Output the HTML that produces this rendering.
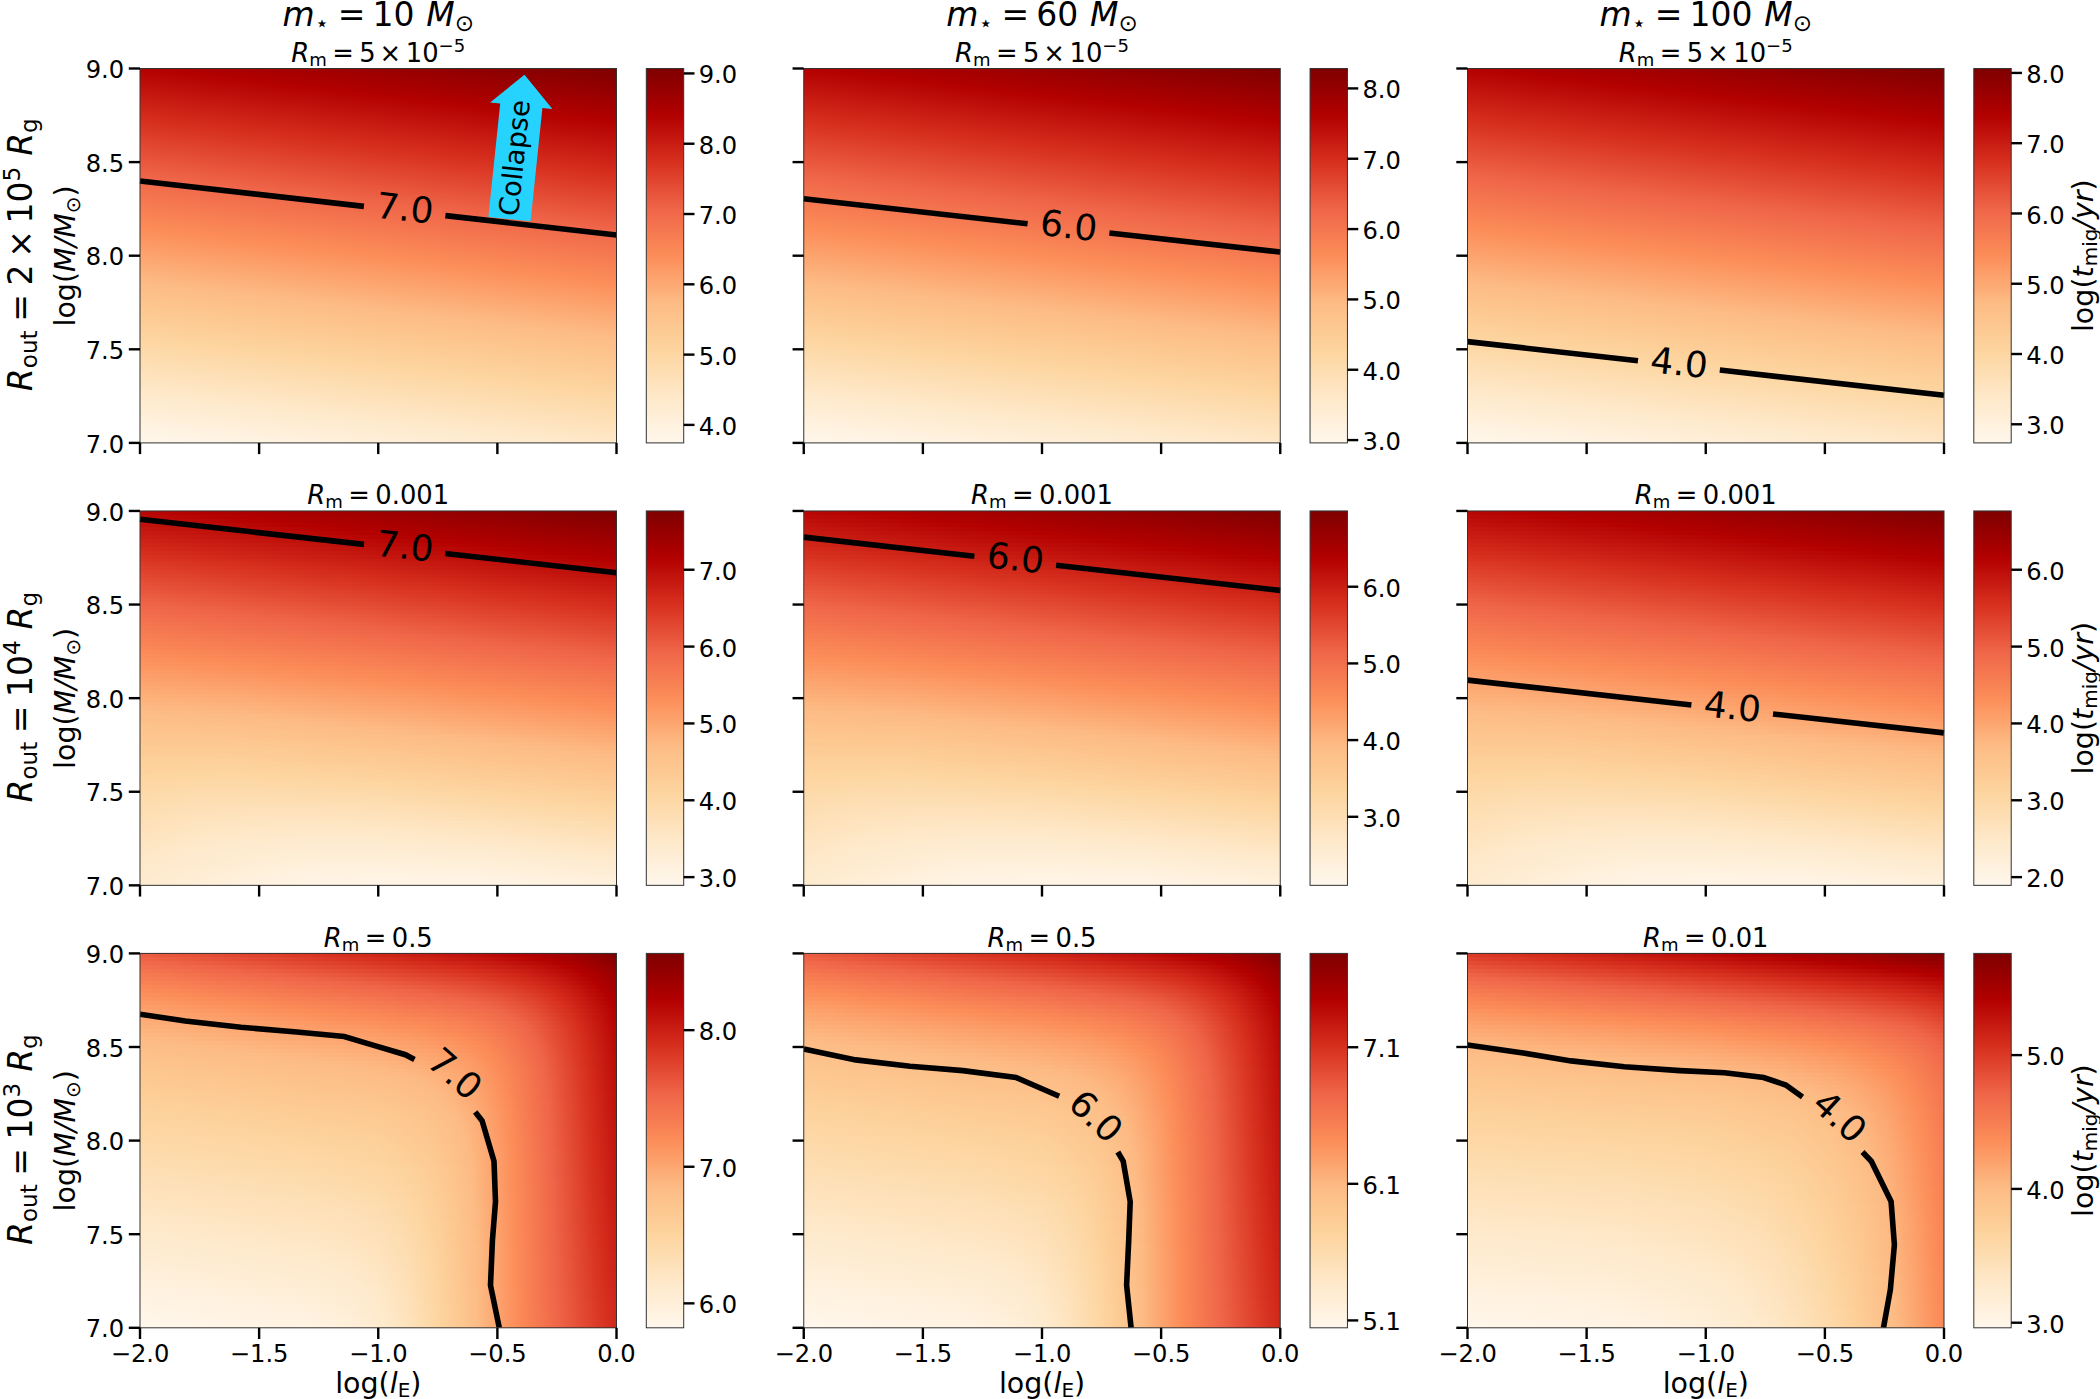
<!DOCTYPE html>
<html><head><meta charset="utf-8"><title>Migration timescale maps</title>
<style>html,body{margin:0;padding:0;background:#fff}svg{display:block}text{font-family:'DejaVu Sans','Liberation Sans',sans-serif;fill:#000}</style>
</head><body>
<svg width="2100" height="1399" viewBox="0 0 2100 1399">
<defs>
<linearGradient id="g00" gradientUnits="userSpaceOnUse" x1="140.00" y1="442.90" x2="187.99" y2="19.88"><stop offset="0" stop-color="#fff7ec"/><stop offset=".125" stop-color="#fee8c8"/><stop offset=".25" stop-color="#fdd49e"/><stop offset=".375" stop-color="#fdbb84"/><stop offset=".5" stop-color="#fc8d59"/><stop offset=".625" stop-color="#ef6548"/><stop offset=".75" stop-color="#d7301f"/><stop offset=".875" stop-color="#b30000"/><stop offset="1" stop-color="#7f0000"/></linearGradient>
<linearGradient id="g01" gradientUnits="userSpaceOnUse" x1="803.75" y1="442.90" x2="851.74" y2="19.88"><stop offset="0" stop-color="#fff7ec"/><stop offset=".125" stop-color="#fee8c8"/><stop offset=".25" stop-color="#fdd49e"/><stop offset=".375" stop-color="#fdbb84"/><stop offset=".5" stop-color="#fc8d59"/><stop offset=".625" stop-color="#ef6548"/><stop offset=".75" stop-color="#d7301f"/><stop offset=".875" stop-color="#b30000"/><stop offset="1" stop-color="#7f0000"/></linearGradient>
<linearGradient id="g02" gradientUnits="userSpaceOnUse" x1="1467.50" y1="442.90" x2="1515.49" y2="19.88"><stop offset="0" stop-color="#fff7ec"/><stop offset=".125" stop-color="#fee8c8"/><stop offset=".25" stop-color="#fdd49e"/><stop offset=".375" stop-color="#fdbb84"/><stop offset=".5" stop-color="#fc8d59"/><stop offset=".625" stop-color="#ef6548"/><stop offset=".75" stop-color="#d7301f"/><stop offset=".875" stop-color="#b30000"/><stop offset="1" stop-color="#7f0000"/></linearGradient>
<linearGradient id="g10_0"><stop offset="0" stop-color="#b80705"/><stop offset=".1375" stop-color="#b30000"/><stop offset=".5" stop-color="#9e0000"/><stop offset="1" stop-color="#810000"/></linearGradient>
<linearGradient id="g10_1"><stop offset="0" stop-color="#bb0b07"/><stop offset=".2083" stop-color="#b30000"/><stop offset=".5" stop-color="#a20000"/><stop offset="1" stop-color="#850000"/></linearGradient>
<linearGradient id="g10_2"><stop offset="0" stop-color="#be0f0a"/><stop offset=".2792" stop-color="#b30000"/><stop offset=".5" stop-color="#a60000"/><stop offset="1" stop-color="#890000"/></linearGradient>
<linearGradient id="g10_3"><stop offset="0" stop-color="#c1130c"/><stop offset=".3542" stop-color="#b30000"/><stop offset=".5" stop-color="#ab0000"/><stop offset="1" stop-color="#8d0000"/></linearGradient>
<linearGradient id="g10_4"><stop offset="0" stop-color="#c4170f"/><stop offset=".425" stop-color="#b30000"/><stop offset=".5" stop-color="#af0000"/><stop offset="1" stop-color="#920000"/></linearGradient>
<linearGradient id="g10_5"><stop offset="0" stop-color="#c71b11"/><stop offset=".5" stop-color="#b30000"/><stop offset="1" stop-color="#960000"/></linearGradient>
<linearGradient id="g10_6"><stop offset="0" stop-color="#ca1e14"/><stop offset=".5" stop-color="#b60403"/><stop offset=".575" stop-color="#b30000"/><stop offset="1" stop-color="#9a0000"/></linearGradient>
<linearGradient id="g10_7"><stop offset="0" stop-color="#cd2216"/><stop offset=".5" stop-color="#b90805"/><stop offset=".6458" stop-color="#b30000"/><stop offset="1" stop-color="#9e0000"/></linearGradient>
<linearGradient id="g10_8"><stop offset="0" stop-color="#d02619"/><stop offset=".5" stop-color="#bc0c08"/><stop offset=".7167" stop-color="#b30000"/><stop offset="1" stop-color="#a30000"/></linearGradient>
<linearGradient id="g10_9"><stop offset="0" stop-color="#d32a1b"/><stop offset=".5" stop-color="#bf100a"/><stop offset=".7917" stop-color="#b30000"/><stop offset="1" stop-color="#a70000"/></linearGradient>
<linearGradient id="g10_10"><stop offset="0" stop-color="#d52e1e"/><stop offset=".5" stop-color="#c2140d"/><stop offset=".8625" stop-color="#b30000"/><stop offset="1" stop-color="#ab0000"/></linearGradient>
<linearGradient id="g10_11"><stop offset="0" stop-color="#d83221"/><stop offset=".5" stop-color="#c5170f"/><stop offset=".9333" stop-color="#b30000"/><stop offset="1" stop-color="#af0000"/></linearGradient>
<linearGradient id="g10_12"><stop offset="0" stop-color="#da3624"/><stop offset=".1125" stop-color="#d7301f"/><stop offset=".5" stop-color="#c81b12"/><stop offset="1" stop-color="#b30000"/></linearGradient>
<linearGradient id="g10_13"><stop offset="0" stop-color="#dc3b27"/><stop offset=".1875" stop-color="#d7301f"/><stop offset=".5" stop-color="#ca1f14"/><stop offset="1" stop-color="#b60403"/></linearGradient>
<linearGradient id="g10_14"><stop offset="0" stop-color="#de3f2a"/><stop offset=".2583" stop-color="#d7301f"/><stop offset=".5" stop-color="#cd2317"/><stop offset="1" stop-color="#b90805"/></linearGradient>
<linearGradient id="g10_15"><stop offset="0" stop-color="#e0432e"/><stop offset=".3333" stop-color="#d7301f"/><stop offset=".5" stop-color="#d02719"/><stop offset="1" stop-color="#bc0c08"/></linearGradient>
<linearGradient id="g10_16"><stop offset="0" stop-color="#e24731"/><stop offset=".5" stop-color="#d32b1c"/><stop offset="1" stop-color="#bf100a"/></linearGradient>
<linearGradient id="g10_17"><stop offset="0" stop-color="#e44c34"/><stop offset=".5" stop-color="#d62f1e"/><stop offset="1" stop-color="#c2140d"/></linearGradient>
<linearGradient id="g10_18"><stop offset="0" stop-color="#e55038"/><stop offset=".5" stop-color="#d83321"/><stop offset="1" stop-color="#c5180f"/></linearGradient>
<linearGradient id="g10_19"><stop offset="0" stop-color="#e7543b"/><stop offset=".5" stop-color="#da3725"/><stop offset=".625" stop-color="#d7301f"/><stop offset="1" stop-color="#c81c12"/></linearGradient>
<linearGradient id="g10_20"><stop offset="0" stop-color="#e9583e"/><stop offset=".5" stop-color="#dc3c28"/><stop offset=".7" stop-color="#d7301f"/><stop offset="1" stop-color="#cb2015"/></linearGradient>
<linearGradient id="g10_21"><stop offset="0" stop-color="#eb5d41"/><stop offset=".5" stop-color="#de402b"/><stop offset=".7708" stop-color="#d7301f"/><stop offset="1" stop-color="#ce2417"/></linearGradient>
<linearGradient id="g10_22"><stop offset="0" stop-color="#ed6145"/><stop offset=".5" stop-color="#e0442f"/><stop offset=".8417" stop-color="#d7301f"/><stop offset="1" stop-color="#d1281a"/></linearGradient>
<linearGradient id="g10_23"><stop offset="0" stop-color="#ef6548"/><stop offset=".5" stop-color="#e24932"/><stop offset="1" stop-color="#d42b1c"/></linearGradient>
<linearGradient id="g10_24"><stop offset="0" stop-color="#f06849"/><stop offset=".0833" stop-color="#ef6548"/><stop offset=".5" stop-color="#e44d35"/><stop offset="1" stop-color="#d72f1f"/></linearGradient>
<linearGradient id="g10_25"><stop offset="0" stop-color="#f16b4b"/><stop offset=".1583" stop-color="#ef6548"/><stop offset=".5" stop-color="#e65139"/><stop offset="1" stop-color="#d93422"/></linearGradient>
<linearGradient id="g10_26"><stop offset="0" stop-color="#f26e4c"/><stop offset=".2333" stop-color="#ef6548"/><stop offset=".5" stop-color="#e8563c"/><stop offset="1" stop-color="#db3825"/></linearGradient>
<linearGradient id="g10_27"><stop offset="0" stop-color="#f3724d"/><stop offset=".3083" stop-color="#ef6548"/><stop offset=".5" stop-color="#ea5a3f"/><stop offset="1" stop-color="#dd3c29"/></linearGradient>
<linearGradient id="g10_28"><stop offset="0" stop-color="#f4754f"/><stop offset=".3833" stop-color="#ef6548"/><stop offset=".5" stop-color="#ec5e43"/><stop offset="1" stop-color="#df412c"/></linearGradient>
<linearGradient id="g10_29"><stop offset="0" stop-color="#f57850"/><stop offset=".5" stop-color="#ee6346"/><stop offset="1" stop-color="#e0452f"/></linearGradient>
<linearGradient id="g10_30"><stop offset="0" stop-color="#f67b51"/><stop offset=".5" stop-color="#ef6649"/><stop offset="1" stop-color="#e24933"/></linearGradient>
<linearGradient id="g10_31"><stop offset="0" stop-color="#f77e53"/><stop offset=".5" stop-color="#f16a4a"/><stop offset=".6083" stop-color="#ef6548"/><stop offset="1" stop-color="#e44e36"/></linearGradient>
<linearGradient id="g10_32"><stop offset="0" stop-color="#f88154"/><stop offset=".5" stop-color="#f26d4b"/><stop offset=".6792" stop-color="#ef6548"/><stop offset="1" stop-color="#e65239"/></linearGradient>
<linearGradient id="g10_33"><stop offset="0" stop-color="#f98455"/><stop offset=".5" stop-color="#f3704d"/><stop offset=".75" stop-color="#ef6548"/><stop offset="1" stop-color="#e8563d"/></linearGradient>
<linearGradient id="g10_34"><stop offset="0" stop-color="#fa8757"/><stop offset=".5" stop-color="#f4734e"/><stop offset=".825" stop-color="#ef6548"/><stop offset="1" stop-color="#ea5b40"/></linearGradient>
<linearGradient id="g10_35"><stop offset="0" stop-color="#fb8b58"/><stop offset=".5" stop-color="#f5774f"/><stop offset=".8958" stop-color="#ef6548"/><stop offset="1" stop-color="#ec5f43"/></linearGradient>
<linearGradient id="g10_36"><stop offset="0" stop-color="#fc8e5a"/><stop offset=".5" stop-color="#f67a51"/><stop offset="1" stop-color="#ee6347"/></linearGradient>
<linearGradient id="g10_37"><stop offset="0" stop-color="#fc915d"/><stop offset=".1125" stop-color="#fc8d59"/><stop offset=".5" stop-color="#f77d52"/><stop offset="1" stop-color="#f06749"/></linearGradient>
<linearGradient id="g10_38"><stop offset="0" stop-color="#fc9560"/><stop offset=".1958" stop-color="#fc8d59"/><stop offset=".5" stop-color="#f88054"/><stop offset="1" stop-color="#f16a4a"/></linearGradient>
<linearGradient id="g10_39"><stop offset="0" stop-color="#fc9863"/><stop offset=".2792" stop-color="#fc8d59"/><stop offset=".5" stop-color="#f98455"/><stop offset="1" stop-color="#f26d4c"/></linearGradient>
<linearGradient id="g10_40"><stop offset="0" stop-color="#fc9c67"/><stop offset=".3542" stop-color="#fc8d59"/><stop offset=".5" stop-color="#fa8756"/><stop offset="1" stop-color="#f3714d"/></linearGradient>
<linearGradient id="g10_41"><stop offset="0" stop-color="#fc9f6a"/><stop offset=".5" stop-color="#fb8a58"/><stop offset="1" stop-color="#f4744e"/></linearGradient>
<linearGradient id="g10_42"><stop offset="0" stop-color="#fca26d"/><stop offset=".2042" stop-color="#fc9b66"/><stop offset=".5" stop-color="#fc8d59"/><stop offset="1" stop-color="#f57750"/></linearGradient>
<linearGradient id="g10_43"><stop offset="0" stop-color="#fda670"/><stop offset=".2042" stop-color="#fc9f6a"/><stop offset=".5" stop-color="#fc915d"/><stop offset=".5833" stop-color="#fc8d59"/><stop offset="1" stop-color="#f67a51"/></linearGradient>
<linearGradient id="g10_44"><stop offset="0" stop-color="#fda973"/><stop offset=".2042" stop-color="#fca26d"/><stop offset=".5" stop-color="#fc9560"/><stop offset=".6583" stop-color="#fc8d59"/><stop offset="1" stop-color="#f77e53"/></linearGradient>
<linearGradient id="g10_45"><stop offset="0" stop-color="#fdac76"/><stop offset=".2042" stop-color="#fda670"/><stop offset=".5" stop-color="#fc9964"/><stop offset=".7292" stop-color="#fc8d59"/><stop offset="1" stop-color="#f88154"/></linearGradient>
<linearGradient id="g10_46"><stop offset="0" stop-color="#fdb079"/><stop offset=".2042" stop-color="#fdaa74"/><stop offset=".5" stop-color="#fc9c67"/><stop offset=".8042" stop-color="#fc8d59"/><stop offset="1" stop-color="#f98455"/></linearGradient>
<linearGradient id="g10_47"><stop offset="0" stop-color="#fdb37d"/><stop offset=".2042" stop-color="#fdad77"/><stop offset=".5" stop-color="#fca06b"/><stop offset=".875" stop-color="#fc8d59"/><stop offset="1" stop-color="#fa8757"/></linearGradient>
<linearGradient id="g10_48"><stop offset="0" stop-color="#fdb680"/><stop offset=".2083" stop-color="#fdb17a"/><stop offset=".5" stop-color="#fca46e"/><stop offset=".95" stop-color="#fc8d59"/><stop offset="1" stop-color="#fb8b58"/></linearGradient>
<linearGradient id="g10_49"><stop offset="0" stop-color="#fdb983"/><stop offset=".2083" stop-color="#fdb47e"/><stop offset=".5" stop-color="#fda772"/><stop offset="1" stop-color="#fc8e5a"/></linearGradient>
<linearGradient id="g10_50"><stop offset="0" stop-color="#fdbc85"/><stop offset=".1875" stop-color="#fdb881"/><stop offset=".5" stop-color="#fdab75"/><stop offset="1" stop-color="#fc925e"/></linearGradient>
<linearGradient id="g10_51"><stop offset="0" stop-color="#fdbe87"/><stop offset=".2125" stop-color="#fdbb84"/><stop offset=".5" stop-color="#fdaf79"/><stop offset="1" stop-color="#fc9661"/></linearGradient>
<linearGradient id="g10_52"><stop offset="0" stop-color="#fdbf88"/><stop offset=".3042" stop-color="#fdbb84"/><stop offset=".5" stop-color="#fdb27c"/><stop offset="1" stop-color="#fc9965"/></linearGradient>
<linearGradient id="g10_53"><stop offset="0" stop-color="#fdc18a"/><stop offset=".3208" stop-color="#fdbd86"/><stop offset=".5" stop-color="#fdb67f"/><stop offset="1" stop-color="#fc9d68"/></linearGradient>
<linearGradient id="g10_54"><stop offset="0" stop-color="#fdc38c"/><stop offset=".2292" stop-color="#fdc08a"/><stop offset=".5" stop-color="#fdba83"/><stop offset="1" stop-color="#fca16c"/></linearGradient>
<linearGradient id="g10_55"><stop offset="0" stop-color="#fdc48e"/><stop offset=".2125" stop-color="#fdc38c"/><stop offset=".5" stop-color="#fdbc85"/><stop offset="1" stop-color="#fda56f"/></linearGradient>
<linearGradient id="g10_56"><stop offset="0" stop-color="#fdc68f"/><stop offset=".2125" stop-color="#fdc48e"/><stop offset=".5" stop-color="#fdbe87"/><stop offset=".6333" stop-color="#fdbb84"/><stop offset="1" stop-color="#fda873"/></linearGradient>
<linearGradient id="g10_57"><stop offset="0" stop-color="#fdc791"/><stop offset=".2125" stop-color="#fdc690"/><stop offset=".5" stop-color="#fdc08a"/><stop offset=".7042" stop-color="#fdbb84"/><stop offset="1" stop-color="#fdac76"/></linearGradient>
<linearGradient id="g10_58"><stop offset="0" stop-color="#fdc993"/><stop offset=".2125" stop-color="#fdc892"/><stop offset=".5" stop-color="#fdc28c"/><stop offset=".7792" stop-color="#fdbb84"/><stop offset="1" stop-color="#fdb07a"/></linearGradient>
<linearGradient id="g10_59"><stop offset="0" stop-color="#fdcb94"/><stop offset=".2167" stop-color="#fdca93"/><stop offset=".5" stop-color="#fdc48e"/><stop offset=".8542" stop-color="#fdbb84"/><stop offset="1" stop-color="#fdb47d"/></linearGradient>
<linearGradient id="g10_60"><stop offset="0" stop-color="#fdcc96"/><stop offset=".2167" stop-color="#fdcc95"/><stop offset=".5" stop-color="#fdc690"/><stop offset=".925" stop-color="#fdbb84"/><stop offset="1" stop-color="#fdb781"/></linearGradient>
<linearGradient id="g10_61"><stop offset="0" stop-color="#fdce97"/><stop offset=".2167" stop-color="#fdcd97"/><stop offset=".5" stop-color="#fdc892"/><stop offset="1" stop-color="#fdbb84"/></linearGradient>
<linearGradient id="g10_62"><stop offset="0" stop-color="#fdcf99"/><stop offset=".2167" stop-color="#fdcf99"/><stop offset=".5" stop-color="#fdca94"/><stop offset="1" stop-color="#fdbd86"/></linearGradient>
<linearGradient id="g10_63"><stop offset="0" stop-color="#fdd19a"/><stop offset=".2208" stop-color="#fdd19b"/><stop offset=".5" stop-color="#fdcc96"/><stop offset="1" stop-color="#fdbf88"/></linearGradient>
<linearGradient id="g10_64"><stop offset="0" stop-color="#fdd29c"/><stop offset=".2208" stop-color="#fdd39d"/><stop offset=".5" stop-color="#fdce98"/><stop offset="1" stop-color="#fdc18a"/></linearGradient>
<linearGradient id="g10_65"><stop offset="0" stop-color="#fdd39d"/><stop offset=".1917" stop-color="#fdd59f"/><stop offset=".5" stop-color="#fdd09a"/><stop offset="1" stop-color="#fdc38d"/></linearGradient>
<linearGradient id="g10_66"><stop offset="0" stop-color="#fdd59f"/><stop offset=".2083" stop-color="#fdd6a2"/><stop offset=".5" stop-color="#fdd29c"/><stop offset="1" stop-color="#fdc58f"/></linearGradient>
<linearGradient id="g10_67"><stop offset="0" stop-color="#fdd6a2"/><stop offset=".1083" stop-color="#fdd7a4"/><stop offset=".225" stop-color="#fdd7a5"/><stop offset=".5" stop-color="#fdd49e"/><stop offset="1" stop-color="#fdc791"/></linearGradient>
<linearGradient id="g10_68"><stop offset="0" stop-color="#fdd7a4"/><stop offset=".1083" stop-color="#fdd8a7"/><stop offset=".225" stop-color="#fdd8a7"/><stop offset=".5" stop-color="#fdd6a1"/><stop offset="1" stop-color="#fdc993"/></linearGradient>
<linearGradient id="g10_69"><stop offset="0" stop-color="#fdd8a6"/><stop offset=".1125" stop-color="#fdd9a9"/><stop offset=".225" stop-color="#fddaaa"/><stop offset=".5" stop-color="#fdd7a5"/><stop offset="1" stop-color="#fdcb95"/></linearGradient>
<linearGradient id="g10_70"><stop offset="0" stop-color="#fdd9a8"/><stop offset=".1125" stop-color="#fddbac"/><stop offset=".2292" stop-color="#fddbad"/><stop offset=".5" stop-color="#fdd9a8"/><stop offset=".75" stop-color="#fdd49e"/><stop offset="1" stop-color="#fdcd97"/></linearGradient>
<linearGradient id="g10_71"><stop offset="0" stop-color="#fddaaa"/><stop offset=".1125" stop-color="#fddcae"/><stop offset=".2292" stop-color="#fddcb0"/><stop offset=".5" stop-color="#fddaab"/><stop offset=".8292" stop-color="#fdd49e"/><stop offset="1" stop-color="#fdcf99"/></linearGradient>
<linearGradient id="g10_72"><stop offset="0" stop-color="#fddbac"/><stop offset=".1167" stop-color="#fdddb1"/><stop offset=".2333" stop-color="#fddeb2"/><stop offset=".5" stop-color="#fddcae"/><stop offset="1" stop-color="#fdd19b"/></linearGradient>
<linearGradient id="g10_73"><stop offset="0" stop-color="#fddcae"/><stop offset=".1167" stop-color="#fedeb3"/><stop offset=".2333" stop-color="#fedfb5"/><stop offset=".5" stop-color="#fdddb1"/><stop offset="1" stop-color="#fdd39d"/></linearGradient>
<linearGradient id="g10_74"><stop offset="0" stop-color="#fdddb0"/><stop offset=".1167" stop-color="#fedfb6"/><stop offset=".2333" stop-color="#fee0b8"/><stop offset=".3583" stop-color="#fee0b8"/><stop offset=".5" stop-color="#fedfb5"/><stop offset="1" stop-color="#fdd5a0"/></linearGradient>
<linearGradient id="g10_75"><stop offset="0" stop-color="#fddeb2"/><stop offset=".1208" stop-color="#fee0b8"/><stop offset=".2375" stop-color="#fee2ba"/><stop offset=".3625" stop-color="#fee2ba"/><stop offset=".5" stop-color="#fee0b8"/><stop offset="1" stop-color="#fdd7a4"/></linearGradient>
<linearGradient id="g10_76"><stop offset="0" stop-color="#fedfb4"/><stop offset=".1208" stop-color="#fee1ba"/><stop offset=".2375" stop-color="#fee3bd"/><stop offset=".3625" stop-color="#fee3bd"/><stop offset=".5" stop-color="#fee2bb"/><stop offset="1" stop-color="#fdd8a7"/></linearGradient>
<linearGradient id="g10_77"><stop offset="0" stop-color="#fee0b6"/><stop offset=".1208" stop-color="#fee3bc"/><stop offset=".2375" stop-color="#fee4c0"/><stop offset=".3625" stop-color="#fee4c0"/><stop offset=".5" stop-color="#fee3be"/><stop offset=".7042" stop-color="#fee0b7"/><stop offset="1" stop-color="#fddaab"/></linearGradient>
<linearGradient id="g10_78"><stop offset="0" stop-color="#fee0b8"/><stop offset=".1208" stop-color="#fee4bf"/><stop offset=".2417" stop-color="#fee5c2"/><stop offset=".3625" stop-color="#fee6c3"/><stop offset=".5" stop-color="#fee5c1"/><stop offset=".7042" stop-color="#fee2bb"/><stop offset="1" stop-color="#fddcae"/></linearGradient>
<linearGradient id="g10_79"><stop offset="0" stop-color="#fee1ba"/><stop offset=".125" stop-color="#fee5c1"/><stop offset=".2417" stop-color="#fee6c5"/><stop offset=".3667" stop-color="#fee7c6"/><stop offset=".5" stop-color="#fee6c4"/><stop offset=".7042" stop-color="#fee3be"/><stop offset="1" stop-color="#fdddb1"/></linearGradient>
<linearGradient id="g10_80"><stop offset="0" stop-color="#fee2bc"/><stop offset=".125" stop-color="#fee6c3"/><stop offset=".2458" stop-color="#fee8c7"/><stop offset=".3667" stop-color="#fee8c8"/><stop offset=".5" stop-color="#fee8c7"/><stop offset=".7042" stop-color="#fee5c1"/><stop offset="1" stop-color="#fedfb5"/></linearGradient>
<linearGradient id="g10_81"><stop offset="0" stop-color="#fee3be"/><stop offset=".1208" stop-color="#fee7c5"/><stop offset=".2292" stop-color="#fee8c9"/><stop offset=".3583" stop-color="#fee9cb"/><stop offset=".5" stop-color="#fee9ca"/><stop offset=".6958" stop-color="#fee6c5"/><stop offset="1" stop-color="#fee0b8"/></linearGradient>
<linearGradient id="g10_82"><stop offset="0" stop-color="#fee4bf"/><stop offset=".1333" stop-color="#fee8c8"/><stop offset=".2333" stop-color="#fee9cb"/><stop offset=".3625" stop-color="#feeacd"/><stop offset=".5" stop-color="#feeacc"/><stop offset=".6958" stop-color="#fee8c8"/><stop offset="1" stop-color="#fee2bc"/></linearGradient>
<linearGradient id="g10_83"><stop offset="0" stop-color="#fee5c1"/><stop offset=".1042" stop-color="#fee8c8"/><stop offset=".2375" stop-color="#feeacd"/><stop offset=".3625" stop-color="#feebcf"/><stop offset=".5" stop-color="#feebcf"/><stop offset=".7625" stop-color="#fee8c9"/><stop offset="1" stop-color="#fee4bf"/></linearGradient>
<linearGradient id="g10_84"><stop offset="0" stop-color="#fee5c3"/><stop offset=".1042" stop-color="#fee9ca"/><stop offset=".2417" stop-color="#feebcf"/><stop offset=".3667" stop-color="#feecd2"/><stop offset=".5" stop-color="#feecd2"/><stop offset=".7375" stop-color="#feeacc"/><stop offset="1" stop-color="#fee5c2"/></linearGradient>
<linearGradient id="g10_85"><stop offset="0" stop-color="#fee6c4"/><stop offset=".1125" stop-color="#feeacc"/><stop offset=".2458" stop-color="#feecd1"/><stop offset=".3708" stop-color="#feedd4"/><stop offset=".5" stop-color="#feedd4"/><stop offset=".7167" stop-color="#feebd0"/><stop offset="1" stop-color="#fee7c6"/></linearGradient>
<linearGradient id="g10_86"><stop offset="0" stop-color="#fee7c6"/><stop offset=".1208" stop-color="#feeace"/><stop offset=".25" stop-color="#feedd3"/><stop offset=".3708" stop-color="#feeed6"/><stop offset=".5" stop-color="#feeed6"/><stop offset=".7083" stop-color="#feecd3"/><stop offset="1" stop-color="#fee8c9"/></linearGradient>
<linearGradient id="g10_87"><stop offset="0" stop-color="#fee8c7"/><stop offset=".2542" stop-color="#feeed5"/><stop offset=".375" stop-color="#feefd8"/><stop offset=".5" stop-color="#feefd9"/><stop offset=".7083" stop-color="#feeed5"/><stop offset="1" stop-color="#feeacc"/></linearGradient>
<linearGradient id="g10_88"><stop offset="0" stop-color="#fee8c9"/><stop offset=".2583" stop-color="#feeed7"/><stop offset=".3792" stop-color="#fff0db"/><stop offset=".5" stop-color="#fff0db"/><stop offset=".7083" stop-color="#feefd8"/><stop offset="1" stop-color="#feebcf"/></linearGradient>
<linearGradient id="g10_89"><stop offset="0" stop-color="#fee9ca"/><stop offset=".2583" stop-color="#feefd9"/><stop offset=".3792" stop-color="#fff1dd"/><stop offset=".5" stop-color="#fff1de"/><stop offset=".7083" stop-color="#fff0db"/><stop offset="1" stop-color="#feecd2"/></linearGradient>
<linearGradient id="g10_90"><stop offset="0" stop-color="#fee9cc"/><stop offset=".2625" stop-color="#fff0db"/><stop offset=".3792" stop-color="#fff2df"/><stop offset=".5" stop-color="#fff2e0"/><stop offset=".7125" stop-color="#fff1dd"/><stop offset="1" stop-color="#feedd4"/></linearGradient>
<linearGradient id="g10_91"><stop offset="0" stop-color="#feeacd"/><stop offset=".2625" stop-color="#fff1dd"/><stop offset=".3792" stop-color="#fff2e1"/><stop offset=".5" stop-color="#fff3e2"/><stop offset=".7125" stop-color="#fff2e0"/><stop offset="1" stop-color="#feeed7"/></linearGradient>
<linearGradient id="g10_92"><stop offset="0" stop-color="#feebce"/><stop offset=".2625" stop-color="#fff1df"/><stop offset=".3792" stop-color="#fff3e3"/><stop offset=".5" stop-color="#fff4e5"/><stop offset=".7125" stop-color="#fff3e3"/><stop offset="1" stop-color="#fff0da"/></linearGradient>
<linearGradient id="g10_93"><stop offset="0" stop-color="#feebcf"/><stop offset=".2667" stop-color="#fff2e1"/><stop offset=".5" stop-color="#fff5e7"/><stop offset=".7125" stop-color="#fff4e5"/><stop offset="1" stop-color="#fff1dd"/></linearGradient>
<linearGradient id="g11_0"><stop offset="0" stop-color="#b90805"/><stop offset=".15" stop-color="#b30000"/><stop offset=".5" stop-color="#9f0000"/><stop offset="1" stop-color="#810000"/></linearGradient>
<linearGradient id="g11_1"><stop offset="0" stop-color="#bc0c08"/><stop offset=".2208" stop-color="#b30000"/><stop offset=".5" stop-color="#a30000"/><stop offset="1" stop-color="#860000"/></linearGradient>
<linearGradient id="g11_2"><stop offset="0" stop-color="#bf100a"/><stop offset=".2917" stop-color="#b30000"/><stop offset=".5" stop-color="#a70000"/><stop offset="1" stop-color="#8a0000"/></linearGradient>
<linearGradient id="g11_3"><stop offset="0" stop-color="#c2130d"/><stop offset=".3667" stop-color="#b30000"/><stop offset=".5" stop-color="#ab0000"/><stop offset="1" stop-color="#8e0000"/></linearGradient>
<linearGradient id="g11_4"><stop offset="0" stop-color="#c5170f"/><stop offset=".4375" stop-color="#b30000"/><stop offset=".5" stop-color="#af0000"/><stop offset="1" stop-color="#920000"/></linearGradient>
<linearGradient id="g11_5"><stop offset="0" stop-color="#c71b12"/><stop offset=".5" stop-color="#b40100"/><stop offset="1" stop-color="#970000"/></linearGradient>
<linearGradient id="g11_6"><stop offset="0" stop-color="#ca1f14"/><stop offset=".5" stop-color="#b60503"/><stop offset=".5875" stop-color="#b30000"/><stop offset="1" stop-color="#9b0000"/></linearGradient>
<linearGradient id="g11_7"><stop offset="0" stop-color="#cd2317"/><stop offset=".5" stop-color="#b90805"/><stop offset=".6583" stop-color="#b30000"/><stop offset="1" stop-color="#9f0000"/></linearGradient>
<linearGradient id="g11_8"><stop offset="0" stop-color="#d02719"/><stop offset=".5" stop-color="#bc0c08"/><stop offset=".7292" stop-color="#b30000"/><stop offset="1" stop-color="#a30000"/></linearGradient>
<linearGradient id="g11_9"><stop offset="0" stop-color="#d32b1c"/><stop offset=".5" stop-color="#bf100b"/><stop offset=".8042" stop-color="#b30000"/><stop offset="1" stop-color="#a80000"/></linearGradient>
<linearGradient id="g11_10"><stop offset="0" stop-color="#d62f1e"/><stop offset=".5" stop-color="#c2140d"/><stop offset=".875" stop-color="#b30000"/><stop offset="1" stop-color="#ac0000"/></linearGradient>
<linearGradient id="g11_11"><stop offset="0" stop-color="#d83321"/><stop offset=".5" stop-color="#c51810"/><stop offset=".9458" stop-color="#b30000"/><stop offset="1" stop-color="#b00000"/></linearGradient>
<linearGradient id="g11_12"><stop offset="0" stop-color="#da3724"/><stop offset=".125" stop-color="#d7301f"/><stop offset=".5" stop-color="#c81c12"/><stop offset="1" stop-color="#b40101"/></linearGradient>
<linearGradient id="g11_13"><stop offset="0" stop-color="#dc3b28"/><stop offset=".1958" stop-color="#d7301f"/><stop offset=".5" stop-color="#cb2015"/><stop offset="1" stop-color="#b70503"/></linearGradient>
<linearGradient id="g11_14"><stop offset="0" stop-color="#de3f2b"/><stop offset=".2708" stop-color="#d7301f"/><stop offset=".5" stop-color="#ce2417"/><stop offset="1" stop-color="#ba0906"/></linearGradient>
<linearGradient id="g11_15"><stop offset="0" stop-color="#e0442e"/><stop offset=".3417" stop-color="#d7301f"/><stop offset=".5" stop-color="#d1281a"/><stop offset="1" stop-color="#bd0d08"/></linearGradient>
<linearGradient id="g11_16"><stop offset="0" stop-color="#e24832"/><stop offset=".5" stop-color="#d42c1c"/><stop offset="1" stop-color="#c0110b"/></linearGradient>
<linearGradient id="g11_17"><stop offset="0" stop-color="#e44c35"/><stop offset=".5" stop-color="#d7301f"/><stop offset="1" stop-color="#c2150d"/></linearGradient>
<linearGradient id="g11_18"><stop offset="0" stop-color="#e65038"/><stop offset=".5" stop-color="#d93422"/><stop offset="1" stop-color="#c51910"/></linearGradient>
<linearGradient id="g11_19"><stop offset="0" stop-color="#e8553b"/><stop offset=".5" stop-color="#db3825"/><stop offset=".6375" stop-color="#d7301f"/><stop offset="1" stop-color="#c81c12"/></linearGradient>
<linearGradient id="g11_20"><stop offset="0" stop-color="#ea593f"/><stop offset=".5" stop-color="#dd3c29"/><stop offset=".7083" stop-color="#d7301f"/><stop offset="1" stop-color="#cb2015"/></linearGradient>
<linearGradient id="g11_21"><stop offset="0" stop-color="#eb5d42"/><stop offset=".5" stop-color="#df412c"/><stop offset=".7833" stop-color="#d7301f"/><stop offset="1" stop-color="#ce2417"/></linearGradient>
<linearGradient id="g11_22"><stop offset="0" stop-color="#ed6145"/><stop offset=".5" stop-color="#e1452f"/><stop offset=".8542" stop-color="#d7301f"/><stop offset="1" stop-color="#d1281a"/></linearGradient>
<linearGradient id="g11_23"><stop offset="0" stop-color="#ef6548"/><stop offset=".5" stop-color="#e24933"/><stop offset="1" stop-color="#d42c1c"/></linearGradient>
<linearGradient id="g11_24"><stop offset="0" stop-color="#f0694a"/><stop offset=".0917" stop-color="#ef6548"/><stop offset=".5" stop-color="#e44e36"/><stop offset="1" stop-color="#d7301f"/></linearGradient>
<linearGradient id="g11_25"><stop offset="0" stop-color="#f16c4b"/><stop offset=".1667" stop-color="#ef6548"/><stop offset=".5" stop-color="#e65239"/><stop offset="1" stop-color="#d93422"/></linearGradient>
<linearGradient id="g11_26"><stop offset="0" stop-color="#f26f4c"/><stop offset=".2458" stop-color="#ef6548"/><stop offset=".5" stop-color="#e8563d"/><stop offset="1" stop-color="#db3926"/></linearGradient>
<linearGradient id="g11_27"><stop offset="0" stop-color="#f3724e"/><stop offset=".3167" stop-color="#ef6548"/><stop offset=".5" stop-color="#ea5a40"/><stop offset="1" stop-color="#dd3d29"/></linearGradient>
<linearGradient id="g11_28"><stop offset="0" stop-color="#f4754f"/><stop offset=".3917" stop-color="#ef6548"/><stop offset=".5" stop-color="#ec5f43"/><stop offset="1" stop-color="#df412c"/></linearGradient>
<linearGradient id="g11_29"><stop offset="0" stop-color="#f57850"/><stop offset=".5" stop-color="#ee6347"/><stop offset="1" stop-color="#e14630"/></linearGradient>
<linearGradient id="g11_30"><stop offset="0" stop-color="#f67b52"/><stop offset=".5" stop-color="#f06749"/><stop offset="1" stop-color="#e34a33"/></linearGradient>
<linearGradient id="g11_31"><stop offset="0" stop-color="#f77f53"/><stop offset=".5" stop-color="#f16a4a"/><stop offset=".6167" stop-color="#ef6548"/><stop offset="1" stop-color="#e54e36"/></linearGradient>
<linearGradient id="g11_32"><stop offset="0" stop-color="#f88254"/><stop offset=".5" stop-color="#f26d4c"/><stop offset=".6875" stop-color="#ef6548"/><stop offset="1" stop-color="#e7533a"/></linearGradient>
<linearGradient id="g11_33"><stop offset="0" stop-color="#f98555"/><stop offset=".5" stop-color="#f3714d"/><stop offset=".7583" stop-color="#ef6548"/><stop offset="1" stop-color="#e9573d"/></linearGradient>
<linearGradient id="g11_34"><stop offset="0" stop-color="#fa8857"/><stop offset=".5" stop-color="#f4744e"/><stop offset=".8333" stop-color="#ef6548"/><stop offset="1" stop-color="#eb5b40"/></linearGradient>
<linearGradient id="g11_35"><stop offset="0" stop-color="#fb8b58"/><stop offset=".5" stop-color="#f57750"/><stop offset=".9042" stop-color="#ef6548"/><stop offset="1" stop-color="#ec5f44"/></linearGradient>
<linearGradient id="g11_36"><stop offset="0" stop-color="#fc8e5a"/><stop offset=".5" stop-color="#f67a51"/><stop offset="1" stop-color="#ee6447"/></linearGradient>
<linearGradient id="g11_37"><stop offset="0" stop-color="#fc925d"/><stop offset=".1208" stop-color="#fc8d59"/><stop offset=".5" stop-color="#f77d52"/><stop offset="1" stop-color="#f06749"/></linearGradient>
<linearGradient id="g11_38"><stop offset="0" stop-color="#fc9560"/><stop offset=".2042" stop-color="#fc8d59"/><stop offset=".5" stop-color="#f88154"/><stop offset="1" stop-color="#f16b4a"/></linearGradient>
<linearGradient id="g11_39"><stop offset="0" stop-color="#fc9864"/><stop offset=".2875" stop-color="#fc8d59"/><stop offset=".5" stop-color="#f98455"/><stop offset="1" stop-color="#f26e4c"/></linearGradient>
<linearGradient id="g11_40"><stop offset="0" stop-color="#fc9c67"/><stop offset=".3625" stop-color="#fc8d59"/><stop offset=".5" stop-color="#fa8757"/><stop offset="1" stop-color="#f3714d"/></linearGradient>
<linearGradient id="g11_41"><stop offset="0" stop-color="#fc9f6a"/><stop offset=".5" stop-color="#fb8a58"/><stop offset="1" stop-color="#f4744f"/></linearGradient>
<linearGradient id="g11_42"><stop offset="0" stop-color="#fca36d"/><stop offset=".2042" stop-color="#fc9c67"/><stop offset=".5" stop-color="#fc8e5a"/><stop offset="1" stop-color="#f57850"/></linearGradient>
<linearGradient id="g11_43"><stop offset="0" stop-color="#fda670"/><stop offset=".2042" stop-color="#fc9f6a"/><stop offset=".5" stop-color="#fc915d"/><stop offset=".5917" stop-color="#fc8d59"/><stop offset="1" stop-color="#f67b51"/></linearGradient>
<linearGradient id="g11_44"><stop offset="0" stop-color="#fda974"/><stop offset=".2042" stop-color="#fca36d"/><stop offset=".5" stop-color="#fc9561"/><stop offset=".6667" stop-color="#fc8d59"/><stop offset="1" stop-color="#f77e53"/></linearGradient>
<linearGradient id="g11_45"><stop offset="0" stop-color="#fdad77"/><stop offset=".2042" stop-color="#fda671"/><stop offset=".5" stop-color="#fc9964"/><stop offset=".7375" stop-color="#fc8d59"/><stop offset="1" stop-color="#f88154"/></linearGradient>
<linearGradient id="g11_46"><stop offset="0" stop-color="#fdb07a"/><stop offset=".2042" stop-color="#fdaa74"/><stop offset=".5" stop-color="#fc9d68"/><stop offset=".8125" stop-color="#fc8d59"/><stop offset="1" stop-color="#f98555"/></linearGradient>
<linearGradient id="g11_47"><stop offset="0" stop-color="#fdb37d"/><stop offset=".2042" stop-color="#fdad77"/><stop offset=".5" stop-color="#fca06b"/><stop offset=".8833" stop-color="#fc8d59"/><stop offset="1" stop-color="#fa8857"/></linearGradient>
<linearGradient id="g11_48"><stop offset="0" stop-color="#fdb780"/><stop offset=".2083" stop-color="#fdb17a"/><stop offset=".5" stop-color="#fca46e"/><stop offset="1" stop-color="#fb8b58"/></linearGradient>
<linearGradient id="g11_49"><stop offset="0" stop-color="#fdba83"/><stop offset=".2083" stop-color="#fdb47e"/><stop offset=".5" stop-color="#fda872"/><stop offset="1" stop-color="#fc8f5a"/></linearGradient>
<linearGradient id="g11_50"><stop offset="0" stop-color="#fdbc85"/><stop offset=".1875" stop-color="#fdb982"/><stop offset=".5" stop-color="#fdab75"/><stop offset="1" stop-color="#fc925e"/></linearGradient>
<linearGradient id="g11_51"><stop offset="0" stop-color="#fdbe87"/><stop offset=".2208" stop-color="#fdbb84"/><stop offset=".5" stop-color="#fdaf79"/><stop offset="1" stop-color="#fc9661"/></linearGradient>
<linearGradient id="g11_52"><stop offset="0" stop-color="#fdbf89"/><stop offset=".3125" stop-color="#fdbb84"/><stop offset=".5" stop-color="#fdb37c"/><stop offset="1" stop-color="#fc9a65"/></linearGradient>
<linearGradient id="g11_53"><stop offset="0" stop-color="#fdc18a"/><stop offset=".3125" stop-color="#fdbd86"/><stop offset=".5" stop-color="#fdb680"/><stop offset="1" stop-color="#fc9d68"/></linearGradient>
<linearGradient id="g11_54"><stop offset="0" stop-color="#fdc38c"/><stop offset=".225" stop-color="#fdc18a"/><stop offset=".5" stop-color="#fdba83"/><stop offset="1" stop-color="#fca16c"/></linearGradient>
<linearGradient id="g11_55"><stop offset="0" stop-color="#fdc48e"/><stop offset=".2125" stop-color="#fdc38c"/><stop offset=".5" stop-color="#fdbd86"/><stop offset=".5625" stop-color="#fdbb84"/><stop offset="1" stop-color="#fda56f"/></linearGradient>
<linearGradient id="g11_56"><stop offset="0" stop-color="#fdc68f"/><stop offset=".2125" stop-color="#fdc58e"/><stop offset=".5" stop-color="#fdbe88"/><stop offset=".6375" stop-color="#fdbb84"/><stop offset="1" stop-color="#fda973"/></linearGradient>
<linearGradient id="g11_57"><stop offset="0" stop-color="#fdc891"/><stop offset=".2125" stop-color="#fdc690"/><stop offset=".5" stop-color="#fdc08a"/><stop offset=".7125" stop-color="#fdbb84"/><stop offset="1" stop-color="#fdac76"/></linearGradient>
<linearGradient id="g11_58"><stop offset="0" stop-color="#fdc993"/><stop offset=".2125" stop-color="#fdc892"/><stop offset=".5" stop-color="#fdc28c"/><stop offset=".7875" stop-color="#fdbb84"/><stop offset="1" stop-color="#fdb07a"/></linearGradient>
<linearGradient id="g11_59"><stop offset="0" stop-color="#fdcb94"/><stop offset=".2167" stop-color="#fdca94"/><stop offset=".5" stop-color="#fdc48e"/><stop offset=".8583" stop-color="#fdbb84"/><stop offset="1" stop-color="#fdb47d"/></linearGradient>
<linearGradient id="g11_60"><stop offset="0" stop-color="#fdcc96"/><stop offset=".2167" stop-color="#fdcc95"/><stop offset=".5" stop-color="#fdc690"/><stop offset=".9333" stop-color="#fdbb84"/><stop offset="1" stop-color="#fdb881"/></linearGradient>
<linearGradient id="g11_61"><stop offset="0" stop-color="#fdce98"/><stop offset=".2167" stop-color="#fdce97"/><stop offset=".5" stop-color="#fdc892"/><stop offset="1" stop-color="#fdbb84"/></linearGradient>
<linearGradient id="g11_62"><stop offset="0" stop-color="#fdcf99"/><stop offset=".2167" stop-color="#fdcf99"/><stop offset=".5" stop-color="#fdca94"/><stop offset="1" stop-color="#fdbd86"/></linearGradient>
<linearGradient id="g11_63"><stop offset="0" stop-color="#fdd19b"/><stop offset=".2208" stop-color="#fdd19b"/><stop offset=".5" stop-color="#fdcc96"/><stop offset="1" stop-color="#fdbf88"/></linearGradient>
<linearGradient id="g11_64"><stop offset="0" stop-color="#fdd29c"/><stop offset=".2208" stop-color="#fdd39d"/><stop offset=".5" stop-color="#fdce98"/><stop offset="1" stop-color="#fdc18b"/></linearGradient>
<linearGradient id="g11_65"><stop offset="0" stop-color="#fdd49e"/><stop offset=".1917" stop-color="#fdd59f"/><stop offset=".5" stop-color="#fdd09a"/><stop offset="1" stop-color="#fdc38d"/></linearGradient>
<linearGradient id="g11_66"><stop offset="0" stop-color="#fdd5a0"/><stop offset=".2083" stop-color="#fdd6a2"/><stop offset=".5" stop-color="#fdd29c"/><stop offset="1" stop-color="#fdc58f"/></linearGradient>
<linearGradient id="g11_67"><stop offset="0" stop-color="#fdd6a2"/><stop offset=".1083" stop-color="#fdd7a4"/><stop offset=".225" stop-color="#fdd7a5"/><stop offset=".5" stop-color="#fdd49e"/><stop offset="1" stop-color="#fdc791"/></linearGradient>
<linearGradient id="g11_68"><stop offset="0" stop-color="#fdd7a4"/><stop offset=".1083" stop-color="#fdd8a7"/><stop offset=".225" stop-color="#fdd9a8"/><stop offset=".5" stop-color="#fdd6a1"/><stop offset="1" stop-color="#fdc993"/></linearGradient>
<linearGradient id="g11_69"><stop offset="0" stop-color="#fdd8a6"/><stop offset=".1125" stop-color="#fdd9aa"/><stop offset=".225" stop-color="#fddaaa"/><stop offset=".5" stop-color="#fdd7a5"/><stop offset=".675" stop-color="#fdd49e"/><stop offset="1" stop-color="#fdcb95"/></linearGradient>
<linearGradient id="g11_70"><stop offset="0" stop-color="#fdd9a8"/><stop offset=".1125" stop-color="#fddbac"/><stop offset=".2292" stop-color="#fddbad"/><stop offset=".5" stop-color="#fdd9a8"/><stop offset=".7542" stop-color="#fdd49e"/><stop offset="1" stop-color="#fdcd97"/></linearGradient>
<linearGradient id="g11_71"><stop offset="0" stop-color="#fddaaa"/><stop offset=".1125" stop-color="#fddcae"/><stop offset=".2292" stop-color="#fdddb0"/><stop offset=".5" stop-color="#fddaab"/><stop offset=".8333" stop-color="#fdd49e"/><stop offset="1" stop-color="#fdcf99"/></linearGradient>
<linearGradient id="g11_72"><stop offset="0" stop-color="#fddbad"/><stop offset=".1167" stop-color="#fdddb1"/><stop offset=".2333" stop-color="#fddeb3"/><stop offset=".5" stop-color="#fddcae"/><stop offset="1" stop-color="#fdd29b"/></linearGradient>
<linearGradient id="g11_73"><stop offset="0" stop-color="#fddcaf"/><stop offset=".1167" stop-color="#fedeb3"/><stop offset=".2333" stop-color="#fedfb5"/><stop offset=".5" stop-color="#fdddb1"/><stop offset="1" stop-color="#fdd49e"/></linearGradient>
<linearGradient id="g11_74"><stop offset="0" stop-color="#fdddb1"/><stop offset=".1167" stop-color="#fedfb6"/><stop offset=".2333" stop-color="#fee0b8"/><stop offset=".3583" stop-color="#fee0b8"/><stop offset=".5" stop-color="#fedfb5"/><stop offset="1" stop-color="#fdd5a1"/></linearGradient>
<linearGradient id="g11_75"><stop offset="0" stop-color="#fddeb3"/><stop offset=".1208" stop-color="#fee0b8"/><stop offset=".2375" stop-color="#fee2bb"/><stop offset=".3625" stop-color="#fee2ba"/><stop offset=".5" stop-color="#fee0b8"/><stop offset="1" stop-color="#fdd7a4"/></linearGradient>
<linearGradient id="g11_76"><stop offset="0" stop-color="#fedfb5"/><stop offset=".1208" stop-color="#fee1ba"/><stop offset=".2375" stop-color="#fee3bd"/><stop offset=".3625" stop-color="#fee3bd"/><stop offset=".5" stop-color="#fee2bb"/><stop offset="1" stop-color="#fdd8a7"/></linearGradient>
<linearGradient id="g11_77"><stop offset="0" stop-color="#fee0b6"/><stop offset=".1208" stop-color="#fee3bd"/><stop offset=".2375" stop-color="#fee4c0"/><stop offset=".3625" stop-color="#fee4c0"/><stop offset=".5" stop-color="#fee3be"/><stop offset=".7042" stop-color="#fee0b7"/><stop offset="1" stop-color="#fddaab"/></linearGradient>
<linearGradient id="g11_78"><stop offset="0" stop-color="#fee0b8"/><stop offset=".1208" stop-color="#fee4bf"/><stop offset=".2417" stop-color="#fee5c2"/><stop offset=".3625" stop-color="#fee6c3"/><stop offset=".5" stop-color="#fee5c1"/><stop offset=".7042" stop-color="#fee2bb"/><stop offset="1" stop-color="#fddcae"/></linearGradient>
<linearGradient id="g11_79"><stop offset="0" stop-color="#fee1ba"/><stop offset=".125" stop-color="#fee5c1"/><stop offset=".2417" stop-color="#fee6c5"/><stop offset=".3667" stop-color="#fee7c6"/><stop offset=".5" stop-color="#fee6c4"/><stop offset=".7042" stop-color="#fee3be"/><stop offset="1" stop-color="#fdddb2"/></linearGradient>
<linearGradient id="g11_80"><stop offset="0" stop-color="#fee2bc"/><stop offset=".125" stop-color="#fee6c3"/><stop offset=".2458" stop-color="#fee8c7"/><stop offset=".3667" stop-color="#fee8c9"/><stop offset=".5" stop-color="#fee8c7"/><stop offset=".7042" stop-color="#fee5c1"/><stop offset="1" stop-color="#fedfb5"/></linearGradient>
<linearGradient id="g11_81"><stop offset="0" stop-color="#fee3be"/><stop offset=".1208" stop-color="#fee7c5"/><stop offset=".2292" stop-color="#fee8c9"/><stop offset=".3583" stop-color="#fee9cb"/><stop offset=".5" stop-color="#fee9ca"/><stop offset=".6958" stop-color="#fee6c5"/><stop offset="1" stop-color="#fee1b8"/></linearGradient>
<linearGradient id="g11_82"><stop offset="0" stop-color="#fee4bf"/><stop offset=".1333" stop-color="#fee8c8"/><stop offset=".2333" stop-color="#fee9cb"/><stop offset=".3625" stop-color="#feeacd"/><stop offset=".5" stop-color="#feeacc"/><stop offset=".7" stop-color="#fee8c8"/><stop offset="1" stop-color="#fee2bc"/></linearGradient>
<linearGradient id="g11_83"><stop offset="0" stop-color="#fee5c1"/><stop offset=".1042" stop-color="#fee8c8"/><stop offset=".2375" stop-color="#feeacd"/><stop offset=".3625" stop-color="#feebcf"/><stop offset=".5" stop-color="#feebcf"/><stop offset=".7625" stop-color="#fee8c9"/><stop offset="1" stop-color="#fee4bf"/></linearGradient>
<linearGradient id="g11_84"><stop offset="0" stop-color="#fee5c3"/><stop offset=".1042" stop-color="#fee9ca"/><stop offset=".2417" stop-color="#feebcf"/><stop offset=".3667" stop-color="#feecd2"/><stop offset=".5" stop-color="#feecd2"/><stop offset=".7375" stop-color="#feeacc"/><stop offset="1" stop-color="#fee5c2"/></linearGradient>
<linearGradient id="g11_85"><stop offset="0" stop-color="#fee6c4"/><stop offset=".1125" stop-color="#feeacc"/><stop offset=".2458" stop-color="#feecd1"/><stop offset=".3708" stop-color="#feedd4"/><stop offset=".5" stop-color="#feedd4"/><stop offset=".7167" stop-color="#feebd0"/><stop offset="1" stop-color="#fee7c6"/></linearGradient>
<linearGradient id="g11_86"><stop offset="0" stop-color="#fee7c6"/><stop offset=".1208" stop-color="#feeace"/><stop offset=".25" stop-color="#feedd3"/><stop offset=".3708" stop-color="#feeed6"/><stop offset=".5" stop-color="#feeed7"/><stop offset=".7083" stop-color="#feecd3"/><stop offset="1" stop-color="#fee8c9"/></linearGradient>
<linearGradient id="g11_87"><stop offset="0" stop-color="#fee8c8"/><stop offset=".2542" stop-color="#feeed6"/><stop offset=".375" stop-color="#feefd8"/><stop offset=".5" stop-color="#feefd9"/><stop offset=".7083" stop-color="#feeed5"/><stop offset="1" stop-color="#feeacc"/></linearGradient>
<linearGradient id="g11_88"><stop offset="0" stop-color="#fee8c9"/><stop offset=".2583" stop-color="#feeed8"/><stop offset=".3792" stop-color="#fff0db"/><stop offset=".5" stop-color="#fff0db"/><stop offset=".7083" stop-color="#feefd8"/><stop offset="1" stop-color="#feebcf"/></linearGradient>
<linearGradient id="g11_89"><stop offset="0" stop-color="#fee9ca"/><stop offset=".2583" stop-color="#feefd9"/><stop offset=".3792" stop-color="#fff1dd"/><stop offset=".5" stop-color="#fff1de"/><stop offset=".7083" stop-color="#fff0db"/><stop offset="1" stop-color="#feecd2"/></linearGradient>
<linearGradient id="g11_90"><stop offset="0" stop-color="#feeacc"/><stop offset=".2625" stop-color="#fff0db"/><stop offset=".3792" stop-color="#fff2df"/><stop offset=".5" stop-color="#fff2e0"/><stop offset=".7125" stop-color="#fff1dd"/><stop offset="1" stop-color="#feedd5"/></linearGradient>
<linearGradient id="g11_91"><stop offset="0" stop-color="#feeacd"/><stop offset=".2625" stop-color="#fff1dd"/><stop offset=".3792" stop-color="#fff2e1"/><stop offset=".5" stop-color="#fff3e2"/><stop offset=".7125" stop-color="#fff2e0"/><stop offset="1" stop-color="#feeed7"/></linearGradient>
<linearGradient id="g11_92"><stop offset="0" stop-color="#feebce"/><stop offset=".2625" stop-color="#fff2df"/><stop offset=".3792" stop-color="#fff3e3"/><stop offset=".5" stop-color="#fff4e5"/><stop offset=".7125" stop-color="#fff3e3"/><stop offset="1" stop-color="#fff0da"/></linearGradient>
<linearGradient id="g11_93"><stop offset="0" stop-color="#feebcf"/><stop offset=".2667" stop-color="#fff2e1"/><stop offset=".5" stop-color="#fff5e7"/><stop offset=".7125" stop-color="#fff4e5"/><stop offset="1" stop-color="#fff1dd"/></linearGradient>
<linearGradient id="g12_0"><stop offset="0" stop-color="#b80705"/><stop offset=".1375" stop-color="#b30000"/><stop offset=".5" stop-color="#9e0000"/><stop offset="1" stop-color="#810000"/></linearGradient>
<linearGradient id="g12_1"><stop offset="0" stop-color="#bb0b07"/><stop offset=".2083" stop-color="#b30000"/><stop offset=".5" stop-color="#a20000"/><stop offset="1" stop-color="#850000"/></linearGradient>
<linearGradient id="g12_2"><stop offset="0" stop-color="#be0f0a"/><stop offset=".2792" stop-color="#b30000"/><stop offset=".5" stop-color="#a60000"/><stop offset="1" stop-color="#890000"/></linearGradient>
<linearGradient id="g12_3"><stop offset="0" stop-color="#c1130c"/><stop offset=".3542" stop-color="#b30000"/><stop offset=".5" stop-color="#ab0000"/><stop offset="1" stop-color="#8d0000"/></linearGradient>
<linearGradient id="g12_4"><stop offset="0" stop-color="#c4170f"/><stop offset=".425" stop-color="#b30000"/><stop offset=".5" stop-color="#af0000"/><stop offset="1" stop-color="#920000"/></linearGradient>
<linearGradient id="g12_5"><stop offset="0" stop-color="#c71b11"/><stop offset=".5" stop-color="#b30000"/><stop offset="1" stop-color="#960000"/></linearGradient>
<linearGradient id="g12_6"><stop offset="0" stop-color="#ca1e14"/><stop offset=".5" stop-color="#b60403"/><stop offset=".575" stop-color="#b30000"/><stop offset="1" stop-color="#9a0000"/></linearGradient>
<linearGradient id="g12_7"><stop offset="0" stop-color="#cd2216"/><stop offset=".5" stop-color="#b90805"/><stop offset=".6458" stop-color="#b30000"/><stop offset="1" stop-color="#9e0000"/></linearGradient>
<linearGradient id="g12_8"><stop offset="0" stop-color="#d02619"/><stop offset=".5" stop-color="#bc0c08"/><stop offset=".7167" stop-color="#b30000"/><stop offset="1" stop-color="#a30000"/></linearGradient>
<linearGradient id="g12_9"><stop offset="0" stop-color="#d32a1b"/><stop offset=".5" stop-color="#bf100a"/><stop offset=".7917" stop-color="#b30000"/><stop offset="1" stop-color="#a70000"/></linearGradient>
<linearGradient id="g12_10"><stop offset="0" stop-color="#d52e1e"/><stop offset=".5" stop-color="#c2140d"/><stop offset=".8625" stop-color="#b30000"/><stop offset="1" stop-color="#ab0000"/></linearGradient>
<linearGradient id="g12_11"><stop offset="0" stop-color="#d83221"/><stop offset=".5" stop-color="#c5170f"/><stop offset=".9333" stop-color="#b30000"/><stop offset="1" stop-color="#af0000"/></linearGradient>
<linearGradient id="g12_12"><stop offset="0" stop-color="#da3624"/><stop offset=".1125" stop-color="#d7301f"/><stop offset=".5" stop-color="#c81b12"/><stop offset="1" stop-color="#b30000"/></linearGradient>
<linearGradient id="g12_13"><stop offset="0" stop-color="#dc3b27"/><stop offset=".1875" stop-color="#d7301f"/><stop offset=".5" stop-color="#ca1f14"/><stop offset="1" stop-color="#b60403"/></linearGradient>
<linearGradient id="g12_14"><stop offset="0" stop-color="#de3f2a"/><stop offset=".2583" stop-color="#d7301f"/><stop offset=".5" stop-color="#cd2317"/><stop offset="1" stop-color="#b90805"/></linearGradient>
<linearGradient id="g12_15"><stop offset="0" stop-color="#e0432e"/><stop offset=".3333" stop-color="#d7301f"/><stop offset=".5" stop-color="#d02719"/><stop offset="1" stop-color="#bc0c08"/></linearGradient>
<linearGradient id="g12_16"><stop offset="0" stop-color="#e24731"/><stop offset=".5" stop-color="#d32b1c"/><stop offset="1" stop-color="#bf100a"/></linearGradient>
<linearGradient id="g12_17"><stop offset="0" stop-color="#e44c34"/><stop offset=".5" stop-color="#d62f1e"/><stop offset="1" stop-color="#c2140d"/></linearGradient>
<linearGradient id="g12_18"><stop offset="0" stop-color="#e55038"/><stop offset=".5" stop-color="#d83321"/><stop offset="1" stop-color="#c5180f"/></linearGradient>
<linearGradient id="g12_19"><stop offset="0" stop-color="#e7543b"/><stop offset=".5" stop-color="#da3725"/><stop offset=".625" stop-color="#d7301f"/><stop offset="1" stop-color="#c81c12"/></linearGradient>
<linearGradient id="g12_20"><stop offset="0" stop-color="#e9583e"/><stop offset=".5" stop-color="#dc3c28"/><stop offset=".7" stop-color="#d7301f"/><stop offset="1" stop-color="#cb2015"/></linearGradient>
<linearGradient id="g12_21"><stop offset="0" stop-color="#eb5d41"/><stop offset=".5" stop-color="#de402b"/><stop offset=".7708" stop-color="#d7301f"/><stop offset="1" stop-color="#ce2417"/></linearGradient>
<linearGradient id="g12_22"><stop offset="0" stop-color="#ed6145"/><stop offset=".5" stop-color="#e0442f"/><stop offset=".8417" stop-color="#d7301f"/><stop offset="1" stop-color="#d1281a"/></linearGradient>
<linearGradient id="g12_23"><stop offset="0" stop-color="#ef6548"/><stop offset=".5" stop-color="#e24932"/><stop offset="1" stop-color="#d42b1c"/></linearGradient>
<linearGradient id="g12_24"><stop offset="0" stop-color="#f06849"/><stop offset=".0833" stop-color="#ef6548"/><stop offset=".5" stop-color="#e44d35"/><stop offset="1" stop-color="#d72f1f"/></linearGradient>
<linearGradient id="g12_25"><stop offset="0" stop-color="#f16b4b"/><stop offset=".1583" stop-color="#ef6548"/><stop offset=".5" stop-color="#e65139"/><stop offset="1" stop-color="#d93422"/></linearGradient>
<linearGradient id="g12_26"><stop offset="0" stop-color="#f26e4c"/><stop offset=".2333" stop-color="#ef6548"/><stop offset=".5" stop-color="#e8563c"/><stop offset="1" stop-color="#db3825"/></linearGradient>
<linearGradient id="g12_27"><stop offset="0" stop-color="#f3724d"/><stop offset=".3083" stop-color="#ef6548"/><stop offset=".5" stop-color="#ea5a3f"/><stop offset="1" stop-color="#dd3c29"/></linearGradient>
<linearGradient id="g12_28"><stop offset="0" stop-color="#f4754f"/><stop offset=".3833" stop-color="#ef6548"/><stop offset=".5" stop-color="#ec5e43"/><stop offset="1" stop-color="#df412c"/></linearGradient>
<linearGradient id="g12_29"><stop offset="0" stop-color="#f57850"/><stop offset=".5" stop-color="#ee6346"/><stop offset="1" stop-color="#e0452f"/></linearGradient>
<linearGradient id="g12_30"><stop offset="0" stop-color="#f67b51"/><stop offset=".5" stop-color="#ef6649"/><stop offset="1" stop-color="#e24933"/></linearGradient>
<linearGradient id="g12_31"><stop offset="0" stop-color="#f77e53"/><stop offset=".5" stop-color="#f16a4a"/><stop offset=".6083" stop-color="#ef6548"/><stop offset="1" stop-color="#e44e36"/></linearGradient>
<linearGradient id="g12_32"><stop offset="0" stop-color="#f88154"/><stop offset=".5" stop-color="#f26d4b"/><stop offset=".6792" stop-color="#ef6548"/><stop offset="1" stop-color="#e65239"/></linearGradient>
<linearGradient id="g12_33"><stop offset="0" stop-color="#f98455"/><stop offset=".5" stop-color="#f3704d"/><stop offset=".75" stop-color="#ef6548"/><stop offset="1" stop-color="#e8563d"/></linearGradient>
<linearGradient id="g12_34"><stop offset="0" stop-color="#fa8757"/><stop offset=".5" stop-color="#f4734e"/><stop offset=".825" stop-color="#ef6548"/><stop offset="1" stop-color="#ea5b40"/></linearGradient>
<linearGradient id="g12_35"><stop offset="0" stop-color="#fb8b58"/><stop offset=".5" stop-color="#f5774f"/><stop offset=".8958" stop-color="#ef6548"/><stop offset="1" stop-color="#ec5f43"/></linearGradient>
<linearGradient id="g12_36"><stop offset="0" stop-color="#fc8e5a"/><stop offset=".5" stop-color="#f67a51"/><stop offset="1" stop-color="#ee6347"/></linearGradient>
<linearGradient id="g12_37"><stop offset="0" stop-color="#fc915d"/><stop offset=".1125" stop-color="#fc8d59"/><stop offset=".5" stop-color="#f77d52"/><stop offset="1" stop-color="#f06749"/></linearGradient>
<linearGradient id="g12_38"><stop offset="0" stop-color="#fc9560"/><stop offset=".1958" stop-color="#fc8d59"/><stop offset=".5" stop-color="#f88054"/><stop offset="1" stop-color="#f16a4a"/></linearGradient>
<linearGradient id="g12_39"><stop offset="0" stop-color="#fc9863"/><stop offset=".2792" stop-color="#fc8d59"/><stop offset=".5" stop-color="#f98455"/><stop offset="1" stop-color="#f26d4c"/></linearGradient>
<linearGradient id="g12_40"><stop offset="0" stop-color="#fc9c67"/><stop offset=".3542" stop-color="#fc8d59"/><stop offset=".5" stop-color="#fa8756"/><stop offset="1" stop-color="#f3714d"/></linearGradient>
<linearGradient id="g12_41"><stop offset="0" stop-color="#fc9f6a"/><stop offset=".5" stop-color="#fb8a58"/><stop offset="1" stop-color="#f4744e"/></linearGradient>
<linearGradient id="g12_42"><stop offset="0" stop-color="#fca26d"/><stop offset=".2042" stop-color="#fc9b66"/><stop offset=".5" stop-color="#fc8d59"/><stop offset="1" stop-color="#f57750"/></linearGradient>
<linearGradient id="g12_43"><stop offset="0" stop-color="#fda670"/><stop offset=".2042" stop-color="#fc9f6a"/><stop offset=".5" stop-color="#fc915d"/><stop offset=".5833" stop-color="#fc8d59"/><stop offset="1" stop-color="#f67a51"/></linearGradient>
<linearGradient id="g12_44"><stop offset="0" stop-color="#fda973"/><stop offset=".2042" stop-color="#fca26d"/><stop offset=".5" stop-color="#fc9560"/><stop offset=".6583" stop-color="#fc8d59"/><stop offset="1" stop-color="#f77e53"/></linearGradient>
<linearGradient id="g12_45"><stop offset="0" stop-color="#fdac76"/><stop offset=".2042" stop-color="#fda670"/><stop offset=".5" stop-color="#fc9964"/><stop offset=".7292" stop-color="#fc8d59"/><stop offset="1" stop-color="#f88154"/></linearGradient>
<linearGradient id="g12_46"><stop offset="0" stop-color="#fdb079"/><stop offset=".2042" stop-color="#fdaa74"/><stop offset=".5" stop-color="#fc9c67"/><stop offset=".8042" stop-color="#fc8d59"/><stop offset="1" stop-color="#f98455"/></linearGradient>
<linearGradient id="g12_47"><stop offset="0" stop-color="#fdb37d"/><stop offset=".2042" stop-color="#fdad77"/><stop offset=".5" stop-color="#fca06b"/><stop offset=".875" stop-color="#fc8d59"/><stop offset="1" stop-color="#fa8757"/></linearGradient>
<linearGradient id="g12_48"><stop offset="0" stop-color="#fdb680"/><stop offset=".2083" stop-color="#fdb17a"/><stop offset=".5" stop-color="#fca46e"/><stop offset=".95" stop-color="#fc8d59"/><stop offset="1" stop-color="#fb8b58"/></linearGradient>
<linearGradient id="g12_49"><stop offset="0" stop-color="#fdb983"/><stop offset=".2083" stop-color="#fdb47e"/><stop offset=".5" stop-color="#fda772"/><stop offset="1" stop-color="#fc8e5a"/></linearGradient>
<linearGradient id="g12_50"><stop offset="0" stop-color="#fdbc85"/><stop offset=".1875" stop-color="#fdb881"/><stop offset=".5" stop-color="#fdab75"/><stop offset="1" stop-color="#fc925e"/></linearGradient>
<linearGradient id="g12_51"><stop offset="0" stop-color="#fdbe87"/><stop offset=".2125" stop-color="#fdbb84"/><stop offset=".5" stop-color="#fdaf79"/><stop offset="1" stop-color="#fc9661"/></linearGradient>
<linearGradient id="g12_52"><stop offset="0" stop-color="#fdbf88"/><stop offset=".3042" stop-color="#fdbb84"/><stop offset=".5" stop-color="#fdb27c"/><stop offset="1" stop-color="#fc9965"/></linearGradient>
<linearGradient id="g12_53"><stop offset="0" stop-color="#fdc18a"/><stop offset=".3208" stop-color="#fdbd86"/><stop offset=".5" stop-color="#fdb67f"/><stop offset="1" stop-color="#fc9d68"/></linearGradient>
<linearGradient id="g12_54"><stop offset="0" stop-color="#fdc38c"/><stop offset=".2292" stop-color="#fdc08a"/><stop offset=".5" stop-color="#fdba83"/><stop offset="1" stop-color="#fca16c"/></linearGradient>
<linearGradient id="g12_55"><stop offset="0" stop-color="#fdc48e"/><stop offset=".2125" stop-color="#fdc38c"/><stop offset=".5" stop-color="#fdbc85"/><stop offset="1" stop-color="#fda56f"/></linearGradient>
<linearGradient id="g12_56"><stop offset="0" stop-color="#fdc68f"/><stop offset=".2125" stop-color="#fdc48e"/><stop offset=".5" stop-color="#fdbe87"/><stop offset=".6333" stop-color="#fdbb84"/><stop offset="1" stop-color="#fda873"/></linearGradient>
<linearGradient id="g12_57"><stop offset="0" stop-color="#fdc791"/><stop offset=".2125" stop-color="#fdc690"/><stop offset=".5" stop-color="#fdc08a"/><stop offset=".7042" stop-color="#fdbb84"/><stop offset="1" stop-color="#fdac76"/></linearGradient>
<linearGradient id="g12_58"><stop offset="0" stop-color="#fdc993"/><stop offset=".2125" stop-color="#fdc892"/><stop offset=".5" stop-color="#fdc28c"/><stop offset=".7792" stop-color="#fdbb84"/><stop offset="1" stop-color="#fdb07a"/></linearGradient>
<linearGradient id="g12_59"><stop offset="0" stop-color="#fdcb94"/><stop offset=".2167" stop-color="#fdca93"/><stop offset=".5" stop-color="#fdc48e"/><stop offset=".8542" stop-color="#fdbb84"/><stop offset="1" stop-color="#fdb47d"/></linearGradient>
<linearGradient id="g12_60"><stop offset="0" stop-color="#fdcc96"/><stop offset=".2167" stop-color="#fdcc95"/><stop offset=".5" stop-color="#fdc690"/><stop offset=".925" stop-color="#fdbb84"/><stop offset="1" stop-color="#fdb781"/></linearGradient>
<linearGradient id="g12_61"><stop offset="0" stop-color="#fdce97"/><stop offset=".2167" stop-color="#fdcd97"/><stop offset=".5" stop-color="#fdc892"/><stop offset="1" stop-color="#fdbb84"/></linearGradient>
<linearGradient id="g12_62"><stop offset="0" stop-color="#fdcf99"/><stop offset=".2167" stop-color="#fdcf99"/><stop offset=".5" stop-color="#fdca94"/><stop offset="1" stop-color="#fdbd86"/></linearGradient>
<linearGradient id="g12_63"><stop offset="0" stop-color="#fdd19a"/><stop offset=".2208" stop-color="#fdd19b"/><stop offset=".5" stop-color="#fdcc96"/><stop offset="1" stop-color="#fdbf88"/></linearGradient>
<linearGradient id="g12_64"><stop offset="0" stop-color="#fdd29c"/><stop offset=".2208" stop-color="#fdd39d"/><stop offset=".5" stop-color="#fdce98"/><stop offset="1" stop-color="#fdc18a"/></linearGradient>
<linearGradient id="g12_65"><stop offset="0" stop-color="#fdd39d"/><stop offset=".1917" stop-color="#fdd59f"/><stop offset=".5" stop-color="#fdd09a"/><stop offset="1" stop-color="#fdc38d"/></linearGradient>
<linearGradient id="g12_66"><stop offset="0" stop-color="#fdd59f"/><stop offset=".2083" stop-color="#fdd6a2"/><stop offset=".5" stop-color="#fdd29c"/><stop offset="1" stop-color="#fdc58f"/></linearGradient>
<linearGradient id="g12_67"><stop offset="0" stop-color="#fdd6a2"/><stop offset=".1083" stop-color="#fdd7a4"/><stop offset=".225" stop-color="#fdd7a5"/><stop offset=".5" stop-color="#fdd49e"/><stop offset="1" stop-color="#fdc791"/></linearGradient>
<linearGradient id="g12_68"><stop offset="0" stop-color="#fdd7a4"/><stop offset=".1083" stop-color="#fdd8a7"/><stop offset=".225" stop-color="#fdd8a7"/><stop offset=".5" stop-color="#fdd6a1"/><stop offset="1" stop-color="#fdc993"/></linearGradient>
<linearGradient id="g12_69"><stop offset="0" stop-color="#fdd8a6"/><stop offset=".1125" stop-color="#fdd9a9"/><stop offset=".225" stop-color="#fddaaa"/><stop offset=".5" stop-color="#fdd7a5"/><stop offset="1" stop-color="#fdcb95"/></linearGradient>
<linearGradient id="g12_70"><stop offset="0" stop-color="#fdd9a8"/><stop offset=".1125" stop-color="#fddbac"/><stop offset=".2292" stop-color="#fddbad"/><stop offset=".5" stop-color="#fdd9a8"/><stop offset=".75" stop-color="#fdd49e"/><stop offset="1" stop-color="#fdcd97"/></linearGradient>
<linearGradient id="g12_71"><stop offset="0" stop-color="#fddaaa"/><stop offset=".1125" stop-color="#fddcae"/><stop offset=".2292" stop-color="#fddcb0"/><stop offset=".5" stop-color="#fddaab"/><stop offset=".8292" stop-color="#fdd49e"/><stop offset="1" stop-color="#fdcf99"/></linearGradient>
<linearGradient id="g12_72"><stop offset="0" stop-color="#fddbac"/><stop offset=".1167" stop-color="#fdddb1"/><stop offset=".2333" stop-color="#fddeb2"/><stop offset=".5" stop-color="#fddcae"/><stop offset="1" stop-color="#fdd19b"/></linearGradient>
<linearGradient id="g12_73"><stop offset="0" stop-color="#fddcae"/><stop offset=".1167" stop-color="#fedeb3"/><stop offset=".2333" stop-color="#fedfb5"/><stop offset=".5" stop-color="#fdddb1"/><stop offset="1" stop-color="#fdd39d"/></linearGradient>
<linearGradient id="g12_74"><stop offset="0" stop-color="#fdddb0"/><stop offset=".1167" stop-color="#fedfb6"/><stop offset=".2333" stop-color="#fee0b8"/><stop offset=".3583" stop-color="#fee0b8"/><stop offset=".5" stop-color="#fedfb5"/><stop offset="1" stop-color="#fdd5a0"/></linearGradient>
<linearGradient id="g12_75"><stop offset="0" stop-color="#fddeb2"/><stop offset=".1208" stop-color="#fee0b8"/><stop offset=".2375" stop-color="#fee2ba"/><stop offset=".3625" stop-color="#fee2ba"/><stop offset=".5" stop-color="#fee0b8"/><stop offset="1" stop-color="#fdd7a4"/></linearGradient>
<linearGradient id="g12_76"><stop offset="0" stop-color="#fedfb4"/><stop offset=".1208" stop-color="#fee1ba"/><stop offset=".2375" stop-color="#fee3bd"/><stop offset=".3625" stop-color="#fee3bd"/><stop offset=".5" stop-color="#fee2bb"/><stop offset="1" stop-color="#fdd8a7"/></linearGradient>
<linearGradient id="g12_77"><stop offset="0" stop-color="#fee0b6"/><stop offset=".1208" stop-color="#fee3bc"/><stop offset=".2375" stop-color="#fee4c0"/><stop offset=".3625" stop-color="#fee4c0"/><stop offset=".5" stop-color="#fee3be"/><stop offset=".7042" stop-color="#fee0b7"/><stop offset="1" stop-color="#fddaab"/></linearGradient>
<linearGradient id="g12_78"><stop offset="0" stop-color="#fee0b8"/><stop offset=".1208" stop-color="#fee4bf"/><stop offset=".2417" stop-color="#fee5c2"/><stop offset=".3625" stop-color="#fee6c3"/><stop offset=".5" stop-color="#fee5c1"/><stop offset=".7042" stop-color="#fee2bb"/><stop offset="1" stop-color="#fddcae"/></linearGradient>
<linearGradient id="g12_79"><stop offset="0" stop-color="#fee1ba"/><stop offset=".125" stop-color="#fee5c1"/><stop offset=".2417" stop-color="#fee6c5"/><stop offset=".3667" stop-color="#fee7c6"/><stop offset=".5" stop-color="#fee6c4"/><stop offset=".7042" stop-color="#fee3be"/><stop offset="1" stop-color="#fdddb1"/></linearGradient>
<linearGradient id="g12_80"><stop offset="0" stop-color="#fee2bc"/><stop offset=".125" stop-color="#fee6c3"/><stop offset=".2458" stop-color="#fee8c7"/><stop offset=".3667" stop-color="#fee8c8"/><stop offset=".5" stop-color="#fee8c7"/><stop offset=".7042" stop-color="#fee5c1"/><stop offset="1" stop-color="#fedfb5"/></linearGradient>
<linearGradient id="g12_81"><stop offset="0" stop-color="#fee3be"/><stop offset=".1208" stop-color="#fee7c5"/><stop offset=".2292" stop-color="#fee8c9"/><stop offset=".3583" stop-color="#fee9cb"/><stop offset=".5" stop-color="#fee9ca"/><stop offset=".6958" stop-color="#fee6c5"/><stop offset="1" stop-color="#fee0b8"/></linearGradient>
<linearGradient id="g12_82"><stop offset="0" stop-color="#fee4bf"/><stop offset=".1333" stop-color="#fee8c8"/><stop offset=".2333" stop-color="#fee9cb"/><stop offset=".3625" stop-color="#feeacd"/><stop offset=".5" stop-color="#feeacc"/><stop offset=".6958" stop-color="#fee8c8"/><stop offset="1" stop-color="#fee2bc"/></linearGradient>
<linearGradient id="g12_83"><stop offset="0" stop-color="#fee5c1"/><stop offset=".1042" stop-color="#fee8c8"/><stop offset=".2375" stop-color="#feeacd"/><stop offset=".3625" stop-color="#feebcf"/><stop offset=".5" stop-color="#feebcf"/><stop offset=".7625" stop-color="#fee8c9"/><stop offset="1" stop-color="#fee4bf"/></linearGradient>
<linearGradient id="g12_84"><stop offset="0" stop-color="#fee5c3"/><stop offset=".1042" stop-color="#fee9ca"/><stop offset=".2417" stop-color="#feebcf"/><stop offset=".3667" stop-color="#feecd2"/><stop offset=".5" stop-color="#feecd2"/><stop offset=".7375" stop-color="#feeacc"/><stop offset="1" stop-color="#fee5c2"/></linearGradient>
<linearGradient id="g12_85"><stop offset="0" stop-color="#fee6c4"/><stop offset=".1125" stop-color="#feeacc"/><stop offset=".2458" stop-color="#feecd1"/><stop offset=".3708" stop-color="#feedd4"/><stop offset=".5" stop-color="#feedd4"/><stop offset=".7167" stop-color="#feebd0"/><stop offset="1" stop-color="#fee7c6"/></linearGradient>
<linearGradient id="g12_86"><stop offset="0" stop-color="#fee7c6"/><stop offset=".1208" stop-color="#feeace"/><stop offset=".25" stop-color="#feedd3"/><stop offset=".3708" stop-color="#feeed6"/><stop offset=".5" stop-color="#feeed6"/><stop offset=".7083" stop-color="#feecd3"/><stop offset="1" stop-color="#fee8c9"/></linearGradient>
<linearGradient id="g12_87"><stop offset="0" stop-color="#fee8c7"/><stop offset=".2542" stop-color="#feeed5"/><stop offset=".375" stop-color="#feefd8"/><stop offset=".5" stop-color="#feefd9"/><stop offset=".7083" stop-color="#feeed5"/><stop offset="1" stop-color="#feeacc"/></linearGradient>
<linearGradient id="g12_88"><stop offset="0" stop-color="#fee8c9"/><stop offset=".2583" stop-color="#feeed7"/><stop offset=".3792" stop-color="#fff0db"/><stop offset=".5" stop-color="#fff0db"/><stop offset=".7083" stop-color="#feefd8"/><stop offset="1" stop-color="#feebcf"/></linearGradient>
<linearGradient id="g12_89"><stop offset="0" stop-color="#fee9ca"/><stop offset=".2583" stop-color="#feefd9"/><stop offset=".3792" stop-color="#fff1dd"/><stop offset=".5" stop-color="#fff1de"/><stop offset=".7083" stop-color="#fff0db"/><stop offset="1" stop-color="#feecd2"/></linearGradient>
<linearGradient id="g12_90"><stop offset="0" stop-color="#fee9cc"/><stop offset=".2625" stop-color="#fff0db"/><stop offset=".3792" stop-color="#fff2df"/><stop offset=".5" stop-color="#fff2e0"/><stop offset=".7125" stop-color="#fff1dd"/><stop offset="1" stop-color="#feedd4"/></linearGradient>
<linearGradient id="g12_91"><stop offset="0" stop-color="#feeacd"/><stop offset=".2625" stop-color="#fff1dd"/><stop offset=".3792" stop-color="#fff2e1"/><stop offset=".5" stop-color="#fff3e2"/><stop offset=".7125" stop-color="#fff2e0"/><stop offset="1" stop-color="#feeed7"/></linearGradient>
<linearGradient id="g12_92"><stop offset="0" stop-color="#feebce"/><stop offset=".2625" stop-color="#fff1df"/><stop offset=".3792" stop-color="#fff3e3"/><stop offset=".5" stop-color="#fff4e5"/><stop offset=".7125" stop-color="#fff3e3"/><stop offset="1" stop-color="#fff0da"/></linearGradient>
<linearGradient id="g12_93"><stop offset="0" stop-color="#feebcf"/><stop offset=".2667" stop-color="#fff2e1"/><stop offset=".5" stop-color="#fff5e7"/><stop offset=".7125" stop-color="#fff4e5"/><stop offset="1" stop-color="#fff1dd"/></linearGradient>
<linearGradient id="g20_0"><stop offset="0" stop-color="#eb5d42"/><stop offset=".4083" stop-color="#d7301f"/><stop offset=".5" stop-color="#d02619"/><stop offset=".6917" stop-color="#c0110b"/><stop offset=".8125" stop-color="#b30000"/><stop offset=".9083" stop-color="#9e0000"/><stop offset="1" stop-color="#820000"/></linearGradient>
<linearGradient id="g20_1"><stop offset="0" stop-color="#ef6447"/><stop offset=".5" stop-color="#d62e1e"/><stop offset=".7167" stop-color="#c3150e"/><stop offset=".85" stop-color="#b30000"/><stop offset=".925" stop-color="#a00000"/><stop offset="1" stop-color="#870000"/></linearGradient>
<linearGradient id="g20_2"><stop offset="0" stop-color="#f16a4a"/><stop offset=".0667" stop-color="#ef6548"/><stop offset=".5" stop-color="#da3624"/><stop offset=".5542" stop-color="#d7301f"/><stop offset=".7167" stop-color="#c91d13"/><stop offset=".8417" stop-color="#b90805"/><stop offset=".8792" stop-color="#b30000"/><stop offset=".9375" stop-color="#a20000"/><stop offset="1" stop-color="#8c0000"/></linearGradient>
<linearGradient id="g20_3"><stop offset="0" stop-color="#f26f4c"/><stop offset=".1375" stop-color="#ef6548"/><stop offset=".5" stop-color="#dd3e2a"/><stop offset=".65" stop-color="#d52d1d"/><stop offset=".7458" stop-color="#cb2015"/><stop offset=".825" stop-color="#c1130c"/><stop offset=".9042" stop-color="#b30000"/><stop offset="1" stop-color="#910000"/></linearGradient>
<linearGradient id="g20_4"><stop offset="0" stop-color="#f4754f"/><stop offset=".2083" stop-color="#ef6548"/><stop offset=".5" stop-color="#e14630"/><stop offset=".6833" stop-color="#d7301f"/><stop offset=".7542" stop-color="#d02619"/><stop offset=".8125" stop-color="#c81c12"/><stop offset=".8667" stop-color="#bf0f0a"/><stop offset=".9208" stop-color="#b30000"/><stop offset="1" stop-color="#960000"/></linearGradient>
<linearGradient id="g20_5"><stop offset="0" stop-color="#f67a51"/><stop offset=".2792" stop-color="#ef6548"/><stop offset=".5" stop-color="#e54e36"/><stop offset=".6333" stop-color="#de3f2a"/><stop offset=".725" stop-color="#d83220"/><stop offset=".8" stop-color="#cf2518"/><stop offset=".8667" stop-color="#c3150e"/><stop offset=".9375" stop-color="#b30000"/><stop offset="1" stop-color="#9a0000"/></linearGradient>
<linearGradient id="g20_6"><stop offset="0" stop-color="#f77e53"/><stop offset=".3542" stop-color="#ef6548"/><stop offset=".5" stop-color="#e8563c"/><stop offset=".675" stop-color="#df412c"/><stop offset=".7875" stop-color="#d52e1d"/><stop offset=".8667" stop-color="#c71b11"/><stop offset=".95" stop-color="#b20000"/><stop offset="1" stop-color="#9d0000"/></linearGradient>
<linearGradient id="g20_7"><stop offset="0" stop-color="#f98355"/><stop offset=".425" stop-color="#ef6548"/><stop offset=".5" stop-color="#ec5d42"/><stop offset=".6875" stop-color="#e14731"/><stop offset=".75" stop-color="#dd3c28"/><stop offset=".8042" stop-color="#d7301f"/><stop offset=".8792" stop-color="#c81c12"/><stop offset=".9583" stop-color="#b30000"/><stop offset="1" stop-color="#a10000"/></linearGradient>
<linearGradient id="g20_8"><stop offset="0" stop-color="#fa8857"/><stop offset=".5" stop-color="#ef6548"/><stop offset=".6167" stop-color="#e9583e"/><stop offset=".7" stop-color="#e44c35"/><stop offset=".7667" stop-color="#de402b"/><stop offset=".8292" stop-color="#d7301f"/><stop offset=".8958" stop-color="#c81b12"/><stop offset=".9667" stop-color="#b30000"/><stop offset="1" stop-color="#a40000"/></linearGradient>
<linearGradient id="g20_9"><stop offset="0" stop-color="#fc8c59"/><stop offset=".5" stop-color="#f16a4a"/><stop offset=".5667" stop-color="#ef6548"/><stop offset=".7" stop-color="#e7533a"/><stop offset=".775" stop-color="#e0442f"/><stop offset=".8417" stop-color="#d83220"/><stop offset=".9042" stop-color="#c91d13"/><stop offset=".975" stop-color="#b30000"/><stop offset="1" stop-color="#a70000"/></linearGradient>
<linearGradient id="g20_10"><stop offset="0" stop-color="#fc915d"/><stop offset=".0583" stop-color="#fc8d59"/><stop offset=".5" stop-color="#f26f4c"/><stop offset=".625" stop-color="#ef6548"/><stop offset=".6833" stop-color="#eb5d42"/><stop offset=".7583" stop-color="#e54f37"/><stop offset=".825" stop-color="#dd3d29"/><stop offset=".875" stop-color="#d42b1c"/><stop offset=".925" stop-color="#c51810"/><stop offset=".9792" stop-color="#b40101"/><stop offset="1" stop-color="#aa0000"/></linearGradient>
<linearGradient id="g20_11"><stop offset="0" stop-color="#fc9661"/><stop offset=".1292" stop-color="#fc8d59"/><stop offset=".5" stop-color="#f4744f"/><stop offset=".675" stop-color="#ef6548"/><stop offset=".7542" stop-color="#e8563c"/><stop offset=".8167" stop-color="#e0452f"/><stop offset=".875" stop-color="#d72f1f"/><stop offset=".925" stop-color="#c81b12"/><stop offset=".9833" stop-color="#b40101"/><stop offset="1" stop-color="#ac0000"/></linearGradient>
<linearGradient id="g20_12"><stop offset="0" stop-color="#fc9a65"/><stop offset=".1958" stop-color="#fc8d59"/><stop offset=".5" stop-color="#f67951"/><stop offset=".6708" stop-color="#f16a4a"/><stop offset=".7125" stop-color="#ef6548"/><stop offset=".7542" stop-color="#eb5c41"/><stop offset=".8167" stop-color="#e34a33"/><stop offset=".8833" stop-color="#d7301f"/><stop offset=".9875" stop-color="#b40201"/><stop offset="1" stop-color="#ae0000"/></linearGradient>
<linearGradient id="g20_13"><stop offset="0" stop-color="#fc9f69"/><stop offset=".2667" stop-color="#fc8d59"/><stop offset=".5" stop-color="#f77e53"/><stop offset=".6583" stop-color="#f3704d"/><stop offset=".7375" stop-color="#ef6548"/><stop offset=".7542" stop-color="#ed6145"/><stop offset=".8208" stop-color="#e44d35"/><stop offset=".8917" stop-color="#d7301f"/><stop offset=".9917" stop-color="#b40201"/><stop offset="1" stop-color="#b00000"/></linearGradient>
<linearGradient id="g20_14"><stop offset="0" stop-color="#fca36d"/><stop offset=".3375" stop-color="#fc8d59"/><stop offset=".5" stop-color="#f98355"/><stop offset=".6583" stop-color="#f4754f"/><stop offset=".7125" stop-color="#f26e4c"/><stop offset=".7625" stop-color="#ef6548"/><stop offset=".8292" stop-color="#e54e36"/><stop offset=".8958" stop-color="#d73120"/><stop offset="1" stop-color="#b20000"/></linearGradient>
<linearGradient id="g20_15"><stop offset="0" stop-color="#fda771"/><stop offset=".4042" stop-color="#fc8d59"/><stop offset=".5" stop-color="#fa8756"/><stop offset=".6625" stop-color="#f57950"/><stop offset=".7208" stop-color="#f3714d"/><stop offset=".775" stop-color="#ef6648"/><stop offset=".8375" stop-color="#e54f37"/><stop offset=".9042" stop-color="#d7301f"/><stop offset="1" stop-color="#b40101"/></linearGradient>
<linearGradient id="g20_16"><stop offset="0" stop-color="#fdaa75"/><stop offset=".5" stop-color="#fb8b58"/><stop offset=".6" stop-color="#f98455"/><stop offset=".6708" stop-color="#f77c52"/><stop offset=".7333" stop-color="#f3724e"/><stop offset=".7875" stop-color="#ef6648"/><stop offset=".8417" stop-color="#e65038"/><stop offset=".9083" stop-color="#d7301f"/><stop offset="1" stop-color="#b50201"/></linearGradient>
<linearGradient id="g20_17"><stop offset="0" stop-color="#fdae78"/><stop offset=".5" stop-color="#fc905c"/><stop offset=".6042" stop-color="#fa8757"/><stop offset=".675" stop-color="#f88053"/><stop offset=".7375" stop-color="#f4754f"/><stop offset=".7917" stop-color="#f06849"/><stop offset=".8042" stop-color="#ee6447"/><stop offset=".8417" stop-color="#e7543b"/><stop offset=".9125" stop-color="#d7301f"/><stop offset="1" stop-color="#b60402"/></linearGradient>
<linearGradient id="g20_18"><stop offset="0" stop-color="#fdb27b"/><stop offset=".5" stop-color="#fc9460"/><stop offset=".5875" stop-color="#fc8d59"/><stop offset=".675" stop-color="#f98355"/><stop offset=".7333" stop-color="#f67951"/><stop offset=".7875" stop-color="#f16c4b"/><stop offset=".8083" stop-color="#ef6548"/><stop offset=".8208" stop-color="#ed6044"/><stop offset=".8625" stop-color="#e44c35"/><stop offset=".9125" stop-color="#d83220"/><stop offset="1" stop-color="#b70503"/></linearGradient>
<linearGradient id="g20_19"><stop offset="0" stop-color="#fdb57e"/><stop offset=".5" stop-color="#fc9964"/><stop offset=".5875" stop-color="#fc915d"/><stop offset=".6708" stop-color="#fa8757"/><stop offset=".7292" stop-color="#f77d52"/><stop offset=".7833" stop-color="#f2704c"/><stop offset=".8167" stop-color="#ef6548"/><stop offset=".8625" stop-color="#e54f37"/><stop offset=".9167" stop-color="#d83120"/><stop offset="1" stop-color="#b70604"/></linearGradient>
<linearGradient id="g20_20"><stop offset="0" stop-color="#fdb881"/><stop offset=".5" stop-color="#fc9d68"/><stop offset=".5958" stop-color="#fc9560"/><stop offset=".6708" stop-color="#fb8b58"/><stop offset=".725" stop-color="#f88154"/><stop offset=".7792" stop-color="#f4734e"/><stop offset=".825" stop-color="#ee6447"/><stop offset=".9208" stop-color="#d7301f"/><stop offset="1" stop-color="#b80704"/></linearGradient>
<linearGradient id="g20_21"><stop offset="0" stop-color="#fdbb84"/><stop offset=".5" stop-color="#fca16b"/><stop offset=".5833" stop-color="#fc9a65"/><stop offset=".65" stop-color="#fc925d"/><stop offset=".6792" stop-color="#fc8d59"/><stop offset=".7208" stop-color="#f98556"/><stop offset=".7792" stop-color="#f4764f"/><stop offset=".8292" stop-color="#ef6447"/><stop offset=".9208" stop-color="#d83220"/><stop offset="1" stop-color="#b90805"/></linearGradient>
<linearGradient id="g20_22"><stop offset="0" stop-color="#fdbd86"/><stop offset=".1792" stop-color="#fdb67f"/><stop offset=".5" stop-color="#fda46f"/><stop offset=".5833" stop-color="#fc9e69"/><stop offset=".65" stop-color="#fc9561"/><stop offset=".6958" stop-color="#fc8d59"/><stop offset=".7208" stop-color="#fa8857"/><stop offset=".775" stop-color="#f67951"/><stop offset=".8333" stop-color="#ef6447"/><stop offset=".925" stop-color="#d7311f"/><stop offset="1" stop-color="#b90906"/></linearGradient>
<linearGradient id="g20_23"><stop offset="0" stop-color="#fdbe87"/><stop offset=".1375" stop-color="#fdbb84"/><stop offset=".5" stop-color="#fda872"/><stop offset=".5833" stop-color="#fca16c"/><stop offset=".65" stop-color="#fc9964"/><stop offset=".7083" stop-color="#fc8d59"/><stop offset=".7708" stop-color="#f77c52"/><stop offset=".8375" stop-color="#ef6447"/><stop offset=".9292" stop-color="#d72f1f"/><stop offset="1" stop-color="#ba0906"/></linearGradient>
<linearGradient id="g20_24"><stop offset="0" stop-color="#fdc089"/><stop offset=".2" stop-color="#fdbb84"/><stop offset=".5" stop-color="#fdac76"/><stop offset=".5833" stop-color="#fda56f"/><stop offset=".65" stop-color="#fc9c67"/><stop offset=".7208" stop-color="#fc8d59"/><stop offset=".7708" stop-color="#f77e53"/><stop offset=".8375" stop-color="#ef6648"/><stop offset=".9292" stop-color="#d7301f"/><stop offset="1" stop-color="#bb0a07"/></linearGradient>
<linearGradient id="g20_25"><stop offset="0" stop-color="#fdc18b"/><stop offset=".2667" stop-color="#fdbb84"/><stop offset=".5" stop-color="#fdaf79"/><stop offset=".5833" stop-color="#fda872"/><stop offset=".65" stop-color="#fc9f6a"/><stop offset=".6917" stop-color="#fc9762"/><stop offset=".7292" stop-color="#fc8d59"/><stop offset=".7667" stop-color="#f88154"/><stop offset=".8417" stop-color="#ef6548"/><stop offset=".9292" stop-color="#d83120"/><stop offset="1" stop-color="#bb0b07"/></linearGradient>
<linearGradient id="g20_26"><stop offset="0" stop-color="#fdc38c"/><stop offset=".3292" stop-color="#fdbb84"/><stop offset=".5" stop-color="#fdb27c"/><stop offset=".5833" stop-color="#fdab75"/><stop offset=".6458" stop-color="#fca36d"/><stop offset=".7" stop-color="#fc9763"/><stop offset=".7333" stop-color="#fc8d59"/><stop offset=".7625" stop-color="#f98455"/><stop offset=".8042" stop-color="#f4754f"/><stop offset=".8458" stop-color="#ef6447"/><stop offset=".9333" stop-color="#d7301f"/><stop offset="1" stop-color="#bc0b07"/></linearGradient>
<linearGradient id="g20_27"><stop offset="0" stop-color="#fdc48d"/><stop offset=".3875" stop-color="#fdbb84"/><stop offset=".5" stop-color="#fdb57e"/><stop offset=".5833" stop-color="#fdae78"/><stop offset=".6458" stop-color="#fda670"/><stop offset=".7" stop-color="#fc9a65"/><stop offset=".7417" stop-color="#fc8d59"/><stop offset=".7625" stop-color="#fa8656"/><stop offset=".8458" stop-color="#ef6548"/><stop offset=".9333" stop-color="#d7301f"/><stop offset="1" stop-color="#bc0c08"/></linearGradient>
<linearGradient id="g20_28"><stop offset="0" stop-color="#fdc58f"/><stop offset=".4208" stop-color="#fdbc85"/><stop offset=".5" stop-color="#fdb881"/><stop offset=".575" stop-color="#fdb27c"/><stop offset=".6333" stop-color="#fdaa74"/><stop offset=".6833" stop-color="#fca06b"/><stop offset=".7333" stop-color="#fc915d"/><stop offset=".7458" stop-color="#fc8d59"/><stop offset=".7917" stop-color="#f77d52"/><stop offset=".8458" stop-color="#ef6648"/><stop offset=".9333" stop-color="#d73120"/><stop offset="1" stop-color="#bc0d08"/></linearGradient>
<linearGradient id="g20_29"><stop offset="0" stop-color="#fdc790"/><stop offset=".5" stop-color="#fdbb84"/><stop offset=".5708" stop-color="#fdb57f"/><stop offset=".6292" stop-color="#fdae77"/><stop offset=".6792" stop-color="#fca36e"/><stop offset=".7292" stop-color="#fc9560"/><stop offset=".75" stop-color="#fc8d59"/><stop offset=".7958" stop-color="#f77c52"/><stop offset=".85" stop-color="#ef6548"/><stop offset=".9333" stop-color="#d83220"/><stop offset="1" stop-color="#bd0d08"/></linearGradient>
<linearGradient id="g20_30"><stop offset="0" stop-color="#fdc891"/><stop offset=".5" stop-color="#fdbc85"/><stop offset=".5583" stop-color="#fdb982"/><stop offset=".625" stop-color="#fdb17a"/><stop offset=".6792" stop-color="#fda670"/><stop offset=".7292" stop-color="#fc9662"/><stop offset=".7542" stop-color="#fc8d59"/><stop offset=".8" stop-color="#f67b52"/><stop offset=".85" stop-color="#ef6548"/><stop offset=".9375" stop-color="#d7301f"/><stop offset="1" stop-color="#bd0e09"/></linearGradient>
<linearGradient id="g20_31"><stop offset="0" stop-color="#fdc993"/><stop offset=".5" stop-color="#fdbe87"/><stop offset=".5667" stop-color="#fdbb84"/><stop offset=".6208" stop-color="#fdb47d"/><stop offset=".675" stop-color="#fda973"/><stop offset=".725" stop-color="#fc9965"/><stop offset=".7583" stop-color="#fc8d59"/><stop offset=".8042" stop-color="#f67a51"/><stop offset=".8542" stop-color="#ee6447"/><stop offset=".9375" stop-color="#d7301f"/><stop offset="1" stop-color="#be0e09"/></linearGradient>
<linearGradient id="g20_32"><stop offset="0" stop-color="#fdca94"/><stop offset=".5" stop-color="#fdbf88"/><stop offset=".5833" stop-color="#fdbb84"/><stop offset=".6125" stop-color="#fdb781"/><stop offset=".6667" stop-color="#fdad77"/><stop offset=".7208" stop-color="#fc9c67"/><stop offset=".7625" stop-color="#fc8c59"/><stop offset=".8542" stop-color="#ef6548"/><stop offset=".9375" stop-color="#d7311f"/><stop offset="1" stop-color="#be0f09"/></linearGradient>
<linearGradient id="g20_33"><stop offset="0" stop-color="#fdcb95"/><stop offset=".5" stop-color="#fdc08a"/><stop offset=".6083" stop-color="#fdba83"/><stop offset=".6625" stop-color="#fdb079"/><stop offset=".7167" stop-color="#fc9f6a"/><stop offset=".7625" stop-color="#fc8d59"/><stop offset=".8542" stop-color="#ef6548"/><stop offset=".9375" stop-color="#d73120"/><stop offset="1" stop-color="#be0f0a"/></linearGradient>
<linearGradient id="g20_34"><stop offset="0" stop-color="#fdcd96"/><stop offset=".5" stop-color="#fdc28b"/><stop offset=".6167" stop-color="#fdbb84"/><stop offset=".6667" stop-color="#fdb07a"/><stop offset=".7125" stop-color="#fca26d"/><stop offset=".7667" stop-color="#fc8c59"/><stop offset=".8542" stop-color="#ef6648"/><stop offset=".9417" stop-color="#d62f1e"/><stop offset="1" stop-color="#bf0f0a"/></linearGradient>
<linearGradient id="g20_35"><stop offset="0" stop-color="#fdce97"/><stop offset=".5" stop-color="#fdc38c"/><stop offset=".575" stop-color="#fdbf89"/><stop offset=".6292" stop-color="#fdbb84"/><stop offset=".6708" stop-color="#fdb17b"/><stop offset=".7125" stop-color="#fca46e"/><stop offset=".7667" stop-color="#fc8d59"/><stop offset=".8542" stop-color="#ef6648"/><stop offset=".9417" stop-color="#d72f1f"/><stop offset="1" stop-color="#bf100a"/></linearGradient>
<linearGradient id="g20_36"><stop offset="0" stop-color="#fdcf99"/><stop offset=".5" stop-color="#fdc48e"/><stop offset=".575" stop-color="#fdc08a"/><stop offset=".6333" stop-color="#fdbb84"/><stop offset=".6708" stop-color="#fdb27c"/><stop offset=".7083" stop-color="#fda671"/><stop offset=".7708" stop-color="#fc8c59"/><stop offset=".8583" stop-color="#ef6447"/><stop offset=".9417" stop-color="#d7301f"/><stop offset="1" stop-color="#bf100a"/></linearGradient>
<linearGradient id="g20_37"><stop offset="0" stop-color="#fdd09a"/><stop offset=".5" stop-color="#fdc58f"/><stop offset=".5792" stop-color="#fdc18b"/><stop offset=".6417" stop-color="#fdbb84"/><stop offset=".7042" stop-color="#fda973"/><stop offset=".7708" stop-color="#fc8d59"/><stop offset=".8583" stop-color="#ef6548"/><stop offset=".9417" stop-color="#d7301f"/><stop offset="1" stop-color="#bf110b"/></linearGradient>
<linearGradient id="g20_38"><stop offset="0" stop-color="#fdd19b"/><stop offset=".5" stop-color="#fdc790"/><stop offset=".5792" stop-color="#fdc28c"/><stop offset=".6458" stop-color="#fdbc85"/><stop offset=".7" stop-color="#fdac76"/><stop offset=".7708" stop-color="#fc8d59"/><stop offset=".8583" stop-color="#ef6548"/><stop offset=".9417" stop-color="#d7311f"/><stop offset="1" stop-color="#c0110b"/></linearGradient>
<linearGradient id="g20_39"><stop offset="0" stop-color="#fdd29c"/><stop offset=".5" stop-color="#fdc891"/><stop offset=".5792" stop-color="#fdc38d"/><stop offset=".6417" stop-color="#fdbd86"/><stop offset=".6583" stop-color="#fdba83"/><stop offset=".7" stop-color="#fdad77"/><stop offset=".775" stop-color="#fc8c59"/><stop offset=".8583" stop-color="#ef6548"/><stop offset=".9417" stop-color="#d73120"/><stop offset="1" stop-color="#c0110b"/></linearGradient>
<linearGradient id="g20_40"><stop offset="0" stop-color="#fdd39d"/><stop offset=".5" stop-color="#fdc992"/><stop offset=".575" stop-color="#fdc58e"/><stop offset=".6333" stop-color="#fdbf88"/><stop offset=".6625" stop-color="#fdba84"/><stop offset=".6958" stop-color="#fdb079"/><stop offset=".7333" stop-color="#fca06b"/><stop offset=".775" stop-color="#fc8d59"/><stop offset=".8583" stop-color="#ef6648"/><stop offset=".9417" stop-color="#d83120"/><stop offset="1" stop-color="#c0120c"/></linearGradient>
<linearGradient id="g20_41"><stop offset="0" stop-color="#fdd49e"/><stop offset=".5" stop-color="#fdca93"/><stop offset=".5708" stop-color="#fdc68f"/><stop offset=".6292" stop-color="#fdc089"/><stop offset=".6667" stop-color="#fdbb84"/><stop offset=".6917" stop-color="#fdb27c"/><stop offset=".7333" stop-color="#fca16c"/><stop offset=".775" stop-color="#fc8d59"/><stop offset=".8583" stop-color="#ef6648"/><stop offset=".9458" stop-color="#d62f1e"/><stop offset="1" stop-color="#c1120c"/></linearGradient>
<linearGradient id="g20_42"><stop offset="0" stop-color="#fdd5a0"/><stop offset=".5" stop-color="#fdcb94"/><stop offset=".5667" stop-color="#fdc791"/><stop offset=".625" stop-color="#fdc28b"/><stop offset=".6667" stop-color="#fdbb84"/><stop offset=".6917" stop-color="#fdb37d"/><stop offset=".7292" stop-color="#fca46e"/><stop offset=".775" stop-color="#fc8e5a"/><stop offset=".8583" stop-color="#ef6649"/><stop offset=".9458" stop-color="#d72f1f"/><stop offset="1" stop-color="#c1130c"/></linearGradient>
<linearGradient id="g20_43"><stop offset="0" stop-color="#fdd6a2"/><stop offset=".5" stop-color="#fdcc96"/><stop offset=".6167" stop-color="#fdc38d"/><stop offset=".6708" stop-color="#fdbb84"/><stop offset=".6875" stop-color="#fdb67f"/><stop offset=".7292" stop-color="#fda46f"/><stop offset=".7792" stop-color="#fc8c59"/><stop offset=".8583" stop-color="#ef6649"/><stop offset=".9458" stop-color="#d7301f"/><stop offset="1" stop-color="#c1130c"/></linearGradient>
<linearGradient id="g20_44"><stop offset="0" stop-color="#fdd7a3"/><stop offset=".5" stop-color="#fdcd97"/><stop offset=".6042" stop-color="#fdc68f"/><stop offset=".6583" stop-color="#fdbe87"/><stop offset=".6833" stop-color="#fdb881"/><stop offset=".7292" stop-color="#fda570"/><stop offset=".7792" stop-color="#fc8c59"/><stop offset=".8625" stop-color="#ef6448"/><stop offset=".9458" stop-color="#d7301f"/><stop offset="1" stop-color="#c2130c"/></linearGradient>
<linearGradient id="g20_45"><stop offset="0" stop-color="#fdd7a5"/><stop offset=".325" stop-color="#fdd29c"/><stop offset=".5" stop-color="#fdce98"/><stop offset=".6042" stop-color="#fdc690"/><stop offset=".6542" stop-color="#fdbf89"/><stop offset=".6833" stop-color="#fdb982"/><stop offset=".7292" stop-color="#fda670"/><stop offset=".7792" stop-color="#fc8d59"/><stop offset=".8625" stop-color="#ef6548"/><stop offset=".9458" stop-color="#d7301f"/><stop offset="1" stop-color="#c2140d"/></linearGradient>
<linearGradient id="g20_46"><stop offset="0" stop-color="#fdd8a7"/><stop offset=".3125" stop-color="#fdd49e"/><stop offset=".5" stop-color="#fdcf99"/><stop offset=".6" stop-color="#fdc891"/><stop offset=".6458" stop-color="#fdc18b"/><stop offset=".6833" stop-color="#fdba83"/><stop offset=".7292" stop-color="#fda671"/><stop offset=".7792" stop-color="#fc8d59"/><stop offset=".8625" stop-color="#ef6548"/><stop offset=".9458" stop-color="#d73120"/><stop offset="1" stop-color="#c2140d"/></linearGradient>
<linearGradient id="g20_47"><stop offset="0" stop-color="#fdd9a8"/><stop offset=".35" stop-color="#fdd49e"/><stop offset=".5" stop-color="#fdd09a"/><stop offset=".6" stop-color="#fdc892"/><stop offset=".6833" stop-color="#fdbb84"/><stop offset=".7292" stop-color="#fda771"/><stop offset=".7792" stop-color="#fc8e59"/><stop offset=".8625" stop-color="#ef6548"/><stop offset=".9458" stop-color="#d73120"/><stop offset="1" stop-color="#c2140d"/></linearGradient>
<linearGradient id="g20_48"><stop offset="0" stop-color="#fddaaa"/><stop offset=".3917" stop-color="#fdd49e"/><stop offset=".5" stop-color="#fdd19b"/><stop offset=".6042" stop-color="#fdc992"/><stop offset=".65" stop-color="#fdc28b"/><stop offset=".6875" stop-color="#fdba83"/><stop offset=".7292" stop-color="#fda872"/><stop offset=".7792" stop-color="#fc8e5a"/><stop offset=".8625" stop-color="#ef6548"/><stop offset=".9458" stop-color="#d83120"/><stop offset="1" stop-color="#c3150d"/></linearGradient>
<linearGradient id="g20_49"><stop offset="0" stop-color="#fddaac"/><stop offset=".3875" stop-color="#fdd5a0"/><stop offset=".5" stop-color="#fdd29c"/><stop offset=".6" stop-color="#fdca93"/><stop offset=".6458" stop-color="#fdc38c"/><stop offset=".6875" stop-color="#fdbb84"/><stop offset=".7292" stop-color="#fda872"/><stop offset=".7833" stop-color="#fc8c59"/><stop offset=".8625" stop-color="#ef6648"/><stop offset=".9458" stop-color="#d83220"/><stop offset="1" stop-color="#c3150e"/></linearGradient>
<linearGradient id="g20_50"><stop offset="0" stop-color="#fddbad"/><stop offset=".35" stop-color="#fdd6a3"/><stop offset=".5" stop-color="#fdd39d"/><stop offset=".6042" stop-color="#fdca94"/><stop offset=".6542" stop-color="#fdc28b"/><stop offset=".6917" stop-color="#fdba83"/><stop offset=".7333" stop-color="#fda671"/><stop offset=".7833" stop-color="#fc8c59"/><stop offset=".8625" stop-color="#ef6648"/><stop offset=".95" stop-color="#d72f1f"/><stop offset="1" stop-color="#c3160e"/></linearGradient>
<linearGradient id="g20_51"><stop offset="0" stop-color="#fddcaf"/><stop offset=".3625" stop-color="#fdd7a4"/><stop offset=".5" stop-color="#fdd39d"/><stop offset=".6042" stop-color="#fdcb94"/><stop offset=".65" stop-color="#fdc38d"/><stop offset=".6917" stop-color="#fdba83"/><stop offset=".7333" stop-color="#fda771"/><stop offset=".7833" stop-color="#fc8d59"/><stop offset=".8625" stop-color="#ef6648"/><stop offset=".95" stop-color="#d7301f"/><stop offset="1" stop-color="#c3160e"/></linearGradient>
<linearGradient id="g20_52"><stop offset="0" stop-color="#fdddb1"/><stop offset=".3708" stop-color="#fdd8a6"/><stop offset=".5" stop-color="#fdd49f"/><stop offset=".6042" stop-color="#fdcb95"/><stop offset=".6917" stop-color="#fdbb84"/><stop offset=".7333" stop-color="#fda772"/><stop offset=".7833" stop-color="#fc8d59"/><stop offset=".8625" stop-color="#ef6648"/><stop offset=".95" stop-color="#d7301f"/><stop offset="1" stop-color="#c4160e"/></linearGradient>
<linearGradient id="g20_53"><stop offset="0" stop-color="#fddeb2"/><stop offset=".3708" stop-color="#fdd8a7"/><stop offset=".5" stop-color="#fdd5a0"/><stop offset=".5542" stop-color="#fdd29b"/><stop offset=".6042" stop-color="#fdcc96"/><stop offset=".6542" stop-color="#fdc48d"/><stop offset=".6958" stop-color="#fdba83"/><stop offset=".7833" stop-color="#fc8d59"/><stop offset=".8625" stop-color="#ef6649"/><stop offset=".95" stop-color="#d7301f"/><stop offset="1" stop-color="#c4170f"/></linearGradient>
<linearGradient id="g20_54"><stop offset="0" stop-color="#fedeb4"/><stop offset=".3708" stop-color="#fdd9a9"/><stop offset=".5" stop-color="#fdd6a2"/><stop offset=".55" stop-color="#fdd39d"/><stop offset=".6042" stop-color="#fdcd96"/><stop offset=".65" stop-color="#fdc58e"/><stop offset=".6958" stop-color="#fdba83"/><stop offset=".7833" stop-color="#fc8d59"/><stop offset=".8625" stop-color="#ef6649"/><stop offset=".95" stop-color="#d73120"/><stop offset="1" stop-color="#c4170f"/></linearGradient>
<linearGradient id="g20_55"><stop offset="0" stop-color="#fedfb5"/><stop offset=".3708" stop-color="#fddaaa"/><stop offset=".5" stop-color="#fdd6a3"/><stop offset=".5458" stop-color="#fdd49e"/><stop offset=".6" stop-color="#fdce98"/><stop offset=".6458" stop-color="#fdc690"/><stop offset=".6958" stop-color="#fdbb84"/><stop offset=".7833" stop-color="#fc8d59"/><stop offset=".8625" stop-color="#ef6649"/><stop offset=".95" stop-color="#d73120"/><stop offset="1" stop-color="#c5170f"/></linearGradient>
<linearGradient id="g20_56"><stop offset="0" stop-color="#fee0b7"/><stop offset=".3708" stop-color="#fddbac"/><stop offset=".5" stop-color="#fdd7a5"/><stop offset=".5542" stop-color="#fdd49e"/><stop offset=".6" stop-color="#fdce98"/><stop offset=".6458" stop-color="#fdc790"/><stop offset=".6958" stop-color="#fdbb84"/><stop offset=".7833" stop-color="#fc8e5a"/><stop offset=".8667" stop-color="#ef6448"/><stop offset=".95" stop-color="#d83120"/><stop offset="1" stop-color="#c5180f"/></linearGradient>
<linearGradient id="g20_57"><stop offset="0" stop-color="#fee1b9"/><stop offset=".3708" stop-color="#fddbae"/><stop offset=".5" stop-color="#fdd8a6"/><stop offset=".5583" stop-color="#fdd49e"/><stop offset=".6" stop-color="#fdcf99"/><stop offset=".65" stop-color="#fdc690"/><stop offset=".7" stop-color="#fdba83"/><stop offset=".7833" stop-color="#fc8e5a"/><stop offset=".8667" stop-color="#ef6548"/><stop offset=".95" stop-color="#d83220"/><stop offset="1" stop-color="#c51810"/></linearGradient>
<linearGradient id="g20_58"><stop offset="0" stop-color="#fee1ba"/><stop offset=".3667" stop-color="#fddcaf"/><stop offset=".5" stop-color="#fdd8a7"/><stop offset=".5625" stop-color="#fdd49f"/><stop offset=".6" stop-color="#fdd099"/><stop offset=".65" stop-color="#fdc790"/><stop offset=".7" stop-color="#fdba83"/><stop offset=".7833" stop-color="#fc8e5a"/><stop offset=".8667" stop-color="#ef6548"/><stop offset=".9542" stop-color="#d7301f"/><stop offset="1" stop-color="#c51910"/></linearGradient>
<linearGradient id="g20_59"><stop offset="0" stop-color="#fee2bc"/><stop offset=".3667" stop-color="#fdddb1"/><stop offset=".5" stop-color="#fdd9a9"/><stop offset=".5625" stop-color="#fdd5a0"/><stop offset=".6" stop-color="#fdd09a"/><stop offset=".65" stop-color="#fdc790"/><stop offset=".7" stop-color="#fdbb84"/><stop offset=".7833" stop-color="#fc8e5a"/><stop offset=".8667" stop-color="#ef6548"/><stop offset=".9542" stop-color="#d7301f"/><stop offset="1" stop-color="#c61910"/></linearGradient>
<linearGradient id="g20_60"><stop offset="0" stop-color="#fee3bd"/><stop offset=".3667" stop-color="#fddeb3"/><stop offset=".5" stop-color="#fddaaa"/><stop offset=".5958" stop-color="#fdd19b"/><stop offset=".6458" stop-color="#fdc892"/><stop offset=".7" stop-color="#fdbb84"/><stop offset=".7875" stop-color="#fc8c59"/><stop offset=".8667" stop-color="#ef6548"/><stop offset=".9542" stop-color="#d7301f"/><stop offset="1" stop-color="#c61910"/></linearGradient>
<linearGradient id="g20_61"><stop offset="0" stop-color="#fee4bf"/><stop offset=".3667" stop-color="#fedfb4"/><stop offset=".5" stop-color="#fddbac"/><stop offset=".5417" stop-color="#fdd8a6"/><stop offset=".5958" stop-color="#fdd29c"/><stop offset=".6458" stop-color="#fdc992"/><stop offset=".7" stop-color="#fdbb84"/><stop offset=".7875" stop-color="#fc8c59"/><stop offset=".8667" stop-color="#ef6548"/><stop offset=".9542" stop-color="#d7311f"/><stop offset="1" stop-color="#c61a11"/></linearGradient>
<linearGradient id="g20_62"><stop offset="0" stop-color="#fee5c1"/><stop offset=".3667" stop-color="#fedfb6"/><stop offset=".5" stop-color="#fddbad"/><stop offset=".5458" stop-color="#fdd8a7"/><stop offset=".5958" stop-color="#fdd39d"/><stop offset=".6458" stop-color="#fdc993"/><stop offset=".7" stop-color="#fdbc85"/><stop offset=".7875" stop-color="#fc8c59"/><stop offset=".8667" stop-color="#ef6548"/><stop offset=".9542" stop-color="#d73120"/><stop offset="1" stop-color="#c71a11"/></linearGradient>
<linearGradient id="g20_63"><stop offset="0" stop-color="#fee5c2"/><stop offset=".3667" stop-color="#fee0b7"/><stop offset=".4417" stop-color="#fedeb4"/><stop offset=".5" stop-color="#fddcae"/><stop offset=".5458" stop-color="#fdd9a8"/><stop offset=".5958" stop-color="#fdd39d"/><stop offset=".65" stop-color="#fdc892"/><stop offset=".7042" stop-color="#fdba83"/><stop offset=".7875" stop-color="#fc8c59"/><stop offset=".8667" stop-color="#ef6648"/><stop offset=".9542" stop-color="#d83120"/><stop offset="1" stop-color="#c71b11"/></linearGradient>
<linearGradient id="g20_64"><stop offset="0" stop-color="#fee6c4"/><stop offset=".3667" stop-color="#fee1b9"/><stop offset=".4417" stop-color="#fedfb5"/><stop offset=".5" stop-color="#fddcb0"/><stop offset=".55" stop-color="#fdd9a8"/><stop offset=".5958" stop-color="#fdd49e"/><stop offset=".65" stop-color="#fdc992"/><stop offset=".7042" stop-color="#fdbb84"/><stop offset=".7875" stop-color="#fc8d59"/><stop offset=".8667" stop-color="#ef6648"/><stop offset=".9542" stop-color="#d83220"/><stop offset="1" stop-color="#c71b11"/></linearGradient>
<linearGradient id="g20_65"><stop offset="0" stop-color="#fee7c5"/><stop offset=".3667" stop-color="#fee2ba"/><stop offset=".4417" stop-color="#fee0b7"/><stop offset=".5" stop-color="#fdddb1"/><stop offset=".55" stop-color="#fdd9a9"/><stop offset=".6" stop-color="#fdd39d"/><stop offset=".65" stop-color="#fdc993"/><stop offset=".7042" stop-color="#fdbb84"/><stop offset=".7875" stop-color="#fc8d59"/><stop offset=".8667" stop-color="#ef6648"/><stop offset=".9583" stop-color="#d7301f"/><stop offset="1" stop-color="#c81b12"/></linearGradient>
<linearGradient id="g20_66"><stop offset="0" stop-color="#fee8c7"/><stop offset=".3667" stop-color="#fee2bc"/><stop offset=".4417" stop-color="#fee0b8"/><stop offset=".5" stop-color="#fddeb2"/><stop offset=".55" stop-color="#fddaaa"/><stop offset=".6" stop-color="#fdd49e"/><stop offset=".65" stop-color="#fdc993"/><stop offset=".7042" stop-color="#fdbb84"/><stop offset=".7875" stop-color="#fc8d59"/><stop offset=".8667" stop-color="#ef6648"/><stop offset=".9583" stop-color="#d7301f"/><stop offset="1" stop-color="#c81c12"/></linearGradient>
<linearGradient id="g20_67"><stop offset="0" stop-color="#fee8c9"/><stop offset=".3667" stop-color="#fee3be"/><stop offset=".4417" stop-color="#fee1b9"/><stop offset=".5" stop-color="#fedeb4"/><stop offset=".5542" stop-color="#fddaab"/><stop offset=".6042" stop-color="#fdd49e"/><stop offset=".65" stop-color="#fdca93"/><stop offset=".7042" stop-color="#fdbb84"/><stop offset=".7875" stop-color="#fc8d59"/><stop offset=".8667" stop-color="#ef6648"/><stop offset=".9583" stop-color="#d7301f"/><stop offset="1" stop-color="#c81c12"/></linearGradient>
<linearGradient id="g20_68"><stop offset="0" stop-color="#fee9ca"/><stop offset=".3625" stop-color="#fee4bf"/><stop offset=".4417" stop-color="#fee2bb"/><stop offset=".5" stop-color="#fedfb5"/><stop offset=".5542" stop-color="#fddbac"/><stop offset=".6042" stop-color="#fdd49e"/><stop offset=".65" stop-color="#fdca94"/><stop offset=".7042" stop-color="#fdbb84"/><stop offset=".7875" stop-color="#fc8d59"/><stop offset=".8667" stop-color="#ef6649"/><stop offset=".9583" stop-color="#d73120"/><stop offset="1" stop-color="#c91d13"/></linearGradient>
<linearGradient id="g20_69"><stop offset="0" stop-color="#fee9cb"/><stop offset=".3625" stop-color="#fee5c1"/><stop offset=".4417" stop-color="#fee2bc"/><stop offset=".5" stop-color="#fee0b6"/><stop offset=".5542" stop-color="#fddbad"/><stop offset=".6083" stop-color="#fdd49e"/><stop offset=".7042" stop-color="#fdbc85"/><stop offset=".7875" stop-color="#fc8d59"/><stop offset=".8667" stop-color="#ef6649"/><stop offset=".9583" stop-color="#d73120"/><stop offset="1" stop-color="#c91d13"/></linearGradient>
<linearGradient id="g20_70"><stop offset="0" stop-color="#feeacd"/><stop offset=".3583" stop-color="#fee5c3"/><stop offset=".4375" stop-color="#fee3be"/><stop offset=".5" stop-color="#fee0b8"/><stop offset=".5542" stop-color="#fddbae"/><stop offset=".6083" stop-color="#fdd49e"/><stop offset=".7042" stop-color="#fdbc85"/><stop offset=".7875" stop-color="#fc8d59"/><stop offset=".8667" stop-color="#f06749"/><stop offset=".9583" stop-color="#d83120"/><stop offset="1" stop-color="#c91e13"/></linearGradient>
<linearGradient id="g20_71"><stop offset="0" stop-color="#feebce"/><stop offset=".3583" stop-color="#fee6c4"/><stop offset=".4375" stop-color="#fee4c0"/><stop offset=".5" stop-color="#fee1b9"/><stop offset=".5542" stop-color="#fddcaf"/><stop offset=".6083" stop-color="#fdd49f"/><stop offset=".6583" stop-color="#fdc992"/><stop offset=".7083" stop-color="#fdba83"/><stop offset=".7875" stop-color="#fc8d59"/><stop offset=".8708" stop-color="#ef6548"/><stop offset=".9583" stop-color="#d83220"/><stop offset="1" stop-color="#c91e13"/></linearGradient>
<linearGradient id="g20_72"><stop offset="0" stop-color="#feebcf"/><stop offset=".3542" stop-color="#fee7c6"/><stop offset=".4375" stop-color="#fee5c1"/><stop offset=".5" stop-color="#fee1ba"/><stop offset=".5583" stop-color="#fddcaf"/><stop offset=".6125" stop-color="#fdd49e"/><stop offset=".7083" stop-color="#fdba83"/><stop offset=".7875" stop-color="#fc8d59"/><stop offset=".8708" stop-color="#ef6548"/><stop offset=".9625" stop-color="#d7301f"/><stop offset="1" stop-color="#ca1e14"/></linearGradient>
<linearGradient id="g20_73"><stop offset="0" stop-color="#feecd1"/><stop offset=".3542" stop-color="#fee8c7"/><stop offset=".4375" stop-color="#fee5c3"/><stop offset=".5" stop-color="#fee2bb"/><stop offset=".5583" stop-color="#fddcb0"/><stop offset=".6125" stop-color="#fdd49f"/><stop offset=".7083" stop-color="#fdbb84"/><stop offset=".7875" stop-color="#fc8d59"/><stop offset=".8708" stop-color="#ef6548"/><stop offset=".9625" stop-color="#d7301f"/><stop offset="1" stop-color="#ca1f14"/></linearGradient>
<linearGradient id="g20_74"><stop offset="0" stop-color="#feecd2"/><stop offset=".375" stop-color="#fee8c8"/><stop offset=".4458" stop-color="#fee6c3"/><stop offset=".5" stop-color="#fee3bd"/><stop offset=".5583" stop-color="#fdddb1"/><stop offset=".6125" stop-color="#fdd59f"/><stop offset=".7083" stop-color="#fdbb84"/><stop offset=".7875" stop-color="#fc8e59"/><stop offset=".8708" stop-color="#ef6548"/><stop offset=".9625" stop-color="#d7311f"/><stop offset="1" stop-color="#ca1f14"/></linearGradient>
<linearGradient id="g20_75"><stop offset="0" stop-color="#feedd3"/><stop offset=".375" stop-color="#fee9c9"/><stop offset=".4417" stop-color="#fee7c5"/><stop offset=".5" stop-color="#fee3be"/><stop offset=".5583" stop-color="#fdddb1"/><stop offset=".6167" stop-color="#fdd49e"/><stop offset=".7083" stop-color="#fdbb84"/><stop offset=".7875" stop-color="#fc8e5a"/><stop offset=".8708" stop-color="#ef6548"/><stop offset=".9625" stop-color="#d73120"/><stop offset="1" stop-color="#cb2014"/></linearGradient>
<linearGradient id="g20_76"><stop offset="0" stop-color="#feedd5"/><stop offset=".3708" stop-color="#fee9cb"/><stop offset=".4375" stop-color="#fee7c7"/><stop offset=".5" stop-color="#fee4bf"/><stop offset=".5583" stop-color="#fddeb2"/><stop offset=".6167" stop-color="#fdd49f"/><stop offset=".7083" stop-color="#fdbb84"/><stop offset=".7875" stop-color="#fc8e5a"/><stop offset=".8708" stop-color="#ef6548"/><stop offset=".9625" stop-color="#d83120"/><stop offset="1" stop-color="#cb2015"/></linearGradient>
<linearGradient id="g20_77"><stop offset="0" stop-color="#feeed6"/><stop offset=".3708" stop-color="#feeacc"/><stop offset=".4417" stop-color="#fee8c8"/><stop offset=".5" stop-color="#fee4c0"/><stop offset=".5583" stop-color="#fedeb3"/><stop offset=".6167" stop-color="#fdd59f"/><stop offset=".7083" stop-color="#fdbb84"/><stop offset=".7875" stop-color="#fc8e5a"/><stop offset=".8708" stop-color="#ef6648"/><stop offset=".9625" stop-color="#d83220"/><stop offset="1" stop-color="#cb2115"/></linearGradient>
<linearGradient id="g20_78"><stop offset="0" stop-color="#feeed8"/><stop offset=".3667" stop-color="#feeace"/><stop offset=".45" stop-color="#fee8c8"/><stop offset=".5" stop-color="#fee5c1"/><stop offset=".5625" stop-color="#fddeb3"/><stop offset=".6208" stop-color="#fdd49e"/><stop offset=".7083" stop-color="#fdbb84"/><stop offset=".7875" stop-color="#fc8e5a"/><stop offset=".8708" stop-color="#ef6648"/><stop offset=".9667" stop-color="#d7301f"/><stop offset="1" stop-color="#cc2115"/></linearGradient>
<linearGradient id="g20_79"><stop offset="0" stop-color="#feefd9"/><stop offset=".3667" stop-color="#feebcf"/><stop offset=".4458" stop-color="#fee9ca"/><stop offset=".5" stop-color="#fee5c3"/><stop offset=".5625" stop-color="#fedeb4"/><stop offset=".6208" stop-color="#fdd49e"/><stop offset=".7083" stop-color="#fdbb84"/><stop offset=".7875" stop-color="#fc8e5a"/><stop offset=".8708" stop-color="#ef6648"/><stop offset=".9667" stop-color="#d7301f"/><stop offset="1" stop-color="#cc2116"/></linearGradient>
<linearGradient id="g20_80"><stop offset="0" stop-color="#fff0da"/><stop offset=".3667" stop-color="#feebd0"/><stop offset=".4458" stop-color="#fee9cb"/><stop offset=".5" stop-color="#fee6c4"/><stop offset=".5625" stop-color="#fedfb4"/><stop offset=".6208" stop-color="#fdd49f"/><stop offset=".7083" stop-color="#fdbb84"/><stop offset=".7875" stop-color="#fc8e5a"/><stop offset=".8708" stop-color="#ef6648"/><stop offset=".9667" stop-color="#d73120"/><stop offset="1" stop-color="#cc2216"/></linearGradient>
<linearGradient id="g20_81"><stop offset="0" stop-color="#fff0dc"/><stop offset=".3625" stop-color="#feecd2"/><stop offset=".4417" stop-color="#feeacd"/><stop offset=".5" stop-color="#fee6c5"/><stop offset=".5583" stop-color="#fee0b6"/><stop offset=".6208" stop-color="#fdd59f"/><stop offset=".7083" stop-color="#fdbb84"/><stop offset=".7875" stop-color="#fc8e5a"/><stop offset=".8708" stop-color="#ef6648"/><stop offset=".9667" stop-color="#d83120"/><stop offset="1" stop-color="#cd2216"/></linearGradient>
<linearGradient id="g20_82"><stop offset="0" stop-color="#fff1dd"/><stop offset=".3625" stop-color="#feedd3"/><stop offset=".4417" stop-color="#feeace"/><stop offset=".5" stop-color="#fee7c6"/><stop offset=".5583" stop-color="#fee0b7"/><stop offset=".6208" stop-color="#fdd5a0"/><stop offset=".7083" stop-color="#fdbb84"/><stop offset=".7875" stop-color="#fc8e5a"/><stop offset=".8708" stop-color="#ef6649"/><stop offset=".9667" stop-color="#d83220"/><stop offset="1" stop-color="#cd2316"/></linearGradient>
<linearGradient id="g20_83"><stop offset="0" stop-color="#fff1de"/><stop offset=".3625" stop-color="#feedd4"/><stop offset=".4417" stop-color="#feebcf"/><stop offset=".5" stop-color="#fee8c7"/><stop offset=".5583" stop-color="#fee0b8"/><stop offset=".6208" stop-color="#fdd5a0"/><stop offset=".7083" stop-color="#fdbb84"/><stop offset=".7917" stop-color="#fc8c59"/><stop offset=".8708" stop-color="#ef6649"/><stop offset=".9708" stop-color="#d7301f"/><stop offset="1" stop-color="#cd2317"/></linearGradient>
<linearGradient id="g20_84"><stop offset="0" stop-color="#fff2e0"/><stop offset=".3583" stop-color="#feeed6"/><stop offset=".4375" stop-color="#feecd0"/><stop offset=".5" stop-color="#fee8c8"/><stop offset=".5583" stop-color="#fee1b9"/><stop offset=".6208" stop-color="#fdd5a0"/><stop offset=".7083" stop-color="#fdbc85"/><stop offset=".7917" stop-color="#fc8c59"/><stop offset=".875" stop-color="#ef6548"/><stop offset=".9625" stop-color="#d93523"/><stop offset="1" stop-color="#ce2417"/></linearGradient>
<linearGradient id="g20_85"><stop offset="0" stop-color="#fff2e1"/><stop offset=".3583" stop-color="#feeed7"/><stop offset=".4375" stop-color="#feecd2"/><stop offset=".5" stop-color="#fee8c9"/><stop offset=".5583" stop-color="#fee1b9"/><stop offset=".6208" stop-color="#fdd5a1"/><stop offset=".7083" stop-color="#fdbc85"/><stop offset=".7917" stop-color="#fc8c59"/><stop offset=".875" stop-color="#ef6548"/><stop offset=".9625" stop-color="#d93523"/><stop offset="1" stop-color="#ce2417"/></linearGradient>
<linearGradient id="g20_86"><stop offset="0" stop-color="#fff3e2"/><stop offset=".3583" stop-color="#feefd8"/><stop offset=".4375" stop-color="#feecd3"/><stop offset=".5" stop-color="#fee9ca"/><stop offset=".5583" stop-color="#fee1ba"/><stop offset=".6208" stop-color="#fdd5a1"/><stop offset=".7083" stop-color="#fdbc85"/><stop offset=".7917" stop-color="#fc8c59"/><stop offset=".875" stop-color="#ef6548"/><stop offset=".9625" stop-color="#d93523"/><stop offset="1" stop-color="#cf2518"/></linearGradient>
<linearGradient id="g20_87"><stop offset="0" stop-color="#fff4e4"/><stop offset=".3583" stop-color="#feefda"/><stop offset=".4375" stop-color="#feedd4"/><stop offset=".5" stop-color="#fee9cb"/><stop offset=".5583" stop-color="#fee2bb"/><stop offset=".6208" stop-color="#fdd6a1"/><stop offset=".7083" stop-color="#fdbc85"/><stop offset=".7917" stop-color="#fc8c59"/><stop offset=".875" stop-color="#ef6548"/><stop offset=".9625" stop-color="#da3624"/><stop offset="1" stop-color="#cf2518"/></linearGradient>
<linearGradient id="g20_88"><stop offset="0" stop-color="#fff4e5"/><stop offset=".3583" stop-color="#fff0db"/><stop offset=".4375" stop-color="#feedd5"/><stop offset=".5" stop-color="#feeacc"/><stop offset=".5542" stop-color="#fee3bd"/><stop offset=".6167" stop-color="#fdd7a3"/><stop offset=".6292" stop-color="#fdd49e"/><stop offset=".7083" stop-color="#fdbc85"/><stop offset=".7917" stop-color="#fc8c59"/><stop offset=".875" stop-color="#ef6548"/><stop offset=".9625" stop-color="#da3624"/><stop offset="1" stop-color="#cf2618"/></linearGradient>
<linearGradient id="g20_89"><stop offset="0" stop-color="#fff5e7"/><stop offset=".3583" stop-color="#fff0dc"/><stop offset=".4375" stop-color="#feeed6"/><stop offset=".5" stop-color="#feeacc"/><stop offset=".5542" stop-color="#fee3bd"/><stop offset=".6167" stop-color="#fdd7a4"/><stop offset=".6292" stop-color="#fdd49e"/><stop offset=".7083" stop-color="#fdbc85"/><stop offset=".7917" stop-color="#fc8c59"/><stop offset=".875" stop-color="#ef6648"/><stop offset=".9625" stop-color="#da3724"/><stop offset="1" stop-color="#d02619"/></linearGradient>
<linearGradient id="g20_90"><stop offset="0" stop-color="#fff5e8"/><stop offset=".3583" stop-color="#fff1de"/><stop offset=".4375" stop-color="#feeed7"/><stop offset=".5" stop-color="#feeacd"/><stop offset=".525" stop-color="#fee8c7"/><stop offset=".5542" stop-color="#fee3be"/><stop offset=".6167" stop-color="#fdd7a4"/><stop offset=".6292" stop-color="#fdd49e"/><stop offset=".7083" stop-color="#fdbc85"/><stop offset=".7917" stop-color="#fc8c59"/><stop offset=".875" stop-color="#ef6648"/><stop offset=".9625" stop-color="#da3725"/><stop offset="1" stop-color="#d02719"/></linearGradient>
<linearGradient id="g20_91"><stop offset="0" stop-color="#fff6e9"/><stop offset=".3583" stop-color="#fff1df"/><stop offset=".4375" stop-color="#feefd8"/><stop offset=".5" stop-color="#feebce"/><stop offset=".525" stop-color="#fee8c8"/><stop offset=".5542" stop-color="#fee4bf"/><stop offset=".6167" stop-color="#fdd7a4"/><stop offset=".6292" stop-color="#fdd49e"/><stop offset=".7083" stop-color="#fdbc85"/><stop offset=".7917" stop-color="#fc8c59"/><stop offset=".875" stop-color="#ef6648"/><stop offset=".9625" stop-color="#da3825"/><stop offset="1" stop-color="#d02719"/></linearGradient>
<linearGradient id="g20_92"><stop offset="0" stop-color="#fff6eb"/><stop offset=".3542" stop-color="#fff2e0"/><stop offset=".4333" stop-color="#feefda"/><stop offset=".5" stop-color="#feebcf"/><stop offset=".55" stop-color="#fee5c1"/><stop offset=".6167" stop-color="#fdd7a4"/><stop offset=".6292" stop-color="#fdd49e"/><stop offset=".7083" stop-color="#fdbc85"/><stop offset=".7917" stop-color="#fc8c59"/><stop offset=".8792" stop-color="#ef6447"/><stop offset=".9583" stop-color="#dc3a27"/><stop offset="1" stop-color="#d1281a"/></linearGradient>
<linearGradient id="g20_93"><stop offset="0" stop-color="#fff7ec"/><stop offset=".3542" stop-color="#fff3e2"/><stop offset=".4333" stop-color="#fff0db"/><stop offset=".5" stop-color="#feebd0"/><stop offset=".55" stop-color="#fee5c1"/><stop offset=".6125" stop-color="#fdd8a7"/><stop offset=".6333" stop-color="#fdd39d"/><stop offset=".7083" stop-color="#fdbc85"/><stop offset=".7917" stop-color="#fc8d59"/><stop offset=".8792" stop-color="#ef6447"/><stop offset=".9583" stop-color="#dc3b27"/><stop offset="1" stop-color="#d1281a"/></linearGradient>
<linearGradient id="g21_0"><stop offset="0" stop-color="#eb5d42"/><stop offset=".4083" stop-color="#d7301f"/><stop offset=".5" stop-color="#d02619"/><stop offset=".6917" stop-color="#c0110b"/><stop offset=".8125" stop-color="#b30000"/><stop offset=".9083" stop-color="#9e0000"/><stop offset="1" stop-color="#820000"/></linearGradient>
<linearGradient id="g21_1"><stop offset="0" stop-color="#ef6447"/><stop offset=".5" stop-color="#d62e1e"/><stop offset=".7167" stop-color="#c3150e"/><stop offset=".85" stop-color="#b30000"/><stop offset=".925" stop-color="#a00000"/><stop offset="1" stop-color="#870000"/></linearGradient>
<linearGradient id="g21_2"><stop offset="0" stop-color="#f16a4a"/><stop offset=".0667" stop-color="#ef6548"/><stop offset=".5" stop-color="#da3624"/><stop offset=".5542" stop-color="#d7301f"/><stop offset=".7167" stop-color="#c91d13"/><stop offset=".8417" stop-color="#b90805"/><stop offset=".8792" stop-color="#b30000"/><stop offset=".9375" stop-color="#a20000"/><stop offset="1" stop-color="#8c0000"/></linearGradient>
<linearGradient id="g21_3"><stop offset="0" stop-color="#f26f4c"/><stop offset=".1375" stop-color="#ef6548"/><stop offset=".5" stop-color="#dd3e2a"/><stop offset=".65" stop-color="#d52d1d"/><stop offset=".7458" stop-color="#cb2015"/><stop offset=".825" stop-color="#c1130c"/><stop offset=".9042" stop-color="#b30000"/><stop offset="1" stop-color="#910000"/></linearGradient>
<linearGradient id="g21_4"><stop offset="0" stop-color="#f4754f"/><stop offset=".2083" stop-color="#ef6548"/><stop offset=".5" stop-color="#e14630"/><stop offset=".6833" stop-color="#d7301f"/><stop offset=".7542" stop-color="#d02619"/><stop offset=".8125" stop-color="#c81c12"/><stop offset=".8667" stop-color="#bf0f0a"/><stop offset=".9208" stop-color="#b30000"/><stop offset="1" stop-color="#960000"/></linearGradient>
<linearGradient id="g21_5"><stop offset="0" stop-color="#f67a51"/><stop offset=".2792" stop-color="#ef6548"/><stop offset=".5" stop-color="#e54e36"/><stop offset=".6333" stop-color="#de3f2a"/><stop offset=".725" stop-color="#d83220"/><stop offset=".8" stop-color="#cf2518"/><stop offset=".8667" stop-color="#c3150e"/><stop offset=".9375" stop-color="#b30000"/><stop offset="1" stop-color="#9a0000"/></linearGradient>
<linearGradient id="g21_6"><stop offset="0" stop-color="#f77e53"/><stop offset=".3542" stop-color="#ef6548"/><stop offset=".5" stop-color="#e8563c"/><stop offset=".675" stop-color="#df412c"/><stop offset=".7875" stop-color="#d52e1d"/><stop offset=".8667" stop-color="#c71b11"/><stop offset=".95" stop-color="#b20000"/><stop offset="1" stop-color="#9d0000"/></linearGradient>
<linearGradient id="g21_7"><stop offset="0" stop-color="#f98355"/><stop offset=".425" stop-color="#ef6548"/><stop offset=".5" stop-color="#ec5d42"/><stop offset=".6875" stop-color="#e14731"/><stop offset=".75" stop-color="#dd3c28"/><stop offset=".8042" stop-color="#d7301f"/><stop offset=".8792" stop-color="#c81c12"/><stop offset=".9583" stop-color="#b30000"/><stop offset="1" stop-color="#a10000"/></linearGradient>
<linearGradient id="g21_8"><stop offset="0" stop-color="#fa8857"/><stop offset=".5" stop-color="#ef6548"/><stop offset=".6167" stop-color="#e9583e"/><stop offset=".7" stop-color="#e44c35"/><stop offset=".7667" stop-color="#de402b"/><stop offset=".8292" stop-color="#d7301f"/><stop offset=".8958" stop-color="#c81b12"/><stop offset=".9667" stop-color="#b30000"/><stop offset="1" stop-color="#a40000"/></linearGradient>
<linearGradient id="g21_9"><stop offset="0" stop-color="#fc8c59"/><stop offset=".5" stop-color="#f16a4a"/><stop offset=".5667" stop-color="#ef6548"/><stop offset=".7" stop-color="#e7533a"/><stop offset=".775" stop-color="#e0442f"/><stop offset=".8417" stop-color="#d83220"/><stop offset=".9042" stop-color="#c91d13"/><stop offset=".975" stop-color="#b30000"/><stop offset="1" stop-color="#a70000"/></linearGradient>
<linearGradient id="g21_10"><stop offset="0" stop-color="#fc915d"/><stop offset=".0583" stop-color="#fc8d59"/><stop offset=".5" stop-color="#f26f4c"/><stop offset=".625" stop-color="#ef6548"/><stop offset=".6833" stop-color="#eb5d42"/><stop offset=".7583" stop-color="#e54f37"/><stop offset=".825" stop-color="#dd3d29"/><stop offset=".875" stop-color="#d42b1c"/><stop offset=".925" stop-color="#c51810"/><stop offset=".9792" stop-color="#b40101"/><stop offset="1" stop-color="#aa0000"/></linearGradient>
<linearGradient id="g21_11"><stop offset="0" stop-color="#fc9661"/><stop offset=".1292" stop-color="#fc8d59"/><stop offset=".5" stop-color="#f4744f"/><stop offset=".675" stop-color="#ef6548"/><stop offset=".7542" stop-color="#e8563c"/><stop offset=".8167" stop-color="#e0452f"/><stop offset=".875" stop-color="#d72f1f"/><stop offset=".925" stop-color="#c81b12"/><stop offset=".9833" stop-color="#b40101"/><stop offset="1" stop-color="#ac0000"/></linearGradient>
<linearGradient id="g21_12"><stop offset="0" stop-color="#fc9a65"/><stop offset=".1958" stop-color="#fc8d59"/><stop offset=".5" stop-color="#f67951"/><stop offset=".6708" stop-color="#f16a4a"/><stop offset=".7125" stop-color="#ef6548"/><stop offset=".7542" stop-color="#eb5c41"/><stop offset=".8167" stop-color="#e34a33"/><stop offset=".8833" stop-color="#d7301f"/><stop offset=".9875" stop-color="#b40201"/><stop offset="1" stop-color="#ae0000"/></linearGradient>
<linearGradient id="g21_13"><stop offset="0" stop-color="#fc9f69"/><stop offset=".2667" stop-color="#fc8d59"/><stop offset=".5" stop-color="#f77e53"/><stop offset=".6583" stop-color="#f3704d"/><stop offset=".7375" stop-color="#ef6548"/><stop offset=".7542" stop-color="#ed6145"/><stop offset=".8208" stop-color="#e44d35"/><stop offset=".8917" stop-color="#d7301f"/><stop offset=".9917" stop-color="#b40201"/><stop offset="1" stop-color="#b00000"/></linearGradient>
<linearGradient id="g21_14"><stop offset="0" stop-color="#fca36d"/><stop offset=".3375" stop-color="#fc8d59"/><stop offset=".5" stop-color="#f98355"/><stop offset=".6583" stop-color="#f4754f"/><stop offset=".7125" stop-color="#f26e4c"/><stop offset=".7625" stop-color="#ef6548"/><stop offset=".8292" stop-color="#e54e36"/><stop offset=".8958" stop-color="#d73120"/><stop offset="1" stop-color="#b20000"/></linearGradient>
<linearGradient id="g21_15"><stop offset="0" stop-color="#fda771"/><stop offset=".4042" stop-color="#fc8d59"/><stop offset=".5" stop-color="#fa8756"/><stop offset=".6625" stop-color="#f57950"/><stop offset=".7208" stop-color="#f3714d"/><stop offset=".775" stop-color="#ef6648"/><stop offset=".8375" stop-color="#e54f37"/><stop offset=".9042" stop-color="#d7301f"/><stop offset="1" stop-color="#b40101"/></linearGradient>
<linearGradient id="g21_16"><stop offset="0" stop-color="#fdaa75"/><stop offset=".5" stop-color="#fb8b58"/><stop offset=".6" stop-color="#f98455"/><stop offset=".6708" stop-color="#f77c52"/><stop offset=".7333" stop-color="#f3724e"/><stop offset=".7875" stop-color="#ef6648"/><stop offset=".8417" stop-color="#e65038"/><stop offset=".9083" stop-color="#d7301f"/><stop offset="1" stop-color="#b50201"/></linearGradient>
<linearGradient id="g21_17"><stop offset="0" stop-color="#fdae78"/><stop offset=".5" stop-color="#fc905c"/><stop offset=".6042" stop-color="#fa8757"/><stop offset=".675" stop-color="#f88053"/><stop offset=".7375" stop-color="#f4754f"/><stop offset=".7917" stop-color="#f06849"/><stop offset=".8042" stop-color="#ee6447"/><stop offset=".8417" stop-color="#e7543b"/><stop offset=".9125" stop-color="#d7301f"/><stop offset="1" stop-color="#b60402"/></linearGradient>
<linearGradient id="g21_18"><stop offset="0" stop-color="#fdb27b"/><stop offset=".5" stop-color="#fc9460"/><stop offset=".5875" stop-color="#fc8d59"/><stop offset=".675" stop-color="#f98355"/><stop offset=".7333" stop-color="#f67951"/><stop offset=".7875" stop-color="#f16c4b"/><stop offset=".8083" stop-color="#ef6548"/><stop offset=".8208" stop-color="#ed6044"/><stop offset=".8625" stop-color="#e44c35"/><stop offset=".9125" stop-color="#d83220"/><stop offset="1" stop-color="#b70503"/></linearGradient>
<linearGradient id="g21_19"><stop offset="0" stop-color="#fdb57e"/><stop offset=".5" stop-color="#fc9964"/><stop offset=".5875" stop-color="#fc915d"/><stop offset=".6708" stop-color="#fa8757"/><stop offset=".7292" stop-color="#f77d52"/><stop offset=".7833" stop-color="#f2704c"/><stop offset=".8167" stop-color="#ef6548"/><stop offset=".8625" stop-color="#e54f37"/><stop offset=".9167" stop-color="#d83120"/><stop offset="1" stop-color="#b70604"/></linearGradient>
<linearGradient id="g21_20"><stop offset="0" stop-color="#fdb881"/><stop offset=".5" stop-color="#fc9d68"/><stop offset=".5958" stop-color="#fc9560"/><stop offset=".6708" stop-color="#fb8b58"/><stop offset=".725" stop-color="#f88154"/><stop offset=".7792" stop-color="#f4734e"/><stop offset=".825" stop-color="#ee6447"/><stop offset=".9208" stop-color="#d7301f"/><stop offset="1" stop-color="#b80704"/></linearGradient>
<linearGradient id="g21_21"><stop offset="0" stop-color="#fdbb84"/><stop offset=".5" stop-color="#fca16b"/><stop offset=".5833" stop-color="#fc9a65"/><stop offset=".65" stop-color="#fc925d"/><stop offset=".6792" stop-color="#fc8d59"/><stop offset=".7208" stop-color="#f98556"/><stop offset=".7792" stop-color="#f4764f"/><stop offset=".8292" stop-color="#ef6447"/><stop offset=".9208" stop-color="#d83220"/><stop offset="1" stop-color="#b90805"/></linearGradient>
<linearGradient id="g21_22"><stop offset="0" stop-color="#fdbd86"/><stop offset=".1792" stop-color="#fdb67f"/><stop offset=".5" stop-color="#fda46f"/><stop offset=".5833" stop-color="#fc9e69"/><stop offset=".65" stop-color="#fc9561"/><stop offset=".6958" stop-color="#fc8d59"/><stop offset=".7208" stop-color="#fa8857"/><stop offset=".775" stop-color="#f67951"/><stop offset=".8333" stop-color="#ef6447"/><stop offset=".925" stop-color="#d7311f"/><stop offset="1" stop-color="#b90906"/></linearGradient>
<linearGradient id="g21_23"><stop offset="0" stop-color="#fdbe87"/><stop offset=".1375" stop-color="#fdbb84"/><stop offset=".5" stop-color="#fda872"/><stop offset=".5833" stop-color="#fca16c"/><stop offset=".65" stop-color="#fc9964"/><stop offset=".7083" stop-color="#fc8d59"/><stop offset=".7708" stop-color="#f77c52"/><stop offset=".8375" stop-color="#ef6447"/><stop offset=".9292" stop-color="#d72f1f"/><stop offset="1" stop-color="#ba0906"/></linearGradient>
<linearGradient id="g21_24"><stop offset="0" stop-color="#fdc089"/><stop offset=".2" stop-color="#fdbb84"/><stop offset=".5" stop-color="#fdac76"/><stop offset=".5833" stop-color="#fda56f"/><stop offset=".65" stop-color="#fc9c67"/><stop offset=".7208" stop-color="#fc8d59"/><stop offset=".7708" stop-color="#f77e53"/><stop offset=".8375" stop-color="#ef6648"/><stop offset=".9292" stop-color="#d7301f"/><stop offset="1" stop-color="#bb0a07"/></linearGradient>
<linearGradient id="g21_25"><stop offset="0" stop-color="#fdc18b"/><stop offset=".2667" stop-color="#fdbb84"/><stop offset=".5" stop-color="#fdaf79"/><stop offset=".5833" stop-color="#fda872"/><stop offset=".65" stop-color="#fc9f6a"/><stop offset=".6917" stop-color="#fc9762"/><stop offset=".7292" stop-color="#fc8d59"/><stop offset=".7667" stop-color="#f88154"/><stop offset=".8417" stop-color="#ef6548"/><stop offset=".9292" stop-color="#d83120"/><stop offset="1" stop-color="#bb0b07"/></linearGradient>
<linearGradient id="g21_26"><stop offset="0" stop-color="#fdc38c"/><stop offset=".3292" stop-color="#fdbb84"/><stop offset=".5" stop-color="#fdb27c"/><stop offset=".5833" stop-color="#fdab75"/><stop offset=".6458" stop-color="#fca36d"/><stop offset=".7" stop-color="#fc9763"/><stop offset=".7333" stop-color="#fc8d59"/><stop offset=".7625" stop-color="#f98455"/><stop offset=".8042" stop-color="#f4754f"/><stop offset=".8458" stop-color="#ef6447"/><stop offset=".9333" stop-color="#d7301f"/><stop offset="1" stop-color="#bc0b07"/></linearGradient>
<linearGradient id="g21_27"><stop offset="0" stop-color="#fdc48d"/><stop offset=".3875" stop-color="#fdbb84"/><stop offset=".5" stop-color="#fdb57e"/><stop offset=".5833" stop-color="#fdae78"/><stop offset=".6458" stop-color="#fda670"/><stop offset=".7" stop-color="#fc9a65"/><stop offset=".7417" stop-color="#fc8d59"/><stop offset=".7625" stop-color="#fa8656"/><stop offset=".8458" stop-color="#ef6548"/><stop offset=".9333" stop-color="#d7301f"/><stop offset="1" stop-color="#bc0c08"/></linearGradient>
<linearGradient id="g21_28"><stop offset="0" stop-color="#fdc58f"/><stop offset=".4208" stop-color="#fdbc85"/><stop offset=".5" stop-color="#fdb881"/><stop offset=".575" stop-color="#fdb27c"/><stop offset=".6333" stop-color="#fdaa74"/><stop offset=".6833" stop-color="#fca06b"/><stop offset=".7333" stop-color="#fc915d"/><stop offset=".7458" stop-color="#fc8d59"/><stop offset=".7917" stop-color="#f77d52"/><stop offset=".8458" stop-color="#ef6648"/><stop offset=".9333" stop-color="#d73120"/><stop offset="1" stop-color="#bc0d08"/></linearGradient>
<linearGradient id="g21_29"><stop offset="0" stop-color="#fdc790"/><stop offset=".5" stop-color="#fdbb84"/><stop offset=".5708" stop-color="#fdb57f"/><stop offset=".6292" stop-color="#fdae77"/><stop offset=".6792" stop-color="#fca36e"/><stop offset=".7292" stop-color="#fc9560"/><stop offset=".75" stop-color="#fc8d59"/><stop offset=".7958" stop-color="#f77c52"/><stop offset=".85" stop-color="#ef6548"/><stop offset=".9333" stop-color="#d83220"/><stop offset="1" stop-color="#bd0d08"/></linearGradient>
<linearGradient id="g21_30"><stop offset="0" stop-color="#fdc891"/><stop offset=".5" stop-color="#fdbc85"/><stop offset=".5583" stop-color="#fdb982"/><stop offset=".625" stop-color="#fdb17a"/><stop offset=".6792" stop-color="#fda670"/><stop offset=".7292" stop-color="#fc9662"/><stop offset=".7542" stop-color="#fc8d59"/><stop offset=".8" stop-color="#f67b52"/><stop offset=".85" stop-color="#ef6548"/><stop offset=".9375" stop-color="#d7301f"/><stop offset="1" stop-color="#bd0e09"/></linearGradient>
<linearGradient id="g21_31"><stop offset="0" stop-color="#fdc993"/><stop offset=".5" stop-color="#fdbe87"/><stop offset=".5667" stop-color="#fdbb84"/><stop offset=".6208" stop-color="#fdb47d"/><stop offset=".675" stop-color="#fda973"/><stop offset=".725" stop-color="#fc9965"/><stop offset=".7583" stop-color="#fc8d59"/><stop offset=".8042" stop-color="#f67a51"/><stop offset=".8542" stop-color="#ee6447"/><stop offset=".9375" stop-color="#d7301f"/><stop offset="1" stop-color="#be0e09"/></linearGradient>
<linearGradient id="g21_32"><stop offset="0" stop-color="#fdca94"/><stop offset=".5" stop-color="#fdbf88"/><stop offset=".5833" stop-color="#fdbb84"/><stop offset=".6125" stop-color="#fdb781"/><stop offset=".6667" stop-color="#fdad77"/><stop offset=".7208" stop-color="#fc9c67"/><stop offset=".7625" stop-color="#fc8c59"/><stop offset=".8542" stop-color="#ef6548"/><stop offset=".9375" stop-color="#d7311f"/><stop offset="1" stop-color="#be0f09"/></linearGradient>
<linearGradient id="g21_33"><stop offset="0" stop-color="#fdcb95"/><stop offset=".5" stop-color="#fdc08a"/><stop offset=".6083" stop-color="#fdba83"/><stop offset=".6625" stop-color="#fdb079"/><stop offset=".7167" stop-color="#fc9f6a"/><stop offset=".7625" stop-color="#fc8d59"/><stop offset=".8542" stop-color="#ef6548"/><stop offset=".9375" stop-color="#d73120"/><stop offset="1" stop-color="#be0f0a"/></linearGradient>
<linearGradient id="g21_34"><stop offset="0" stop-color="#fdcd96"/><stop offset=".5" stop-color="#fdc28b"/><stop offset=".6167" stop-color="#fdbb84"/><stop offset=".6667" stop-color="#fdb07a"/><stop offset=".7125" stop-color="#fca26d"/><stop offset=".7667" stop-color="#fc8c59"/><stop offset=".8542" stop-color="#ef6648"/><stop offset=".9417" stop-color="#d62f1e"/><stop offset="1" stop-color="#bf0f0a"/></linearGradient>
<linearGradient id="g21_35"><stop offset="0" stop-color="#fdce97"/><stop offset=".5" stop-color="#fdc38c"/><stop offset=".575" stop-color="#fdbf89"/><stop offset=".6292" stop-color="#fdbb84"/><stop offset=".6708" stop-color="#fdb17b"/><stop offset=".7125" stop-color="#fca46e"/><stop offset=".7667" stop-color="#fc8d59"/><stop offset=".8542" stop-color="#ef6648"/><stop offset=".9417" stop-color="#d72f1f"/><stop offset="1" stop-color="#bf100a"/></linearGradient>
<linearGradient id="g21_36"><stop offset="0" stop-color="#fdcf99"/><stop offset=".5" stop-color="#fdc48e"/><stop offset=".575" stop-color="#fdc08a"/><stop offset=".6333" stop-color="#fdbb84"/><stop offset=".6708" stop-color="#fdb27c"/><stop offset=".7083" stop-color="#fda671"/><stop offset=".7708" stop-color="#fc8c59"/><stop offset=".8583" stop-color="#ef6447"/><stop offset=".9417" stop-color="#d7301f"/><stop offset="1" stop-color="#bf100a"/></linearGradient>
<linearGradient id="g21_37"><stop offset="0" stop-color="#fdd09a"/><stop offset=".5" stop-color="#fdc58f"/><stop offset=".5792" stop-color="#fdc18b"/><stop offset=".6417" stop-color="#fdbb84"/><stop offset=".7042" stop-color="#fda973"/><stop offset=".7708" stop-color="#fc8d59"/><stop offset=".8583" stop-color="#ef6548"/><stop offset=".9417" stop-color="#d7301f"/><stop offset="1" stop-color="#bf110b"/></linearGradient>
<linearGradient id="g21_38"><stop offset="0" stop-color="#fdd19b"/><stop offset=".5" stop-color="#fdc790"/><stop offset=".5792" stop-color="#fdc28c"/><stop offset=".6458" stop-color="#fdbc85"/><stop offset=".7" stop-color="#fdac76"/><stop offset=".7708" stop-color="#fc8d59"/><stop offset=".8583" stop-color="#ef6548"/><stop offset=".9417" stop-color="#d7311f"/><stop offset="1" stop-color="#c0110b"/></linearGradient>
<linearGradient id="g21_39"><stop offset="0" stop-color="#fdd29c"/><stop offset=".5" stop-color="#fdc891"/><stop offset=".5792" stop-color="#fdc38d"/><stop offset=".6417" stop-color="#fdbd86"/><stop offset=".6583" stop-color="#fdba83"/><stop offset=".7" stop-color="#fdad77"/><stop offset=".775" stop-color="#fc8c59"/><stop offset=".8583" stop-color="#ef6548"/><stop offset=".9417" stop-color="#d73120"/><stop offset="1" stop-color="#c0110b"/></linearGradient>
<linearGradient id="g21_40"><stop offset="0" stop-color="#fdd39d"/><stop offset=".5" stop-color="#fdc992"/><stop offset=".575" stop-color="#fdc58e"/><stop offset=".6333" stop-color="#fdbf88"/><stop offset=".6625" stop-color="#fdba84"/><stop offset=".6958" stop-color="#fdb079"/><stop offset=".7333" stop-color="#fca06b"/><stop offset=".775" stop-color="#fc8d59"/><stop offset=".8583" stop-color="#ef6648"/><stop offset=".9417" stop-color="#d83120"/><stop offset="1" stop-color="#c0120c"/></linearGradient>
<linearGradient id="g21_41"><stop offset="0" stop-color="#fdd49e"/><stop offset=".5" stop-color="#fdca93"/><stop offset=".5708" stop-color="#fdc68f"/><stop offset=".6292" stop-color="#fdc089"/><stop offset=".6667" stop-color="#fdbb84"/><stop offset=".6917" stop-color="#fdb27c"/><stop offset=".7333" stop-color="#fca16c"/><stop offset=".775" stop-color="#fc8d59"/><stop offset=".8583" stop-color="#ef6648"/><stop offset=".9458" stop-color="#d62f1e"/><stop offset="1" stop-color="#c1120c"/></linearGradient>
<linearGradient id="g21_42"><stop offset="0" stop-color="#fdd5a0"/><stop offset=".5" stop-color="#fdcb94"/><stop offset=".5667" stop-color="#fdc791"/><stop offset=".625" stop-color="#fdc28b"/><stop offset=".6667" stop-color="#fdbb84"/><stop offset=".6917" stop-color="#fdb37d"/><stop offset=".7292" stop-color="#fca46e"/><stop offset=".775" stop-color="#fc8e5a"/><stop offset=".8583" stop-color="#ef6649"/><stop offset=".9458" stop-color="#d72f1f"/><stop offset="1" stop-color="#c1130c"/></linearGradient>
<linearGradient id="g21_43"><stop offset="0" stop-color="#fdd6a2"/><stop offset=".5" stop-color="#fdcc96"/><stop offset=".6167" stop-color="#fdc38d"/><stop offset=".6708" stop-color="#fdbb84"/><stop offset=".6875" stop-color="#fdb67f"/><stop offset=".7292" stop-color="#fda46f"/><stop offset=".7792" stop-color="#fc8c59"/><stop offset=".8583" stop-color="#ef6649"/><stop offset=".9458" stop-color="#d7301f"/><stop offset="1" stop-color="#c1130c"/></linearGradient>
<linearGradient id="g21_44"><stop offset="0" stop-color="#fdd7a3"/><stop offset=".5" stop-color="#fdcd97"/><stop offset=".6042" stop-color="#fdc68f"/><stop offset=".6583" stop-color="#fdbe87"/><stop offset=".6833" stop-color="#fdb881"/><stop offset=".7292" stop-color="#fda570"/><stop offset=".7792" stop-color="#fc8c59"/><stop offset=".8625" stop-color="#ef6448"/><stop offset=".9458" stop-color="#d7301f"/><stop offset="1" stop-color="#c2130c"/></linearGradient>
<linearGradient id="g21_45"><stop offset="0" stop-color="#fdd7a5"/><stop offset=".325" stop-color="#fdd29c"/><stop offset=".5" stop-color="#fdce98"/><stop offset=".6042" stop-color="#fdc690"/><stop offset=".6542" stop-color="#fdbf89"/><stop offset=".6833" stop-color="#fdb982"/><stop offset=".7292" stop-color="#fda670"/><stop offset=".7792" stop-color="#fc8d59"/><stop offset=".8625" stop-color="#ef6548"/><stop offset=".9458" stop-color="#d7301f"/><stop offset="1" stop-color="#c2140d"/></linearGradient>
<linearGradient id="g21_46"><stop offset="0" stop-color="#fdd8a7"/><stop offset=".3125" stop-color="#fdd49e"/><stop offset=".5" stop-color="#fdcf99"/><stop offset=".6" stop-color="#fdc891"/><stop offset=".6458" stop-color="#fdc18b"/><stop offset=".6833" stop-color="#fdba83"/><stop offset=".7292" stop-color="#fda671"/><stop offset=".7792" stop-color="#fc8d59"/><stop offset=".8625" stop-color="#ef6548"/><stop offset=".9458" stop-color="#d73120"/><stop offset="1" stop-color="#c2140d"/></linearGradient>
<linearGradient id="g21_47"><stop offset="0" stop-color="#fdd9a8"/><stop offset=".35" stop-color="#fdd49e"/><stop offset=".5" stop-color="#fdd09a"/><stop offset=".6" stop-color="#fdc892"/><stop offset=".6833" stop-color="#fdbb84"/><stop offset=".7292" stop-color="#fda771"/><stop offset=".7792" stop-color="#fc8e59"/><stop offset=".8625" stop-color="#ef6548"/><stop offset=".9458" stop-color="#d73120"/><stop offset="1" stop-color="#c2140d"/></linearGradient>
<linearGradient id="g21_48"><stop offset="0" stop-color="#fddaaa"/><stop offset=".3917" stop-color="#fdd49e"/><stop offset=".5" stop-color="#fdd19b"/><stop offset=".6042" stop-color="#fdc992"/><stop offset=".65" stop-color="#fdc28b"/><stop offset=".6875" stop-color="#fdba83"/><stop offset=".7292" stop-color="#fda872"/><stop offset=".7792" stop-color="#fc8e5a"/><stop offset=".8625" stop-color="#ef6548"/><stop offset=".9458" stop-color="#d83120"/><stop offset="1" stop-color="#c3150d"/></linearGradient>
<linearGradient id="g21_49"><stop offset="0" stop-color="#fddaac"/><stop offset=".3875" stop-color="#fdd5a0"/><stop offset=".5" stop-color="#fdd29c"/><stop offset=".6" stop-color="#fdca93"/><stop offset=".6458" stop-color="#fdc38c"/><stop offset=".6875" stop-color="#fdbb84"/><stop offset=".7292" stop-color="#fda872"/><stop offset=".7833" stop-color="#fc8c59"/><stop offset=".8625" stop-color="#ef6648"/><stop offset=".9458" stop-color="#d83220"/><stop offset="1" stop-color="#c3150e"/></linearGradient>
<linearGradient id="g21_50"><stop offset="0" stop-color="#fddbad"/><stop offset=".35" stop-color="#fdd6a3"/><stop offset=".5" stop-color="#fdd39d"/><stop offset=".6042" stop-color="#fdca94"/><stop offset=".6542" stop-color="#fdc28b"/><stop offset=".6917" stop-color="#fdba83"/><stop offset=".7333" stop-color="#fda671"/><stop offset=".7833" stop-color="#fc8c59"/><stop offset=".8625" stop-color="#ef6648"/><stop offset=".95" stop-color="#d72f1f"/><stop offset="1" stop-color="#c3160e"/></linearGradient>
<linearGradient id="g21_51"><stop offset="0" stop-color="#fddcaf"/><stop offset=".3625" stop-color="#fdd7a4"/><stop offset=".5" stop-color="#fdd39d"/><stop offset=".6042" stop-color="#fdcb94"/><stop offset=".65" stop-color="#fdc38d"/><stop offset=".6917" stop-color="#fdba83"/><stop offset=".7333" stop-color="#fda771"/><stop offset=".7833" stop-color="#fc8d59"/><stop offset=".8625" stop-color="#ef6648"/><stop offset=".95" stop-color="#d7301f"/><stop offset="1" stop-color="#c3160e"/></linearGradient>
<linearGradient id="g21_52"><stop offset="0" stop-color="#fdddb1"/><stop offset=".3708" stop-color="#fdd8a6"/><stop offset=".5" stop-color="#fdd49f"/><stop offset=".6042" stop-color="#fdcb95"/><stop offset=".6917" stop-color="#fdbb84"/><stop offset=".7333" stop-color="#fda772"/><stop offset=".7833" stop-color="#fc8d59"/><stop offset=".8625" stop-color="#ef6648"/><stop offset=".95" stop-color="#d7301f"/><stop offset="1" stop-color="#c4160e"/></linearGradient>
<linearGradient id="g21_53"><stop offset="0" stop-color="#fddeb2"/><stop offset=".3708" stop-color="#fdd8a7"/><stop offset=".5" stop-color="#fdd5a0"/><stop offset=".5542" stop-color="#fdd29b"/><stop offset=".6042" stop-color="#fdcc96"/><stop offset=".6542" stop-color="#fdc48d"/><stop offset=".6958" stop-color="#fdba83"/><stop offset=".7833" stop-color="#fc8d59"/><stop offset=".8625" stop-color="#ef6649"/><stop offset=".95" stop-color="#d7301f"/><stop offset="1" stop-color="#c4170f"/></linearGradient>
<linearGradient id="g21_54"><stop offset="0" stop-color="#fedeb4"/><stop offset=".3708" stop-color="#fdd9a9"/><stop offset=".5" stop-color="#fdd6a2"/><stop offset=".55" stop-color="#fdd39d"/><stop offset=".6042" stop-color="#fdcd96"/><stop offset=".65" stop-color="#fdc58e"/><stop offset=".6958" stop-color="#fdba83"/><stop offset=".7833" stop-color="#fc8d59"/><stop offset=".8625" stop-color="#ef6649"/><stop offset=".95" stop-color="#d73120"/><stop offset="1" stop-color="#c4170f"/></linearGradient>
<linearGradient id="g21_55"><stop offset="0" stop-color="#fedfb5"/><stop offset=".3708" stop-color="#fddaaa"/><stop offset=".5" stop-color="#fdd6a3"/><stop offset=".5458" stop-color="#fdd49e"/><stop offset=".6" stop-color="#fdce98"/><stop offset=".6458" stop-color="#fdc690"/><stop offset=".6958" stop-color="#fdbb84"/><stop offset=".7833" stop-color="#fc8d59"/><stop offset=".8625" stop-color="#ef6649"/><stop offset=".95" stop-color="#d73120"/><stop offset="1" stop-color="#c5170f"/></linearGradient>
<linearGradient id="g21_56"><stop offset="0" stop-color="#fee0b7"/><stop offset=".3708" stop-color="#fddbac"/><stop offset=".5" stop-color="#fdd7a5"/><stop offset=".5542" stop-color="#fdd49e"/><stop offset=".6" stop-color="#fdce98"/><stop offset=".6458" stop-color="#fdc790"/><stop offset=".6958" stop-color="#fdbb84"/><stop offset=".7833" stop-color="#fc8e5a"/><stop offset=".8667" stop-color="#ef6448"/><stop offset=".95" stop-color="#d83120"/><stop offset="1" stop-color="#c5180f"/></linearGradient>
<linearGradient id="g21_57"><stop offset="0" stop-color="#fee1b9"/><stop offset=".3708" stop-color="#fddbae"/><stop offset=".5" stop-color="#fdd8a6"/><stop offset=".5583" stop-color="#fdd49e"/><stop offset=".6" stop-color="#fdcf99"/><stop offset=".65" stop-color="#fdc690"/><stop offset=".7" stop-color="#fdba83"/><stop offset=".7833" stop-color="#fc8e5a"/><stop offset=".8667" stop-color="#ef6548"/><stop offset=".95" stop-color="#d83220"/><stop offset="1" stop-color="#c51810"/></linearGradient>
<linearGradient id="g21_58"><stop offset="0" stop-color="#fee1ba"/><stop offset=".3667" stop-color="#fddcaf"/><stop offset=".5" stop-color="#fdd8a7"/><stop offset=".5625" stop-color="#fdd49f"/><stop offset=".6" stop-color="#fdd099"/><stop offset=".65" stop-color="#fdc790"/><stop offset=".7" stop-color="#fdba83"/><stop offset=".7833" stop-color="#fc8e5a"/><stop offset=".8667" stop-color="#ef6548"/><stop offset=".9542" stop-color="#d7301f"/><stop offset="1" stop-color="#c51910"/></linearGradient>
<linearGradient id="g21_59"><stop offset="0" stop-color="#fee2bc"/><stop offset=".3667" stop-color="#fdddb1"/><stop offset=".5" stop-color="#fdd9a9"/><stop offset=".5625" stop-color="#fdd5a0"/><stop offset=".6" stop-color="#fdd09a"/><stop offset=".65" stop-color="#fdc790"/><stop offset=".7" stop-color="#fdbb84"/><stop offset=".7833" stop-color="#fc8e5a"/><stop offset=".8667" stop-color="#ef6548"/><stop offset=".9542" stop-color="#d7301f"/><stop offset="1" stop-color="#c61910"/></linearGradient>
<linearGradient id="g21_60"><stop offset="0" stop-color="#fee3bd"/><stop offset=".3667" stop-color="#fddeb3"/><stop offset=".5" stop-color="#fddaaa"/><stop offset=".5958" stop-color="#fdd19b"/><stop offset=".6458" stop-color="#fdc892"/><stop offset=".7" stop-color="#fdbb84"/><stop offset=".7875" stop-color="#fc8c59"/><stop offset=".8667" stop-color="#ef6548"/><stop offset=".9542" stop-color="#d7301f"/><stop offset="1" stop-color="#c61910"/></linearGradient>
<linearGradient id="g21_61"><stop offset="0" stop-color="#fee4bf"/><stop offset=".3667" stop-color="#fedfb4"/><stop offset=".5" stop-color="#fddbac"/><stop offset=".5417" stop-color="#fdd8a6"/><stop offset=".5958" stop-color="#fdd29c"/><stop offset=".6458" stop-color="#fdc992"/><stop offset=".7" stop-color="#fdbb84"/><stop offset=".7875" stop-color="#fc8c59"/><stop offset=".8667" stop-color="#ef6548"/><stop offset=".9542" stop-color="#d7311f"/><stop offset="1" stop-color="#c61a11"/></linearGradient>
<linearGradient id="g21_62"><stop offset="0" stop-color="#fee5c1"/><stop offset=".3667" stop-color="#fedfb6"/><stop offset=".5" stop-color="#fddbad"/><stop offset=".5458" stop-color="#fdd8a7"/><stop offset=".5958" stop-color="#fdd39d"/><stop offset=".6458" stop-color="#fdc993"/><stop offset=".7" stop-color="#fdbc85"/><stop offset=".7875" stop-color="#fc8c59"/><stop offset=".8667" stop-color="#ef6548"/><stop offset=".9542" stop-color="#d73120"/><stop offset="1" stop-color="#c71a11"/></linearGradient>
<linearGradient id="g21_63"><stop offset="0" stop-color="#fee5c2"/><stop offset=".3667" stop-color="#fee0b7"/><stop offset=".4417" stop-color="#fedeb4"/><stop offset=".5" stop-color="#fddcae"/><stop offset=".5458" stop-color="#fdd9a8"/><stop offset=".5958" stop-color="#fdd39d"/><stop offset=".65" stop-color="#fdc892"/><stop offset=".7042" stop-color="#fdba83"/><stop offset=".7875" stop-color="#fc8c59"/><stop offset=".8667" stop-color="#ef6648"/><stop offset=".9542" stop-color="#d83120"/><stop offset="1" stop-color="#c71b11"/></linearGradient>
<linearGradient id="g21_64"><stop offset="0" stop-color="#fee6c4"/><stop offset=".3667" stop-color="#fee1b9"/><stop offset=".4417" stop-color="#fedfb5"/><stop offset=".5" stop-color="#fddcb0"/><stop offset=".55" stop-color="#fdd9a8"/><stop offset=".5958" stop-color="#fdd49e"/><stop offset=".65" stop-color="#fdc992"/><stop offset=".7042" stop-color="#fdbb84"/><stop offset=".7875" stop-color="#fc8d59"/><stop offset=".8667" stop-color="#ef6648"/><stop offset=".9542" stop-color="#d83220"/><stop offset="1" stop-color="#c71b11"/></linearGradient>
<linearGradient id="g21_65"><stop offset="0" stop-color="#fee7c5"/><stop offset=".3667" stop-color="#fee2ba"/><stop offset=".4417" stop-color="#fee0b7"/><stop offset=".5" stop-color="#fdddb1"/><stop offset=".55" stop-color="#fdd9a9"/><stop offset=".6" stop-color="#fdd39d"/><stop offset=".65" stop-color="#fdc993"/><stop offset=".7042" stop-color="#fdbb84"/><stop offset=".7875" stop-color="#fc8d59"/><stop offset=".8667" stop-color="#ef6648"/><stop offset=".9583" stop-color="#d7301f"/><stop offset="1" stop-color="#c81b12"/></linearGradient>
<linearGradient id="g21_66"><stop offset="0" stop-color="#fee8c7"/><stop offset=".3667" stop-color="#fee2bc"/><stop offset=".4417" stop-color="#fee0b8"/><stop offset=".5" stop-color="#fddeb2"/><stop offset=".55" stop-color="#fddaaa"/><stop offset=".6" stop-color="#fdd49e"/><stop offset=".65" stop-color="#fdc993"/><stop offset=".7042" stop-color="#fdbb84"/><stop offset=".7875" stop-color="#fc8d59"/><stop offset=".8667" stop-color="#ef6648"/><stop offset=".9583" stop-color="#d7301f"/><stop offset="1" stop-color="#c81c12"/></linearGradient>
<linearGradient id="g21_67"><stop offset="0" stop-color="#fee8c9"/><stop offset=".3667" stop-color="#fee3be"/><stop offset=".4417" stop-color="#fee1b9"/><stop offset=".5" stop-color="#fedeb4"/><stop offset=".5542" stop-color="#fddaab"/><stop offset=".6042" stop-color="#fdd49e"/><stop offset=".65" stop-color="#fdca93"/><stop offset=".7042" stop-color="#fdbb84"/><stop offset=".7875" stop-color="#fc8d59"/><stop offset=".8667" stop-color="#ef6648"/><stop offset=".9583" stop-color="#d7301f"/><stop offset="1" stop-color="#c81c12"/></linearGradient>
<linearGradient id="g21_68"><stop offset="0" stop-color="#fee9ca"/><stop offset=".3625" stop-color="#fee4bf"/><stop offset=".4417" stop-color="#fee2bb"/><stop offset=".5" stop-color="#fedfb5"/><stop offset=".5542" stop-color="#fddbac"/><stop offset=".6042" stop-color="#fdd49e"/><stop offset=".65" stop-color="#fdca94"/><stop offset=".7042" stop-color="#fdbb84"/><stop offset=".7875" stop-color="#fc8d59"/><stop offset=".8667" stop-color="#ef6649"/><stop offset=".9583" stop-color="#d73120"/><stop offset="1" stop-color="#c91d13"/></linearGradient>
<linearGradient id="g21_69"><stop offset="0" stop-color="#fee9cb"/><stop offset=".3625" stop-color="#fee5c1"/><stop offset=".4417" stop-color="#fee2bc"/><stop offset=".5" stop-color="#fee0b6"/><stop offset=".5542" stop-color="#fddbad"/><stop offset=".6083" stop-color="#fdd49e"/><stop offset=".7042" stop-color="#fdbc85"/><stop offset=".7875" stop-color="#fc8d59"/><stop offset=".8667" stop-color="#ef6649"/><stop offset=".9583" stop-color="#d73120"/><stop offset="1" stop-color="#c91d13"/></linearGradient>
<linearGradient id="g21_70"><stop offset="0" stop-color="#feeacd"/><stop offset=".3583" stop-color="#fee5c3"/><stop offset=".4375" stop-color="#fee3be"/><stop offset=".5" stop-color="#fee0b8"/><stop offset=".5542" stop-color="#fddbae"/><stop offset=".6083" stop-color="#fdd49e"/><stop offset=".7042" stop-color="#fdbc85"/><stop offset=".7875" stop-color="#fc8d59"/><stop offset=".8667" stop-color="#f06749"/><stop offset=".9583" stop-color="#d83120"/><stop offset="1" stop-color="#c91e13"/></linearGradient>
<linearGradient id="g21_71"><stop offset="0" stop-color="#feebce"/><stop offset=".3583" stop-color="#fee6c4"/><stop offset=".4375" stop-color="#fee4c0"/><stop offset=".5" stop-color="#fee1b9"/><stop offset=".5542" stop-color="#fddcaf"/><stop offset=".6083" stop-color="#fdd49f"/><stop offset=".6583" stop-color="#fdc992"/><stop offset=".7083" stop-color="#fdba83"/><stop offset=".7875" stop-color="#fc8d59"/><stop offset=".8708" stop-color="#ef6548"/><stop offset=".9583" stop-color="#d83220"/><stop offset="1" stop-color="#c91e13"/></linearGradient>
<linearGradient id="g21_72"><stop offset="0" stop-color="#feebcf"/><stop offset=".3542" stop-color="#fee7c6"/><stop offset=".4375" stop-color="#fee5c1"/><stop offset=".5" stop-color="#fee1ba"/><stop offset=".5583" stop-color="#fddcaf"/><stop offset=".6125" stop-color="#fdd49e"/><stop offset=".7083" stop-color="#fdba83"/><stop offset=".7875" stop-color="#fc8d59"/><stop offset=".8708" stop-color="#ef6548"/><stop offset=".9625" stop-color="#d7301f"/><stop offset="1" stop-color="#ca1e14"/></linearGradient>
<linearGradient id="g21_73"><stop offset="0" stop-color="#feecd1"/><stop offset=".3542" stop-color="#fee8c7"/><stop offset=".4375" stop-color="#fee5c3"/><stop offset=".5" stop-color="#fee2bb"/><stop offset=".5583" stop-color="#fddcb0"/><stop offset=".6125" stop-color="#fdd49f"/><stop offset=".7083" stop-color="#fdbb84"/><stop offset=".7875" stop-color="#fc8d59"/><stop offset=".8708" stop-color="#ef6548"/><stop offset=".9625" stop-color="#d7301f"/><stop offset="1" stop-color="#ca1f14"/></linearGradient>
<linearGradient id="g21_74"><stop offset="0" stop-color="#feecd2"/><stop offset=".375" stop-color="#fee8c8"/><stop offset=".4458" stop-color="#fee6c3"/><stop offset=".5" stop-color="#fee3bd"/><stop offset=".5583" stop-color="#fdddb1"/><stop offset=".6125" stop-color="#fdd59f"/><stop offset=".7083" stop-color="#fdbb84"/><stop offset=".7875" stop-color="#fc8e59"/><stop offset=".8708" stop-color="#ef6548"/><stop offset=".9625" stop-color="#d7311f"/><stop offset="1" stop-color="#ca1f14"/></linearGradient>
<linearGradient id="g21_75"><stop offset="0" stop-color="#feedd3"/><stop offset=".375" stop-color="#fee9c9"/><stop offset=".4417" stop-color="#fee7c5"/><stop offset=".5" stop-color="#fee3be"/><stop offset=".5583" stop-color="#fdddb1"/><stop offset=".6167" stop-color="#fdd49e"/><stop offset=".7083" stop-color="#fdbb84"/><stop offset=".7875" stop-color="#fc8e5a"/><stop offset=".8708" stop-color="#ef6548"/><stop offset=".9625" stop-color="#d73120"/><stop offset="1" stop-color="#cb2014"/></linearGradient>
<linearGradient id="g21_76"><stop offset="0" stop-color="#feedd5"/><stop offset=".3708" stop-color="#fee9cb"/><stop offset=".4375" stop-color="#fee7c7"/><stop offset=".5" stop-color="#fee4bf"/><stop offset=".5583" stop-color="#fddeb2"/><stop offset=".6167" stop-color="#fdd49f"/><stop offset=".7083" stop-color="#fdbb84"/><stop offset=".7875" stop-color="#fc8e5a"/><stop offset=".8708" stop-color="#ef6548"/><stop offset=".9625" stop-color="#d83120"/><stop offset="1" stop-color="#cb2015"/></linearGradient>
<linearGradient id="g21_77"><stop offset="0" stop-color="#feeed6"/><stop offset=".3708" stop-color="#feeacc"/><stop offset=".4417" stop-color="#fee8c8"/><stop offset=".5" stop-color="#fee4c0"/><stop offset=".5583" stop-color="#fedeb3"/><stop offset=".6167" stop-color="#fdd59f"/><stop offset=".7083" stop-color="#fdbb84"/><stop offset=".7875" stop-color="#fc8e5a"/><stop offset=".8708" stop-color="#ef6648"/><stop offset=".9625" stop-color="#d83220"/><stop offset="1" stop-color="#cb2115"/></linearGradient>
<linearGradient id="g21_78"><stop offset="0" stop-color="#feeed8"/><stop offset=".3667" stop-color="#feeace"/><stop offset=".45" stop-color="#fee8c8"/><stop offset=".5" stop-color="#fee5c1"/><stop offset=".5625" stop-color="#fddeb3"/><stop offset=".6208" stop-color="#fdd49e"/><stop offset=".7083" stop-color="#fdbb84"/><stop offset=".7875" stop-color="#fc8e5a"/><stop offset=".8708" stop-color="#ef6648"/><stop offset=".9667" stop-color="#d7301f"/><stop offset="1" stop-color="#cc2115"/></linearGradient>
<linearGradient id="g21_79"><stop offset="0" stop-color="#feefd9"/><stop offset=".3667" stop-color="#feebcf"/><stop offset=".4458" stop-color="#fee9ca"/><stop offset=".5" stop-color="#fee5c3"/><stop offset=".5625" stop-color="#fedeb4"/><stop offset=".6208" stop-color="#fdd49e"/><stop offset=".7083" stop-color="#fdbb84"/><stop offset=".7875" stop-color="#fc8e5a"/><stop offset=".8708" stop-color="#ef6648"/><stop offset=".9667" stop-color="#d7301f"/><stop offset="1" stop-color="#cc2116"/></linearGradient>
<linearGradient id="g21_80"><stop offset="0" stop-color="#fff0da"/><stop offset=".3667" stop-color="#feebd0"/><stop offset=".4458" stop-color="#fee9cb"/><stop offset=".5" stop-color="#fee6c4"/><stop offset=".5625" stop-color="#fedfb4"/><stop offset=".6208" stop-color="#fdd49f"/><stop offset=".7083" stop-color="#fdbb84"/><stop offset=".7875" stop-color="#fc8e5a"/><stop offset=".8708" stop-color="#ef6648"/><stop offset=".9667" stop-color="#d73120"/><stop offset="1" stop-color="#cc2216"/></linearGradient>
<linearGradient id="g21_81"><stop offset="0" stop-color="#fff0dc"/><stop offset=".3625" stop-color="#feecd2"/><stop offset=".4417" stop-color="#feeacd"/><stop offset=".5" stop-color="#fee6c5"/><stop offset=".5583" stop-color="#fee0b6"/><stop offset=".6208" stop-color="#fdd59f"/><stop offset=".7083" stop-color="#fdbb84"/><stop offset=".7875" stop-color="#fc8e5a"/><stop offset=".8708" stop-color="#ef6648"/><stop offset=".9667" stop-color="#d83120"/><stop offset="1" stop-color="#cd2216"/></linearGradient>
<linearGradient id="g21_82"><stop offset="0" stop-color="#fff1dd"/><stop offset=".3625" stop-color="#feedd3"/><stop offset=".4417" stop-color="#feeace"/><stop offset=".5" stop-color="#fee7c6"/><stop offset=".5583" stop-color="#fee0b7"/><stop offset=".6208" stop-color="#fdd5a0"/><stop offset=".7083" stop-color="#fdbb84"/><stop offset=".7875" stop-color="#fc8e5a"/><stop offset=".8708" stop-color="#ef6649"/><stop offset=".9667" stop-color="#d83220"/><stop offset="1" stop-color="#cd2316"/></linearGradient>
<linearGradient id="g21_83"><stop offset="0" stop-color="#fff1de"/><stop offset=".3625" stop-color="#feedd4"/><stop offset=".4417" stop-color="#feebcf"/><stop offset=".5" stop-color="#fee8c7"/><stop offset=".5583" stop-color="#fee0b8"/><stop offset=".6208" stop-color="#fdd5a0"/><stop offset=".7083" stop-color="#fdbb84"/><stop offset=".7917" stop-color="#fc8c59"/><stop offset=".8708" stop-color="#ef6649"/><stop offset=".9708" stop-color="#d7301f"/><stop offset="1" stop-color="#cd2317"/></linearGradient>
<linearGradient id="g21_84"><stop offset="0" stop-color="#fff2e0"/><stop offset=".3583" stop-color="#feeed6"/><stop offset=".4375" stop-color="#feecd0"/><stop offset=".5" stop-color="#fee8c8"/><stop offset=".5583" stop-color="#fee1b9"/><stop offset=".6208" stop-color="#fdd5a0"/><stop offset=".7083" stop-color="#fdbc85"/><stop offset=".7917" stop-color="#fc8c59"/><stop offset=".875" stop-color="#ef6548"/><stop offset=".9625" stop-color="#d93523"/><stop offset="1" stop-color="#ce2417"/></linearGradient>
<linearGradient id="g21_85"><stop offset="0" stop-color="#fff2e1"/><stop offset=".3583" stop-color="#feeed7"/><stop offset=".4375" stop-color="#feecd2"/><stop offset=".5" stop-color="#fee8c9"/><stop offset=".5583" stop-color="#fee1b9"/><stop offset=".6208" stop-color="#fdd5a1"/><stop offset=".7083" stop-color="#fdbc85"/><stop offset=".7917" stop-color="#fc8c59"/><stop offset=".875" stop-color="#ef6548"/><stop offset=".9625" stop-color="#d93523"/><stop offset="1" stop-color="#ce2417"/></linearGradient>
<linearGradient id="g21_86"><stop offset="0" stop-color="#fff3e2"/><stop offset=".3583" stop-color="#feefd8"/><stop offset=".4375" stop-color="#feecd3"/><stop offset=".5" stop-color="#fee9ca"/><stop offset=".5583" stop-color="#fee1ba"/><stop offset=".6208" stop-color="#fdd5a1"/><stop offset=".7083" stop-color="#fdbc85"/><stop offset=".7917" stop-color="#fc8c59"/><stop offset=".875" stop-color="#ef6548"/><stop offset=".9625" stop-color="#d93523"/><stop offset="1" stop-color="#cf2518"/></linearGradient>
<linearGradient id="g21_87"><stop offset="0" stop-color="#fff4e4"/><stop offset=".3583" stop-color="#feefda"/><stop offset=".4375" stop-color="#feedd4"/><stop offset=".5" stop-color="#fee9cb"/><stop offset=".5583" stop-color="#fee2bb"/><stop offset=".6208" stop-color="#fdd6a1"/><stop offset=".7083" stop-color="#fdbc85"/><stop offset=".7917" stop-color="#fc8c59"/><stop offset=".875" stop-color="#ef6548"/><stop offset=".9625" stop-color="#da3624"/><stop offset="1" stop-color="#cf2518"/></linearGradient>
<linearGradient id="g21_88"><stop offset="0" stop-color="#fff4e5"/><stop offset=".3583" stop-color="#fff0db"/><stop offset=".4375" stop-color="#feedd5"/><stop offset=".5" stop-color="#feeacc"/><stop offset=".5542" stop-color="#fee3bd"/><stop offset=".6167" stop-color="#fdd7a3"/><stop offset=".6292" stop-color="#fdd49e"/><stop offset=".7083" stop-color="#fdbc85"/><stop offset=".7917" stop-color="#fc8c59"/><stop offset=".875" stop-color="#ef6548"/><stop offset=".9625" stop-color="#da3624"/><stop offset="1" stop-color="#cf2618"/></linearGradient>
<linearGradient id="g21_89"><stop offset="0" stop-color="#fff5e7"/><stop offset=".3583" stop-color="#fff0dc"/><stop offset=".4375" stop-color="#feeed6"/><stop offset=".5" stop-color="#feeacc"/><stop offset=".5542" stop-color="#fee3bd"/><stop offset=".6167" stop-color="#fdd7a4"/><stop offset=".6292" stop-color="#fdd49e"/><stop offset=".7083" stop-color="#fdbc85"/><stop offset=".7917" stop-color="#fc8c59"/><stop offset=".875" stop-color="#ef6648"/><stop offset=".9625" stop-color="#da3724"/><stop offset="1" stop-color="#d02619"/></linearGradient>
<linearGradient id="g21_90"><stop offset="0" stop-color="#fff5e8"/><stop offset=".3583" stop-color="#fff1de"/><stop offset=".4375" stop-color="#feeed7"/><stop offset=".5" stop-color="#feeacd"/><stop offset=".525" stop-color="#fee8c7"/><stop offset=".5542" stop-color="#fee3be"/><stop offset=".6167" stop-color="#fdd7a4"/><stop offset=".6292" stop-color="#fdd49e"/><stop offset=".7083" stop-color="#fdbc85"/><stop offset=".7917" stop-color="#fc8c59"/><stop offset=".875" stop-color="#ef6648"/><stop offset=".9625" stop-color="#da3725"/><stop offset="1" stop-color="#d02719"/></linearGradient>
<linearGradient id="g21_91"><stop offset="0" stop-color="#fff6e9"/><stop offset=".3583" stop-color="#fff1df"/><stop offset=".4375" stop-color="#feefd8"/><stop offset=".5" stop-color="#feebce"/><stop offset=".525" stop-color="#fee8c8"/><stop offset=".5542" stop-color="#fee4bf"/><stop offset=".6167" stop-color="#fdd7a4"/><stop offset=".6292" stop-color="#fdd49e"/><stop offset=".7083" stop-color="#fdbc85"/><stop offset=".7917" stop-color="#fc8c59"/><stop offset=".875" stop-color="#ef6648"/><stop offset=".9625" stop-color="#da3825"/><stop offset="1" stop-color="#d02719"/></linearGradient>
<linearGradient id="g21_92"><stop offset="0" stop-color="#fff6eb"/><stop offset=".3542" stop-color="#fff2e0"/><stop offset=".4333" stop-color="#feefda"/><stop offset=".5" stop-color="#feebcf"/><stop offset=".55" stop-color="#fee5c1"/><stop offset=".6167" stop-color="#fdd7a4"/><stop offset=".6292" stop-color="#fdd49e"/><stop offset=".7083" stop-color="#fdbc85"/><stop offset=".7917" stop-color="#fc8c59"/><stop offset=".8792" stop-color="#ef6447"/><stop offset=".9583" stop-color="#dc3a27"/><stop offset="1" stop-color="#d1281a"/></linearGradient>
<linearGradient id="g21_93"><stop offset="0" stop-color="#fff7ec"/><stop offset=".3542" stop-color="#fff3e2"/><stop offset=".4333" stop-color="#fff0db"/><stop offset=".5" stop-color="#feebd0"/><stop offset=".55" stop-color="#fee5c1"/><stop offset=".6125" stop-color="#fdd8a7"/><stop offset=".6333" stop-color="#fdd39d"/><stop offset=".7083" stop-color="#fdbc85"/><stop offset=".7917" stop-color="#fc8d59"/><stop offset=".8792" stop-color="#ef6447"/><stop offset=".9583" stop-color="#dc3b27"/><stop offset="1" stop-color="#d1281a"/></linearGradient>
<linearGradient id="g22_0"><stop offset="0" stop-color="#dc3b27"/><stop offset=".1083" stop-color="#d7301f"/><stop offset=".5" stop-color="#bb0b07"/><stop offset=".6083" stop-color="#b30000"/><stop offset=".85" stop-color="#980000"/><stop offset="1" stop-color="#850000"/></linearGradient>
<linearGradient id="g22_1"><stop offset="0" stop-color="#e0432e"/><stop offset=".1917" stop-color="#d7301f"/><stop offset=".5" stop-color="#c1130c"/><stop offset=".6917" stop-color="#b30000"/><stop offset=".875" stop-color="#9e0000"/><stop offset="1" stop-color="#8e0000"/></linearGradient>
<linearGradient id="g22_2"><stop offset="0" stop-color="#e34c34"/><stop offset=".2792" stop-color="#d7301f"/><stop offset=".5" stop-color="#c71b12"/><stop offset=".775" stop-color="#b30000"/><stop offset="1" stop-color="#960000"/></linearGradient>
<linearGradient id="g22_3"><stop offset="0" stop-color="#e7543b"/><stop offset=".3667" stop-color="#d7301f"/><stop offset=".5" stop-color="#ce2317"/><stop offset=".85" stop-color="#b30000"/><stop offset="1" stop-color="#9f0000"/></linearGradient>
<linearGradient id="g22_4"><stop offset="0" stop-color="#eb5c41"/><stop offset=".5" stop-color="#d42c1c"/><stop offset=".7542" stop-color="#c1130c"/><stop offset=".9208" stop-color="#b30000"/><stop offset="1" stop-color="#a70000"/></linearGradient>
<linearGradient id="g22_5"><stop offset="0" stop-color="#ee6447"/><stop offset=".5" stop-color="#d93422"/><stop offset=".8208" stop-color="#c2140d"/><stop offset=".9792" stop-color="#b30000"/><stop offset="1" stop-color="#b00000"/></linearGradient>
<linearGradient id="g22_6"><stop offset="0" stop-color="#f16a4a"/><stop offset=".0792" stop-color="#ef6548"/><stop offset=".5" stop-color="#dd3d29"/><stop offset=".625" stop-color="#d7301f"/><stop offset=".7417" stop-color="#ce2417"/><stop offset=".8917" stop-color="#c2140d"/><stop offset="1" stop-color="#b60403"/></linearGradient>
<linearGradient id="g22_7"><stop offset="0" stop-color="#f2704d"/><stop offset=".1667" stop-color="#ef6548"/><stop offset=".5" stop-color="#e14530"/><stop offset=".7083" stop-color="#d7301f"/><stop offset=".8792" stop-color="#c91d13"/><stop offset="1" stop-color="#bc0c08"/></linearGradient>
<linearGradient id="g22_8"><stop offset="0" stop-color="#f4754f"/><stop offset=".2542" stop-color="#ef6548"/><stop offset=".5" stop-color="#e54e36"/><stop offset=".7833" stop-color="#d7301f"/><stop offset=".9083" stop-color="#cc2115"/><stop offset="1" stop-color="#c1130c"/></linearGradient>
<linearGradient id="g22_9"><stop offset="0" stop-color="#f67b51"/><stop offset=".3417" stop-color="#ef6548"/><stop offset=".5" stop-color="#e8563d"/><stop offset=".7042" stop-color="#df412c"/><stop offset=".85" stop-color="#d7301f"/><stop offset=".9333" stop-color="#cf2518"/><stop offset="1" stop-color="#c61a11"/></linearGradient>
<linearGradient id="g22_10"><stop offset="0" stop-color="#f88053"/><stop offset=".425" stop-color="#ef6548"/><stop offset=".5" stop-color="#ec5e43"/><stop offset=".7208" stop-color="#e24832"/><stop offset=".875" stop-color="#d93523"/><stop offset=".9208" stop-color="#d62e1e"/><stop offset="1" stop-color="#cb2015"/></linearGradient>
<linearGradient id="g22_11"><stop offset="0" stop-color="#f98555"/><stop offset=".5" stop-color="#ef6648"/><stop offset=".6667" stop-color="#e8563c"/><stop offset=".8083" stop-color="#e14630"/><stop offset=".95" stop-color="#d7301f"/><stop offset="1" stop-color="#d02719"/></linearGradient>
<linearGradient id="g22_12"><stop offset="0" stop-color="#fb8a58"/><stop offset=".5" stop-color="#f16c4b"/><stop offset=".5958" stop-color="#ef6548"/><stop offset=".8" stop-color="#e54f37"/><stop offset=".9083" stop-color="#de3f2b"/><stop offset="1" stop-color="#d52d1d"/></linearGradient>
<linearGradient id="g22_13"><stop offset="0" stop-color="#fc8e5a"/><stop offset=".5" stop-color="#f3724d"/><stop offset=".675" stop-color="#ef6548"/><stop offset=".7875" stop-color="#e9583e"/><stop offset=".9083" stop-color="#e14731"/><stop offset="1" stop-color="#d83322"/></linearGradient>
<linearGradient id="g22_14"><stop offset="0" stop-color="#fc945f"/><stop offset=".1167" stop-color="#fc8d59"/><stop offset=".5" stop-color="#f57750"/><stop offset=".7458" stop-color="#ef6548"/><stop offset=".8917" stop-color="#e65138"/><stop offset=".95" stop-color="#e14630"/><stop offset="1" stop-color="#db3926"/></linearGradient>
<linearGradient id="g22_15"><stop offset="0" stop-color="#fc9964"/><stop offset=".2083" stop-color="#fc8d59"/><stop offset=".5" stop-color="#f77c52"/><stop offset=".675" stop-color="#f3704d"/><stop offset=".8042" stop-color="#ef6548"/><stop offset=".9125" stop-color="#e7543b"/><stop offset="1" stop-color="#de3f2b"/></linearGradient>
<linearGradient id="g22_16"><stop offset="0" stop-color="#fc9d68"/><stop offset=".3" stop-color="#fc8d59"/><stop offset=".5" stop-color="#f88254"/><stop offset=".7042" stop-color="#f4744e"/><stop offset=".85" stop-color="#ef6548"/><stop offset=".9292" stop-color="#e9573d"/><stop offset="1" stop-color="#e0452f"/></linearGradient>
<linearGradient id="g22_17"><stop offset="0" stop-color="#fca26c"/><stop offset=".3875" stop-color="#fc8d59"/><stop offset=".5" stop-color="#fa8756"/><stop offset=".7042" stop-color="#f57950"/><stop offset=".8458" stop-color="#f16b4b"/><stop offset=".8958" stop-color="#ef6447"/><stop offset=".95" stop-color="#e9583e"/><stop offset="1" stop-color="#e34a33"/></linearGradient>
<linearGradient id="g22_18"><stop offset="0" stop-color="#fda671"/><stop offset=".2542" stop-color="#fc9a65"/><stop offset=".5" stop-color="#fc8c58"/><stop offset=".6958" stop-color="#f77f53"/><stop offset=".8375" stop-color="#f3714d"/><stop offset=".9208" stop-color="#ef6548"/><stop offset="1" stop-color="#e54f37"/></linearGradient>
<linearGradient id="g22_19"><stop offset="0" stop-color="#fdaa74"/><stop offset=".2667" stop-color="#fc9e69"/><stop offset=".5" stop-color="#fc915d"/><stop offset=".5583" stop-color="#fc8d59"/><stop offset=".7042" stop-color="#f98355"/><stop offset=".8333" stop-color="#f5764f"/><stop offset=".9417" stop-color="#ef6548"/><stop offset="1" stop-color="#e7533a"/></linearGradient>
<linearGradient id="g22_20"><stop offset="0" stop-color="#fdae78"/><stop offset=".2667" stop-color="#fca36d"/><stop offset=".5" stop-color="#fc9661"/><stop offset=".6292" stop-color="#fc8d59"/><stop offset=".7083" stop-color="#fa8757"/><stop offset=".8292" stop-color="#f67b51"/><stop offset=".8958" stop-color="#f3714d"/><stop offset=".9583" stop-color="#ef6548"/><stop offset="1" stop-color="#e9583e"/></linearGradient>
<linearGradient id="g22_21"><stop offset="0" stop-color="#fdb27c"/><stop offset=".2708" stop-color="#fda771"/><stop offset=".5" stop-color="#fc9b66"/><stop offset=".6917" stop-color="#fc8d59"/><stop offset=".825" stop-color="#f88053"/><stop offset=".9333" stop-color="#f26e4c"/><stop offset=".9708" stop-color="#ef6648"/><stop offset="1" stop-color="#eb5b41"/></linearGradient>
<linearGradient id="g22_22"><stop offset="0" stop-color="#fdb67f"/><stop offset=".2708" stop-color="#fdab75"/><stop offset=".5" stop-color="#fca06a"/><stop offset=".6708" stop-color="#fc945f"/><stop offset=".7417" stop-color="#fc8d59"/><stop offset=".8208" stop-color="#f98455"/><stop offset=".925" stop-color="#f4734e"/><stop offset=".9833" stop-color="#ef6548"/><stop offset="1" stop-color="#ec5f43"/></linearGradient>
<linearGradient id="g22_23"><stop offset="0" stop-color="#fdb982"/><stop offset=".275" stop-color="#fdaf79"/><stop offset=".5" stop-color="#fda46f"/><stop offset=".6792" stop-color="#fc9863"/><stop offset=".7833" stop-color="#fc8d59"/><stop offset=".8208" stop-color="#fa8857"/><stop offset=".9208" stop-color="#f57750"/><stop offset=".9667" stop-color="#f16c4b"/><stop offset="1" stop-color="#ee6246"/></linearGradient>
<linearGradient id="g22_24"><stop offset="0" stop-color="#fdbc85"/><stop offset=".2458" stop-color="#fdb47e"/><stop offset=".5" stop-color="#fda973"/><stop offset=".6667" stop-color="#fc9d68"/><stop offset=".7875" stop-color="#fc915c"/><stop offset=".8125" stop-color="#fc8d59"/><stop offset=".9042" stop-color="#f77e53"/><stop offset=".9542" stop-color="#f3724e"/><stop offset="1" stop-color="#ef6548"/></linearGradient>
<linearGradient id="g22_25"><stop offset="0" stop-color="#fdbe87"/><stop offset=".1708" stop-color="#fdba83"/><stop offset=".5" stop-color="#fdad77"/><stop offset=".6667" stop-color="#fca26c"/><stop offset=".7875" stop-color="#fc9560"/><stop offset=".8375" stop-color="#fc8d59"/><stop offset=".9042" stop-color="#f88154"/><stop offset=".9542" stop-color="#f4754f"/><stop offset="1" stop-color="#f06749"/></linearGradient>
<linearGradient id="g22_26"><stop offset="0" stop-color="#fdbf88"/><stop offset=".2542" stop-color="#fdbb84"/><stop offset=".5" stop-color="#fdb17a"/><stop offset=".6667" stop-color="#fda670"/><stop offset=".7875" stop-color="#fc9964"/><stop offset=".8583" stop-color="#fc8d59"/><stop offset=".9083" stop-color="#f98355"/><stop offset=".9542" stop-color="#f57750"/><stop offset="1" stop-color="#f0694a"/></linearGradient>
<linearGradient id="g22_27"><stop offset="0" stop-color="#fdc18a"/><stop offset=".3458" stop-color="#fdbb84"/><stop offset=".5" stop-color="#fdb47e"/><stop offset=".6667" stop-color="#fdaa74"/><stop offset=".7875" stop-color="#fc9c67"/><stop offset=".8708" stop-color="#fc8d59"/><stop offset=".9083" stop-color="#f98556"/><stop offset=".9542" stop-color="#f67951"/><stop offset="1" stop-color="#f16b4b"/></linearGradient>
<linearGradient id="g22_28"><stop offset="0" stop-color="#fdc28c"/><stop offset=".3792" stop-color="#fdbc85"/><stop offset=".5" stop-color="#fdb881"/><stop offset=".6667" stop-color="#fdad77"/><stop offset=".7875" stop-color="#fca06a"/><stop offset=".8833" stop-color="#fc8d59"/><stop offset=".9083" stop-color="#fa8857"/><stop offset=".9542" stop-color="#f67b52"/><stop offset="1" stop-color="#f26d4b"/></linearGradient>
<linearGradient id="g22_29"><stop offset="0" stop-color="#fdc48d"/><stop offset=".5" stop-color="#fdbb84"/><stop offset=".6625" stop-color="#fdb17b"/><stop offset=".7875" stop-color="#fca36d"/><stop offset=".85" stop-color="#fc9863"/><stop offset=".8958" stop-color="#fc8d59"/><stop offset=".9125" stop-color="#fb8957"/><stop offset="1" stop-color="#f26e4c"/></linearGradient>
<linearGradient id="g22_30"><stop offset="0" stop-color="#fdc58f"/><stop offset=".5" stop-color="#fdbd86"/><stop offset=".5708" stop-color="#fdbb84"/><stop offset=".6458" stop-color="#fdb67f"/><stop offset=".7208" stop-color="#fdaf79"/><stop offset=".7833" stop-color="#fda771"/><stop offset=".8792" stop-color="#fc935f"/><stop offset=".9042" stop-color="#fc8d59"/><stop offset=".9542" stop-color="#f77f53"/><stop offset="1" stop-color="#f2704c"/></linearGradient>
<linearGradient id="g22_31"><stop offset="0" stop-color="#fdc790"/><stop offset=".5" stop-color="#fdbf88"/><stop offset=".6292" stop-color="#fdba83"/><stop offset=".7083" stop-color="#fdb37d"/><stop offset=".7792" stop-color="#fdaa74"/><stop offset=".8292" stop-color="#fca16c"/><stop offset=".8792" stop-color="#fc9661"/><stop offset=".9125" stop-color="#fc8d59"/><stop offset="1" stop-color="#f3714d"/></linearGradient>
<linearGradient id="g22_32"><stop offset="0" stop-color="#fdc891"/><stop offset=".5" stop-color="#fdc089"/><stop offset=".6583" stop-color="#fdbb84"/><stop offset=".7792" stop-color="#fdad77"/><stop offset=".8292" stop-color="#fca46e"/><stop offset=".8792" stop-color="#fc9863"/><stop offset=".9167" stop-color="#fc8d59"/><stop offset="1" stop-color="#f3724d"/></linearGradient>
<linearGradient id="g22_33"><stop offset="0" stop-color="#fdc993"/><stop offset=".5" stop-color="#fdc28b"/><stop offset=".6875" stop-color="#fdbb84"/><stop offset=".775" stop-color="#fdb07a"/><stop offset=".8292" stop-color="#fda670"/><stop offset=".8792" stop-color="#fc9a65"/><stop offset=".9208" stop-color="#fc8d59"/><stop offset="1" stop-color="#f4734e"/></linearGradient>
<linearGradient id="g22_34"><stop offset="0" stop-color="#fdcb94"/><stop offset=".5" stop-color="#fdc38d"/><stop offset=".7042" stop-color="#fdbc85"/><stop offset=".7708" stop-color="#fdb37d"/><stop offset=".825" stop-color="#fda973"/><stop offset=".8792" stop-color="#fc9c67"/><stop offset=".9292" stop-color="#fc8c59"/><stop offset="1" stop-color="#f4744e"/></linearGradient>
<linearGradient id="g22_35"><stop offset="0" stop-color="#fdcc95"/><stop offset=".5" stop-color="#fdc58e"/><stop offset=".6833" stop-color="#fdbe87"/><stop offset=".7333" stop-color="#fdbb84"/><stop offset=".7667" stop-color="#fdb67f"/><stop offset=".8208" stop-color="#fdac76"/><stop offset=".875" stop-color="#fc9f6a"/><stop offset=".9333" stop-color="#fc8c59"/><stop offset="1" stop-color="#f4754f"/></linearGradient>
<linearGradient id="g22_36"><stop offset="0" stop-color="#fdcd97"/><stop offset=".5" stop-color="#fdc690"/><stop offset=".6708" stop-color="#fdc089"/><stop offset=".7458" stop-color="#fdbb84"/><stop offset=".7667" stop-color="#fdb882"/><stop offset=".8208" stop-color="#fdae78"/><stop offset=".875" stop-color="#fca16b"/><stop offset=".9333" stop-color="#fc8e59"/><stop offset="1" stop-color="#f4764f"/></linearGradient>
<linearGradient id="g22_37"><stop offset="0" stop-color="#fdce98"/><stop offset=".5" stop-color="#fdc791"/><stop offset=".6542" stop-color="#fdc28c"/><stop offset=".7667" stop-color="#fdba84"/><stop offset=".8208" stop-color="#fdb07a"/><stop offset=".875" stop-color="#fca26d"/><stop offset=".9375" stop-color="#fc8d59"/><stop offset="1" stop-color="#f5764f"/></linearGradient>
<linearGradient id="g22_38"><stop offset="0" stop-color="#fdcf99"/><stop offset=".5" stop-color="#fdc992"/><stop offset=".6583" stop-color="#fdc38d"/><stop offset=".775" stop-color="#fdbb84"/><stop offset=".8292" stop-color="#fdb07a"/><stop offset=".8792" stop-color="#fca26d"/><stop offset=".9417" stop-color="#fc8d59"/><stop offset="1" stop-color="#f57750"/></linearGradient>
<linearGradient id="g22_39"><stop offset="0" stop-color="#fdd09a"/><stop offset=".5" stop-color="#fdca94"/><stop offset=".6667" stop-color="#fdc48d"/><stop offset=".7875" stop-color="#fdbb84"/><stop offset=".8375" stop-color="#fdaf79"/><stop offset=".8833" stop-color="#fca26d"/><stop offset=".9417" stop-color="#fc8e5a"/><stop offset="1" stop-color="#f57850"/></linearGradient>
<linearGradient id="g22_40"><stop offset="0" stop-color="#fdd29b"/><stop offset=".5" stop-color="#fdcb95"/><stop offset=".6708" stop-color="#fdc58e"/><stop offset=".7958" stop-color="#fdbb84"/><stop offset=".8417" stop-color="#fdb07a"/><stop offset=".8875" stop-color="#fca26d"/><stop offset=".9458" stop-color="#fc8d59"/><stop offset="1" stop-color="#f57850"/></linearGradient>
<linearGradient id="g22_41"><stop offset="0" stop-color="#fdd39d"/><stop offset=".5" stop-color="#fdcc96"/><stop offset=".6708" stop-color="#fdc68f"/><stop offset=".8" stop-color="#fdbb84"/><stop offset=".8417" stop-color="#fdb17b"/><stop offset=".8875" stop-color="#fca36e"/><stop offset=".95" stop-color="#fc8c59"/><stop offset="1" stop-color="#f57950"/></linearGradient>
<linearGradient id="g22_42"><stop offset="0" stop-color="#fdd49e"/><stop offset=".5" stop-color="#fdcd97"/><stop offset=".6792" stop-color="#fdc790"/><stop offset=".8083" stop-color="#fdbb84"/><stop offset=".8792" stop-color="#fda772"/><stop offset=".95" stop-color="#fc8d59"/><stop offset="1" stop-color="#f67951"/></linearGradient>
<linearGradient id="g22_43"><stop offset="0" stop-color="#fdd59f"/><stop offset=".5" stop-color="#fdcf98"/><stop offset=".6792" stop-color="#fdc891"/><stop offset=".8125" stop-color="#fdbb84"/><stop offset=".8792" stop-color="#fda873"/><stop offset=".95" stop-color="#fc8e5a"/><stop offset="1" stop-color="#f67a51"/></linearGradient>
<linearGradient id="g22_44"><stop offset="0" stop-color="#fdd5a1"/><stop offset=".5" stop-color="#fdd09a"/><stop offset=".6833" stop-color="#fdc892"/><stop offset=".7542" stop-color="#fdc38c"/><stop offset=".8167" stop-color="#fdbb84"/><stop offset=".8833" stop-color="#fda872"/><stop offset=".9542" stop-color="#fc8d59"/><stop offset="1" stop-color="#f67a51"/></linearGradient>
<linearGradient id="g22_45"><stop offset="0" stop-color="#fdd6a3"/><stop offset=".5" stop-color="#fdd19b"/><stop offset=".6875" stop-color="#fdc992"/><stop offset=".7625" stop-color="#fdc38c"/><stop offset=".825" stop-color="#fdbb84"/><stop offset=".8917" stop-color="#fda671"/><stop offset=".9542" stop-color="#fc8d59"/><stop offset="1" stop-color="#f67b51"/></linearGradient>
<linearGradient id="g22_46"><stop offset="0" stop-color="#fdd7a5"/><stop offset=".5" stop-color="#fdd29c"/><stop offset=".6875" stop-color="#fdca93"/><stop offset=".7625" stop-color="#fdc38d"/><stop offset=".8292" stop-color="#fdbb84"/><stop offset=".8917" stop-color="#fda771"/><stop offset=".9583" stop-color="#fc8c59"/><stop offset="1" stop-color="#f67b51"/></linearGradient>
<linearGradient id="g22_47"><stop offset="0" stop-color="#fdd8a6"/><stop offset=".5" stop-color="#fdd39d"/><stop offset=".6875" stop-color="#fdcb94"/><stop offset=".7625" stop-color="#fdc48d"/><stop offset=".8292" stop-color="#fdbb85"/><stop offset=".8917" stop-color="#fda872"/><stop offset=".9583" stop-color="#fc8d59"/><stop offset="1" stop-color="#f67c52"/></linearGradient>
<linearGradient id="g22_48"><stop offset="0" stop-color="#fdd9a8"/><stop offset=".3083" stop-color="#fdd7a3"/><stop offset=".5" stop-color="#fdd49e"/><stop offset=".6917" stop-color="#fdcb95"/><stop offset=".7667" stop-color="#fdc48e"/><stop offset=".8333" stop-color="#fdbb84"/><stop offset=".8917" stop-color="#fda973"/><stop offset=".9583" stop-color="#fc8d59"/><stop offset="1" stop-color="#f67c52"/></linearGradient>
<linearGradient id="g22_49"><stop offset="0" stop-color="#fddaaa"/><stop offset=".3125" stop-color="#fdd7a5"/><stop offset=".5" stop-color="#fdd59f"/><stop offset=".6042" stop-color="#fdd19b"/><stop offset=".6917" stop-color="#fdcc96"/><stop offset=".7667" stop-color="#fdc58e"/><stop offset=".8375" stop-color="#fdbb84"/><stop offset=".8958" stop-color="#fda872"/><stop offset=".9583" stop-color="#fc8e5a"/><stop offset="1" stop-color="#f77c52"/></linearGradient>
<linearGradient id="g22_50"><stop offset="0" stop-color="#fddaab"/><stop offset=".3125" stop-color="#fdd8a7"/><stop offset=".5" stop-color="#fdd5a1"/><stop offset=".6" stop-color="#fdd29c"/><stop offset=".6917" stop-color="#fdcd97"/><stop offset=".7708" stop-color="#fdc58f"/><stop offset=".8417" stop-color="#fdbb84"/><stop offset=".9" stop-color="#fda771"/><stop offset=".9625" stop-color="#fc8d59"/><stop offset="1" stop-color="#f77d52"/></linearGradient>
<linearGradient id="g22_51"><stop offset="0" stop-color="#fddbad"/><stop offset=".3125" stop-color="#fdd9a8"/><stop offset=".5" stop-color="#fdd6a3"/><stop offset=".5958" stop-color="#fdd39d"/><stop offset=".6917" stop-color="#fdce97"/><stop offset=".7708" stop-color="#fdc68f"/><stop offset=".8458" stop-color="#fdbb84"/><stop offset=".9042" stop-color="#fda671"/><stop offset=".9625" stop-color="#fc8d59"/><stop offset="1" stop-color="#f77d52"/></linearGradient>
<linearGradient id="g22_52"><stop offset="0" stop-color="#fddcaf"/><stop offset=".3125" stop-color="#fddaaa"/><stop offset=".5" stop-color="#fdd7a4"/><stop offset=".6042" stop-color="#fdd49e"/><stop offset=".6917" stop-color="#fdce98"/><stop offset=".7708" stop-color="#fdc790"/><stop offset=".8458" stop-color="#fdbb84"/><stop offset=".9" stop-color="#fda973"/><stop offset=".9625" stop-color="#fc8e5a"/><stop offset="1" stop-color="#f77e52"/></linearGradient>
<linearGradient id="g22_53"><stop offset="0" stop-color="#fdddb0"/><stop offset=".3125" stop-color="#fddbac"/><stop offset=".5" stop-color="#fdd8a6"/><stop offset=".6167" stop-color="#fdd49e"/><stop offset=".6917" stop-color="#fdcf99"/><stop offset=".775" stop-color="#fdc790"/><stop offset=".85" stop-color="#fdbb84"/><stop offset=".9042" stop-color="#fda872"/><stop offset=".9625" stop-color="#fc8e5a"/><stop offset="1" stop-color="#f77e53"/></linearGradient>
<linearGradient id="g22_54"><stop offset="0" stop-color="#fddeb2"/><stop offset=".3125" stop-color="#fddbad"/><stop offset=".5" stop-color="#fdd8a7"/><stop offset=".6208" stop-color="#fdd59f"/><stop offset=".6917" stop-color="#fdd09a"/><stop offset=".775" stop-color="#fdc791"/><stop offset=".85" stop-color="#fdbc85"/><stop offset=".9042" stop-color="#fda872"/><stop offset=".9667" stop-color="#fc8d59"/><stop offset="1" stop-color="#f77e53"/></linearGradient>
<linearGradient id="g22_55"><stop offset="0" stop-color="#fedeb4"/><stop offset=".3125" stop-color="#fddcaf"/><stop offset=".5" stop-color="#fdd9a9"/><stop offset=".6208" stop-color="#fdd5a1"/><stop offset=".6917" stop-color="#fdd19b"/><stop offset=".775" stop-color="#fdc891"/><stop offset=".85" stop-color="#fdbc85"/><stop offset=".9" stop-color="#fdaa75"/><stop offset=".9667" stop-color="#fc8d59"/><stop offset="1" stop-color="#f77e53"/></linearGradient>
<linearGradient id="g22_56"><stop offset="0" stop-color="#fedfb5"/><stop offset=".3125" stop-color="#fdddb1"/><stop offset=".5" stop-color="#fddaaa"/><stop offset=".5875" stop-color="#fdd7a5"/><stop offset=".6875" stop-color="#fdd29c"/><stop offset=".7708" stop-color="#fdc992"/><stop offset=".8458" stop-color="#fdbd86"/><stop offset=".8583" stop-color="#fdbb84"/><stop offset=".8917" stop-color="#fdae78"/><stop offset=".9667" stop-color="#fc8d59"/><stop offset="1" stop-color="#f77f53"/></linearGradient>
<linearGradient id="g22_57"><stop offset="0" stop-color="#fee0b7"/><stop offset=".3125" stop-color="#fddeb2"/><stop offset=".5" stop-color="#fddbac"/><stop offset=".5917" stop-color="#fdd8a6"/><stop offset=".6833" stop-color="#fdd39d"/><stop offset=".7667" stop-color="#fdca94"/><stop offset=".8458" stop-color="#fdbe87"/><stop offset=".8625" stop-color="#fdba83"/><stop offset=".8917" stop-color="#fdaf79"/><stop offset=".9667" stop-color="#fc8e5a"/><stop offset="1" stop-color="#f77f53"/></linearGradient>
<linearGradient id="g22_58"><stop offset="0" stop-color="#fee1b9"/><stop offset=".3125" stop-color="#fedeb4"/><stop offset=".5" stop-color="#fddbad"/><stop offset=".5958" stop-color="#fdd8a7"/><stop offset=".6792" stop-color="#fdd49e"/><stop offset=".7625" stop-color="#fdcb95"/><stop offset=".8417" stop-color="#fdbf88"/><stop offset=".8625" stop-color="#fdbb84"/><stop offset=".8917" stop-color="#fdb079"/><stop offset=".9667" stop-color="#fc8e5a"/><stop offset="1" stop-color="#f87f53"/></linearGradient>
<linearGradient id="g22_59"><stop offset="0" stop-color="#fee2ba"/><stop offset=".3125" stop-color="#fedfb5"/><stop offset=".5" stop-color="#fddcaf"/><stop offset=".6" stop-color="#fdd9a8"/><stop offset=".6875" stop-color="#fdd49e"/><stop offset=".7667" stop-color="#fdcb95"/><stop offset=".8417" stop-color="#fdbf88"/><stop offset=".8625" stop-color="#fdbb84"/><stop offset=".8917" stop-color="#fdb07a"/><stop offset=".9708" stop-color="#fc8d59"/><stop offset="1" stop-color="#f88053"/></linearGradient>
<linearGradient id="g22_60"><stop offset="0" stop-color="#fee2bc"/><stop offset=".3125" stop-color="#fee0b7"/><stop offset=".5" stop-color="#fdddb0"/><stop offset=".6042" stop-color="#fdd9a9"/><stop offset=".6917" stop-color="#fdd49e"/><stop offset=".7708" stop-color="#fdcb95"/><stop offset=".8417" stop-color="#fdc089"/><stop offset=".8667" stop-color="#fdbb84"/><stop offset=".8875" stop-color="#fdb37c"/><stop offset=".9708" stop-color="#fc8d59"/><stop offset="1" stop-color="#f88053"/></linearGradient>
<linearGradient id="g22_61"><stop offset="0" stop-color="#fee3be"/><stop offset=".3125" stop-color="#fee1b9"/><stop offset=".5" stop-color="#fdddb2"/><stop offset=".6083" stop-color="#fddaaa"/><stop offset=".7" stop-color="#fdd49e"/><stop offset=".7708" stop-color="#fdcc95"/><stop offset=".8375" stop-color="#fdc18a"/><stop offset=".8667" stop-color="#fdbb84"/><stop offset=".8833" stop-color="#fdb57e"/><stop offset=".9708" stop-color="#fc8d59"/><stop offset="1" stop-color="#f88054"/></linearGradient>
<linearGradient id="g22_62"><stop offset="0" stop-color="#fee4bf"/><stop offset=".3125" stop-color="#fee1ba"/><stop offset=".5" stop-color="#fedeb3"/><stop offset=".6125" stop-color="#fddaab"/><stop offset=".7042" stop-color="#fdd49e"/><stop offset=".7708" stop-color="#fdcc96"/><stop offset=".8375" stop-color="#fdc18a"/><stop offset=".8667" stop-color="#fdbb84"/><stop offset=".8792" stop-color="#fdb780"/><stop offset=".9708" stop-color="#fc8e5a"/><stop offset="1" stop-color="#f88154"/></linearGradient>
<linearGradient id="g22_63"><stop offset="0" stop-color="#fee5c1"/><stop offset=".3125" stop-color="#fee2bc"/><stop offset=".5" stop-color="#fedfb5"/><stop offset=".6167" stop-color="#fddaac"/><stop offset=".7125" stop-color="#fdd49e"/><stop offset=".775" stop-color="#fdcc96"/><stop offset=".8375" stop-color="#fdc28b"/><stop offset=".8708" stop-color="#fdbb84"/><stop offset=".8792" stop-color="#fdb881"/><stop offset=".9708" stop-color="#fc8e5a"/><stop offset="1" stop-color="#f88154"/></linearGradient>
<linearGradient id="g22_64"><stop offset="0" stop-color="#fee5c3"/><stop offset=".3125" stop-color="#fee3bd"/><stop offset=".5" stop-color="#fee0b6"/><stop offset=".6125" stop-color="#fddbad"/><stop offset=".7083" stop-color="#fdd5a0"/><stop offset=".7708" stop-color="#fdcd97"/><stop offset=".8333" stop-color="#fdc38c"/><stop offset=".875" stop-color="#fdba83"/><stop offset=".925" stop-color="#fda46f"/><stop offset=".975" stop-color="#fc8c59"/><stop offset="1" stop-color="#f88154"/></linearGradient>
<linearGradient id="g22_65"><stop offset="0" stop-color="#fee6c4"/><stop offset=".3125" stop-color="#fee4bf"/><stop offset=".5" stop-color="#fee0b8"/><stop offset=".6125" stop-color="#fddcaf"/><stop offset=".7083" stop-color="#fdd5a1"/><stop offset=".7667" stop-color="#fdce98"/><stop offset=".8333" stop-color="#fdc38c"/><stop offset=".875" stop-color="#fdba83"/><stop offset=".925" stop-color="#fda56f"/><stop offset=".975" stop-color="#fc8d59"/><stop offset="1" stop-color="#f88154"/></linearGradient>
<linearGradient id="g22_66"><stop offset="0" stop-color="#fee7c6"/><stop offset=".3125" stop-color="#fee4c0"/><stop offset=".5" stop-color="#fee1b9"/><stop offset=".6125" stop-color="#fddcb0"/><stop offset=".7083" stop-color="#fdd6a2"/><stop offset=".7667" stop-color="#fdcf99"/><stop offset=".8333" stop-color="#fdc48d"/><stop offset=".875" stop-color="#fdbb84"/><stop offset=".925" stop-color="#fda570"/><stop offset=".975" stop-color="#fc8d59"/><stop offset="1" stop-color="#f88254"/></linearGradient>
<linearGradient id="g22_67"><stop offset="0" stop-color="#fee8c7"/><stop offset=".3125" stop-color="#fee5c2"/><stop offset=".5" stop-color="#fee2bb"/><stop offset=".6125" stop-color="#fdddb1"/><stop offset=".7042" stop-color="#fdd7a4"/><stop offset=".7583" stop-color="#fdd09a"/><stop offset=".8292" stop-color="#fdc58e"/><stop offset=".8792" stop-color="#fdba83"/><stop offset=".925" stop-color="#fda670"/><stop offset=".975" stop-color="#fc8d59"/><stop offset="1" stop-color="#f88254"/></linearGradient>
<linearGradient id="g22_68"><stop offset="0" stop-color="#fee8c9"/><stop offset=".3083" stop-color="#fee6c4"/><stop offset=".5" stop-color="#fee2bc"/><stop offset=".6125" stop-color="#fddeb2"/><stop offset=".7042" stop-color="#fdd7a5"/><stop offset=".7583" stop-color="#fdd19b"/><stop offset=".8292" stop-color="#fdc58e"/><stop offset=".8792" stop-color="#fdba83"/><stop offset=".925" stop-color="#fda670"/><stop offset=".975" stop-color="#fc8e5a"/><stop offset="1" stop-color="#f88254"/></linearGradient>
<linearGradient id="g22_69"><stop offset="0" stop-color="#fee9ca"/><stop offset=".3042" stop-color="#fee7c5"/><stop offset=".5" stop-color="#fee3bd"/><stop offset=".6083" stop-color="#fedeb4"/><stop offset=".7" stop-color="#fdd8a6"/><stop offset=".7542" stop-color="#fdd29c"/><stop offset=".8292" stop-color="#fdc58f"/><stop offset=".8792" stop-color="#fdbb84"/><stop offset=".925" stop-color="#fda771"/><stop offset=".975" stop-color="#fc8e5a"/><stop offset="1" stop-color="#f98254"/></linearGradient>
<linearGradient id="g22_70"><stop offset="0" stop-color="#fee9cc"/><stop offset=".3" stop-color="#fee8c7"/><stop offset=".5" stop-color="#fee4bf"/><stop offset=".6083" stop-color="#fedfb5"/><stop offset=".7" stop-color="#fdd8a7"/><stop offset=".7542" stop-color="#fdd39c"/><stop offset=".8292" stop-color="#fdc68f"/><stop offset=".8833" stop-color="#fdba83"/><stop offset=".975" stop-color="#fc8e5a"/><stop offset="1" stop-color="#f98355"/></linearGradient>
<linearGradient id="g22_71"><stop offset="0" stop-color="#feeacd"/><stop offset=".3167" stop-color="#fee8c8"/><stop offset=".5" stop-color="#fee4c0"/><stop offset=".6042" stop-color="#fee0b7"/><stop offset=".6958" stop-color="#fdd9a9"/><stop offset=".75" stop-color="#fdd49e"/><stop offset=".825" stop-color="#fdc790"/><stop offset=".8833" stop-color="#fdba83"/><stop offset=".9792" stop-color="#fc8c59"/><stop offset="1" stop-color="#f98355"/></linearGradient>
<linearGradient id="g22_72"><stop offset="0" stop-color="#feebce"/><stop offset=".3292" stop-color="#fee8c9"/><stop offset=".5" stop-color="#fee5c1"/><stop offset=".5792" stop-color="#fee2bb"/><stop offset=".6458" stop-color="#fddeb2"/><stop offset=".7" stop-color="#fdd9a9"/><stop offset=".75" stop-color="#fdd49e"/><stop offset=".825" stop-color="#fdc791"/><stop offset=".8833" stop-color="#fdbb84"/><stop offset=".9792" stop-color="#fc8d59"/><stop offset="1" stop-color="#f98355"/></linearGradient>
<linearGradient id="g22_73"><stop offset="0" stop-color="#feebd0"/><stop offset=".325" stop-color="#fee9ca"/><stop offset=".5" stop-color="#fee6c3"/><stop offset=".5792" stop-color="#fee2bc"/><stop offset=".65" stop-color="#fddeb3"/><stop offset=".7042" stop-color="#fdd9a9"/><stop offset=".7542" stop-color="#fdd49e"/><stop offset=".825" stop-color="#fdc891"/><stop offset=".8833" stop-color="#fdbb84"/><stop offset=".9792" stop-color="#fc8d59"/><stop offset="1" stop-color="#f98355"/></linearGradient>
<linearGradient id="g22_74"><stop offset="0" stop-color="#feecd1"/><stop offset=".3208" stop-color="#feeacc"/><stop offset=".5" stop-color="#fee6c4"/><stop offset=".5792" stop-color="#fee3bd"/><stop offset=".6458" stop-color="#fedfb5"/><stop offset=".7" stop-color="#fddaab"/><stop offset=".7542" stop-color="#fdd49f"/><stop offset=".8208" stop-color="#fdc992"/><stop offset=".8833" stop-color="#fdbb84"/><stop offset=".9292" stop-color="#fda671"/><stop offset=".9792" stop-color="#fc8d59"/><stop offset="1" stop-color="#f98355"/></linearGradient>
<linearGradient id="g22_75"><stop offset="0" stop-color="#feecd2"/><stop offset=".3167" stop-color="#feeacd"/><stop offset=".5" stop-color="#fee7c6"/><stop offset=".5792" stop-color="#fee3be"/><stop offset=".65" stop-color="#fedfb5"/><stop offset=".7042" stop-color="#fddaab"/><stop offset=".7583" stop-color="#fdd49e"/><stop offset=".8208" stop-color="#fdc993"/><stop offset=".8875" stop-color="#fdba83"/><stop offset=".9792" stop-color="#fc8d59"/><stop offset="1" stop-color="#f98455"/></linearGradient>
<linearGradient id="g22_76"><stop offset="0" stop-color="#feedd4"/><stop offset=".3125" stop-color="#feebcf"/><stop offset=".5" stop-color="#fee7c7"/><stop offset=".5792" stop-color="#fee4c0"/><stop offset=".65" stop-color="#fedfb6"/><stop offset=".7042" stop-color="#fddbac"/><stop offset=".7583" stop-color="#fdd49f"/><stop offset=".8208" stop-color="#fdc993"/><stop offset=".8875" stop-color="#fdba84"/><stop offset=".9792" stop-color="#fc8e5a"/><stop offset="1" stop-color="#f98455"/></linearGradient>
<linearGradient id="g22_77"><stop offset="0" stop-color="#feedd5"/><stop offset=".3083" stop-color="#feebd0"/><stop offset=".5" stop-color="#fee8c8"/><stop offset=".5792" stop-color="#fee5c1"/><stop offset=".65" stop-color="#fee0b7"/><stop offset=".7083" stop-color="#fddbac"/><stop offset=".7625" stop-color="#fdd49f"/><stop offset=".8208" stop-color="#fdca93"/><stop offset=".8875" stop-color="#fdbb84"/><stop offset=".9792" stop-color="#fc8e5a"/><stop offset="1" stop-color="#f98455"/></linearGradient>
<linearGradient id="g22_78"><stop offset="0" stop-color="#feeed7"/><stop offset=".3083" stop-color="#feecd1"/><stop offset=".5" stop-color="#fee9c9"/><stop offset=".5792" stop-color="#fee5c2"/><stop offset=".65" stop-color="#fee0b8"/><stop offset=".7042" stop-color="#fddbae"/><stop offset=".7583" stop-color="#fdd5a0"/><stop offset=".8167" stop-color="#fdcb95"/><stop offset=".8875" stop-color="#fdbb84"/><stop offset=".9792" stop-color="#fc8e5a"/><stop offset="1" stop-color="#f98455"/></linearGradient>
<linearGradient id="g22_79"><stop offset="0" stop-color="#feefd8"/><stop offset=".3083" stop-color="#feecd3"/><stop offset=".5" stop-color="#fee9ca"/><stop offset=".575" stop-color="#fee6c4"/><stop offset=".65" stop-color="#fee1b9"/><stop offset=".7042" stop-color="#fddcaf"/><stop offset=".7542" stop-color="#fdd6a2"/><stop offset=".8167" stop-color="#fdcb95"/><stop offset=".8917" stop-color="#fdba83"/><stop offset=".9792" stop-color="#fc8f5a"/><stop offset="1" stop-color="#f98555"/></linearGradient>
<linearGradient id="g22_80"><stop offset="0" stop-color="#feefd9"/><stop offset=".3083" stop-color="#feedd4"/><stop offset=".5" stop-color="#feeacc"/><stop offset=".5708" stop-color="#fee7c5"/><stop offset=".6458" stop-color="#fee2bb"/><stop offset=".7" stop-color="#fdddb0"/><stop offset=".75" stop-color="#fdd7a4"/><stop offset=".8125" stop-color="#fdcc96"/><stop offset=".8917" stop-color="#fdba83"/><stop offset=".9833" stop-color="#fc8d59"/><stop offset="1" stop-color="#f98556"/></linearGradient>
<linearGradient id="g22_81"><stop offset="0" stop-color="#fff0db"/><stop offset=".3083" stop-color="#feeed5"/><stop offset=".5" stop-color="#feeacd"/><stop offset=".5667" stop-color="#fee8c7"/><stop offset=".6458" stop-color="#fee2bc"/><stop offset=".7" stop-color="#fdddb1"/><stop offset=".75" stop-color="#fdd7a5"/><stop offset=".775" stop-color="#fdd49e"/><stop offset=".8125" stop-color="#fdcd96"/><stop offset=".8917" stop-color="#fdbb84"/><stop offset=".9833" stop-color="#fc8d59"/><stop offset="1" stop-color="#f98556"/></linearGradient>
<linearGradient id="g22_82"><stop offset="0" stop-color="#fff0dc"/><stop offset=".3083" stop-color="#feeed7"/><stop offset=".5" stop-color="#feeace"/><stop offset=".5708" stop-color="#fee8c8"/><stop offset=".6458" stop-color="#fee3bd"/><stop offset=".6958" stop-color="#fddeb3"/><stop offset=".7458" stop-color="#fdd8a7"/><stop offset=".775" stop-color="#fdd49e"/><stop offset=".8125" stop-color="#fdcd97"/><stop offset=".8917" stop-color="#fdbb84"/><stop offset=".9833" stop-color="#fc8d59"/><stop offset="1" stop-color="#f98556"/></linearGradient>
<linearGradient id="g22_83"><stop offset="0" stop-color="#fff1dd"/><stop offset=".3083" stop-color="#feefd8"/><stop offset=".5" stop-color="#feebcf"/><stop offset=".5792" stop-color="#fee8c8"/><stop offset=".6458" stop-color="#fee3be"/><stop offset=".7417" stop-color="#fdd9a8"/><stop offset=".7792" stop-color="#fdd49e"/><stop offset=".8083" stop-color="#fdce98"/><stop offset=".8917" stop-color="#fdbb84"/><stop offset=".9833" stop-color="#fc8d59"/><stop offset="1" stop-color="#fa8556"/></linearGradient>
<linearGradient id="g22_84"><stop offset="0" stop-color="#fff1df"/><stop offset=".3083" stop-color="#feefd9"/><stop offset=".5" stop-color="#feebd0"/><stop offset=".5833" stop-color="#fee8c8"/><stop offset=".6458" stop-color="#fee4bf"/><stop offset=".7417" stop-color="#fdd9a9"/><stop offset=".7792" stop-color="#fdd49e"/><stop offset=".8083" stop-color="#fdce98"/><stop offset=".8958" stop-color="#fdba83"/><stop offset=".9833" stop-color="#fc8e5a"/><stop offset="1" stop-color="#fa8656"/></linearGradient>
<linearGradient id="g22_85"><stop offset="0" stop-color="#fff2e0"/><stop offset=".3083" stop-color="#fff0da"/><stop offset=".5" stop-color="#feecd1"/><stop offset=".5917" stop-color="#fee8c8"/><stop offset=".6458" stop-color="#fee4c0"/><stop offset=".7417" stop-color="#fddaaa"/><stop offset=".7833" stop-color="#fdd49e"/><stop offset=".8083" stop-color="#fdcf99"/><stop offset=".8958" stop-color="#fdba83"/><stop offset=".9833" stop-color="#fc8e5a"/><stop offset="1" stop-color="#fa8656"/></linearGradient>
<linearGradient id="g22_86"><stop offset="0" stop-color="#fff3e1"/><stop offset=".3083" stop-color="#fff0dc"/><stop offset=".5" stop-color="#feecd2"/><stop offset=".5875" stop-color="#fee9ca"/><stop offset=".6458" stop-color="#fee4c1"/><stop offset=".7083" stop-color="#fedeb3"/><stop offset=".7833" stop-color="#fdd49e"/><stop offset=".8042" stop-color="#fdd09a"/><stop offset=".8958" stop-color="#fdbb84"/><stop offset=".9833" stop-color="#fc8e5a"/><stop offset="1" stop-color="#fa8656"/></linearGradient>
<linearGradient id="g22_87"><stop offset="0" stop-color="#fff3e3"/><stop offset=".3083" stop-color="#fff1dd"/><stop offset=".5" stop-color="#feedd3"/><stop offset=".5875" stop-color="#fee9cb"/><stop offset=".6458" stop-color="#fee5c2"/><stop offset=".7125" stop-color="#fddeb3"/><stop offset=".8042" stop-color="#fdd09a"/><stop offset=".8958" stop-color="#fdbb84"/><stop offset=".9833" stop-color="#fc8e5a"/><stop offset="1" stop-color="#fa8656"/></linearGradient>
<linearGradient id="g22_88"><stop offset="0" stop-color="#fff4e4"/><stop offset=".3083" stop-color="#fff1de"/><stop offset=".5" stop-color="#feedd4"/><stop offset=".5875" stop-color="#fee9cc"/><stop offset=".6458" stop-color="#fee5c2"/><stop offset=".7125" stop-color="#fedeb4"/><stop offset=".8042" stop-color="#fdd09a"/><stop offset=".8958" stop-color="#fdbb84"/><stop offset=".9833" stop-color="#fc8f5a"/><stop offset="1" stop-color="#fa8656"/></linearGradient>
<linearGradient id="g22_89"><stop offset="0" stop-color="#fff4e5"/><stop offset=".3083" stop-color="#fff2df"/><stop offset=".5" stop-color="#feeed5"/><stop offset=".5833" stop-color="#feeacd"/><stop offset=".6458" stop-color="#fee6c3"/><stop offset=".7125" stop-color="#fedfb4"/><stop offset=".8" stop-color="#fdd29c"/><stop offset=".8958" stop-color="#fdbb84"/><stop offset=".9875" stop-color="#fc8d59"/><stop offset="1" stop-color="#fa8756"/></linearGradient>
<linearGradient id="g22_90"><stop offset="0" stop-color="#fff5e7"/><stop offset=".3083" stop-color="#fff2e1"/><stop offset=".5" stop-color="#feeed6"/><stop offset=".5833" stop-color="#feeace"/><stop offset=".6458" stop-color="#fee6c4"/><stop offset=".7167" stop-color="#fedeb4"/><stop offset=".8" stop-color="#fdd29c"/><stop offset=".8958" stop-color="#fdbb85"/><stop offset=".9875" stop-color="#fc8d59"/><stop offset="1" stop-color="#fa8756"/></linearGradient>
<linearGradient id="g22_91"><stop offset="0" stop-color="#fff5e8"/><stop offset=".3083" stop-color="#fff3e2"/><stop offset=".5" stop-color="#feeed8"/><stop offset=".5792" stop-color="#feebcf"/><stop offset=".6458" stop-color="#fee7c5"/><stop offset=".7167" stop-color="#fedfb5"/><stop offset=".8" stop-color="#fdd29c"/><stop offset=".9" stop-color="#fdba83"/><stop offset=".9875" stop-color="#fc8d59"/><stop offset="1" stop-color="#fa8756"/></linearGradient>
<linearGradient id="g22_92"><stop offset="0" stop-color="#fff6e9"/><stop offset=".3083" stop-color="#fff3e3"/><stop offset=".4125" stop-color="#fff1df"/><stop offset=".5" stop-color="#feefd9"/><stop offset=".575" stop-color="#feecd1"/><stop offset=".6417" stop-color="#fee7c7"/><stop offset=".7167" stop-color="#fedfb5"/><stop offset=".7958" stop-color="#fdd39d"/><stop offset=".9" stop-color="#fdbb84"/><stop offset=".9875" stop-color="#fc8d59"/><stop offset="1" stop-color="#fa8756"/></linearGradient>
<linearGradient id="g22_93"><stop offset="0" stop-color="#fff7eb"/><stop offset=".3083" stop-color="#fff4e4"/><stop offset=".4125" stop-color="#fff2e0"/><stop offset=".5" stop-color="#feefda"/><stop offset=".575" stop-color="#feecd2"/><stop offset=".6417" stop-color="#fee8c8"/><stop offset=".7167" stop-color="#fedfb6"/><stop offset=".7958" stop-color="#fdd49e"/><stop offset=".9" stop-color="#fdbb84"/><stop offset=".9875" stop-color="#fc8d59"/><stop offset="1" stop-color="#fa8757"/></linearGradient>
<clipPath id="clip20"><rect x="140.00" y="953.40" width="476.50" height="374.40"/></clipPath>
<clipPath id="clip21"><rect x="803.75" y="953.40" width="476.50" height="374.40"/></clipPath>
<clipPath id="clip22"><rect x="1467.50" y="953.40" width="476.50" height="374.40"/></clipPath>
<linearGradient id="cb" x1="0" y1="0" x2="0" y2="1"><stop offset="0.0000" stop-color="#7f0000"/><stop offset="0.1250" stop-color="#b30000"/><stop offset="0.2500" stop-color="#d7301f"/><stop offset="0.3750" stop-color="#ef6548"/><stop offset="0.5000" stop-color="#fc8d59"/><stop offset="0.6250" stop-color="#fdbb84"/><stop offset="0.7500" stop-color="#fdd49e"/><stop offset="0.8750" stop-color="#fee8c8"/><stop offset="1.0000" stop-color="#fff7ec"/></linearGradient>
</defs>
<rect width="2100" height="1399" fill="#fff"/>
<rect x="140.00" y="68.50" width="476.50" height="374.40" fill="url(#g00)"/>
<rect x="803.75" y="68.50" width="476.50" height="374.40" fill="url(#g01)"/>
<rect x="1467.50" y="68.50" width="476.50" height="374.40" fill="url(#g02)"/>
<g shape-rendering="crispEdges">
<rect x="140" y="510.7" width="476.5" height="4.48" fill="url(#g10_0)"/>
<rect x="140" y="514.68" width="476.5" height="4.48" fill="url(#g10_1)"/>
<rect x="140" y="518.67" width="476.5" height="4.48" fill="url(#g10_2)"/>
<rect x="140" y="522.65" width="476.5" height="4.48" fill="url(#g10_3)"/>
<rect x="140" y="526.63" width="476.5" height="4.48" fill="url(#g10_4)"/>
<rect x="140" y="530.61" width="476.5" height="4.48" fill="url(#g10_5)"/>
<rect x="140" y="534.6" width="476.5" height="4.48" fill="url(#g10_6)"/>
<rect x="140" y="538.58" width="476.5" height="4.48" fill="url(#g10_7)"/>
<rect x="140" y="542.56" width="476.5" height="4.48" fill="url(#g10_8)"/>
<rect x="140" y="546.55" width="476.5" height="4.48" fill="url(#g10_9)"/>
<rect x="140" y="550.53" width="476.5" height="4.48" fill="url(#g10_10)"/>
<rect x="140" y="554.51" width="476.5" height="4.48" fill="url(#g10_11)"/>
<rect x="140" y="558.5" width="476.5" height="4.48" fill="url(#g10_12)"/>
<rect x="140" y="562.48" width="476.5" height="4.48" fill="url(#g10_13)"/>
<rect x="140" y="566.46" width="476.5" height="4.48" fill="url(#g10_14)"/>
<rect x="140" y="570.44" width="476.5" height="4.48" fill="url(#g10_15)"/>
<rect x="140" y="574.43" width="476.5" height="4.48" fill="url(#g10_16)"/>
<rect x="140" y="578.41" width="476.5" height="4.48" fill="url(#g10_17)"/>
<rect x="140" y="582.39" width="476.5" height="4.48" fill="url(#g10_18)"/>
<rect x="140" y="586.38" width="476.5" height="4.48" fill="url(#g10_19)"/>
<rect x="140" y="590.36" width="476.5" height="4.48" fill="url(#g10_20)"/>
<rect x="140" y="594.34" width="476.5" height="4.48" fill="url(#g10_21)"/>
<rect x="140" y="598.33" width="476.5" height="4.48" fill="url(#g10_22)"/>
<rect x="140" y="602.31" width="476.5" height="4.48" fill="url(#g10_23)"/>
<rect x="140" y="606.29" width="476.5" height="4.48" fill="url(#g10_24)"/>
<rect x="140" y="610.27" width="476.5" height="4.48" fill="url(#g10_25)"/>
<rect x="140" y="614.26" width="476.5" height="4.48" fill="url(#g10_26)"/>
<rect x="140" y="618.24" width="476.5" height="4.48" fill="url(#g10_27)"/>
<rect x="140" y="622.22" width="476.5" height="4.48" fill="url(#g10_28)"/>
<rect x="140" y="626.21" width="476.5" height="4.48" fill="url(#g10_29)"/>
<rect x="140" y="630.19" width="476.5" height="4.48" fill="url(#g10_30)"/>
<rect x="140" y="634.17" width="476.5" height="4.48" fill="url(#g10_31)"/>
<rect x="140" y="638.16" width="476.5" height="4.48" fill="url(#g10_32)"/>
<rect x="140" y="642.14" width="476.5" height="4.48" fill="url(#g10_33)"/>
<rect x="140" y="646.12" width="476.5" height="4.48" fill="url(#g10_34)"/>
<rect x="140" y="650.1" width="476.5" height="4.48" fill="url(#g10_35)"/>
<rect x="140" y="654.09" width="476.5" height="4.48" fill="url(#g10_36)"/>
<rect x="140" y="658.07" width="476.5" height="4.48" fill="url(#g10_37)"/>
<rect x="140" y="662.05" width="476.5" height="4.48" fill="url(#g10_38)"/>
<rect x="140" y="666.04" width="476.5" height="4.48" fill="url(#g10_39)"/>
<rect x="140" y="670.02" width="476.5" height="4.48" fill="url(#g10_40)"/>
<rect x="140" y="674" width="476.5" height="4.48" fill="url(#g10_41)"/>
<rect x="140" y="677.99" width="476.5" height="4.48" fill="url(#g10_42)"/>
<rect x="140" y="681.97" width="476.5" height="4.48" fill="url(#g10_43)"/>
<rect x="140" y="685.95" width="476.5" height="4.48" fill="url(#g10_44)"/>
<rect x="140" y="689.93" width="476.5" height="4.48" fill="url(#g10_45)"/>
<rect x="140" y="693.92" width="476.5" height="4.48" fill="url(#g10_46)"/>
<rect x="140" y="697.9" width="476.5" height="4.48" fill="url(#g10_47)"/>
<rect x="140" y="701.88" width="476.5" height="4.48" fill="url(#g10_48)"/>
<rect x="140" y="705.87" width="476.5" height="4.48" fill="url(#g10_49)"/>
<rect x="140" y="709.85" width="476.5" height="4.48" fill="url(#g10_50)"/>
<rect x="140" y="713.83" width="476.5" height="4.48" fill="url(#g10_51)"/>
<rect x="140" y="717.81" width="476.5" height="4.48" fill="url(#g10_52)"/>
<rect x="140" y="721.8" width="476.5" height="4.48" fill="url(#g10_53)"/>
<rect x="140" y="725.78" width="476.5" height="4.48" fill="url(#g10_54)"/>
<rect x="140" y="729.76" width="476.5" height="4.48" fill="url(#g10_55)"/>
<rect x="140" y="733.75" width="476.5" height="4.48" fill="url(#g10_56)"/>
<rect x="140" y="737.73" width="476.5" height="4.48" fill="url(#g10_57)"/>
<rect x="140" y="741.71" width="476.5" height="4.48" fill="url(#g10_58)"/>
<rect x="140" y="745.7" width="476.5" height="4.48" fill="url(#g10_59)"/>
<rect x="140" y="749.68" width="476.5" height="4.48" fill="url(#g10_60)"/>
<rect x="140" y="753.66" width="476.5" height="4.48" fill="url(#g10_61)"/>
<rect x="140" y="757.64" width="476.5" height="4.48" fill="url(#g10_62)"/>
<rect x="140" y="761.63" width="476.5" height="4.48" fill="url(#g10_63)"/>
<rect x="140" y="765.61" width="476.5" height="4.48" fill="url(#g10_64)"/>
<rect x="140" y="769.59" width="476.5" height="4.48" fill="url(#g10_65)"/>
<rect x="140" y="773.58" width="476.5" height="4.48" fill="url(#g10_66)"/>
<rect x="140" y="777.56" width="476.5" height="4.48" fill="url(#g10_67)"/>
<rect x="140" y="781.54" width="476.5" height="4.48" fill="url(#g10_68)"/>
<rect x="140" y="785.53" width="476.5" height="4.48" fill="url(#g10_69)"/>
<rect x="140" y="789.51" width="476.5" height="4.48" fill="url(#g10_70)"/>
<rect x="140" y="793.49" width="476.5" height="4.48" fill="url(#g10_71)"/>
<rect x="140" y="797.47" width="476.5" height="4.48" fill="url(#g10_72)"/>
<rect x="140" y="801.46" width="476.5" height="4.48" fill="url(#g10_73)"/>
<rect x="140" y="805.44" width="476.5" height="4.48" fill="url(#g10_74)"/>
<rect x="140" y="809.42" width="476.5" height="4.48" fill="url(#g10_75)"/>
<rect x="140" y="813.41" width="476.5" height="4.48" fill="url(#g10_76)"/>
<rect x="140" y="817.39" width="476.5" height="4.48" fill="url(#g10_77)"/>
<rect x="140" y="821.37" width="476.5" height="4.48" fill="url(#g10_78)"/>
<rect x="140" y="825.36" width="476.5" height="4.48" fill="url(#g10_79)"/>
<rect x="140" y="829.34" width="476.5" height="4.48" fill="url(#g10_80)"/>
<rect x="140" y="833.32" width="476.5" height="4.48" fill="url(#g10_81)"/>
<rect x="140" y="837.3" width="476.5" height="4.48" fill="url(#g10_82)"/>
<rect x="140" y="841.29" width="476.5" height="4.48" fill="url(#g10_83)"/>
<rect x="140" y="845.27" width="476.5" height="4.48" fill="url(#g10_84)"/>
<rect x="140" y="849.25" width="476.5" height="4.48" fill="url(#g10_85)"/>
<rect x="140" y="853.24" width="476.5" height="4.48" fill="url(#g10_86)"/>
<rect x="140" y="857.22" width="476.5" height="4.48" fill="url(#g10_87)"/>
<rect x="140" y="861.2" width="476.5" height="4.48" fill="url(#g10_88)"/>
<rect x="140" y="865.19" width="476.5" height="4.48" fill="url(#g10_89)"/>
<rect x="140" y="869.17" width="476.5" height="4.48" fill="url(#g10_90)"/>
<rect x="140" y="873.15" width="476.5" height="4.48" fill="url(#g10_91)"/>
<rect x="140" y="877.13" width="476.5" height="4.48" fill="url(#g10_92)"/>
<rect x="140" y="881.12" width="476.5" height="4.48" fill="url(#g10_93)"/>
</g>
<g shape-rendering="crispEdges">
<rect x="803.75" y="510.7" width="476.5" height="4.48" fill="url(#g11_0)"/>
<rect x="803.75" y="514.68" width="476.5" height="4.48" fill="url(#g11_1)"/>
<rect x="803.75" y="518.67" width="476.5" height="4.48" fill="url(#g11_2)"/>
<rect x="803.75" y="522.65" width="476.5" height="4.48" fill="url(#g11_3)"/>
<rect x="803.75" y="526.63" width="476.5" height="4.48" fill="url(#g11_4)"/>
<rect x="803.75" y="530.61" width="476.5" height="4.48" fill="url(#g11_5)"/>
<rect x="803.75" y="534.6" width="476.5" height="4.48" fill="url(#g11_6)"/>
<rect x="803.75" y="538.58" width="476.5" height="4.48" fill="url(#g11_7)"/>
<rect x="803.75" y="542.56" width="476.5" height="4.48" fill="url(#g11_8)"/>
<rect x="803.75" y="546.55" width="476.5" height="4.48" fill="url(#g11_9)"/>
<rect x="803.75" y="550.53" width="476.5" height="4.48" fill="url(#g11_10)"/>
<rect x="803.75" y="554.51" width="476.5" height="4.48" fill="url(#g11_11)"/>
<rect x="803.75" y="558.5" width="476.5" height="4.48" fill="url(#g11_12)"/>
<rect x="803.75" y="562.48" width="476.5" height="4.48" fill="url(#g11_13)"/>
<rect x="803.75" y="566.46" width="476.5" height="4.48" fill="url(#g11_14)"/>
<rect x="803.75" y="570.44" width="476.5" height="4.48" fill="url(#g11_15)"/>
<rect x="803.75" y="574.43" width="476.5" height="4.48" fill="url(#g11_16)"/>
<rect x="803.75" y="578.41" width="476.5" height="4.48" fill="url(#g11_17)"/>
<rect x="803.75" y="582.39" width="476.5" height="4.48" fill="url(#g11_18)"/>
<rect x="803.75" y="586.38" width="476.5" height="4.48" fill="url(#g11_19)"/>
<rect x="803.75" y="590.36" width="476.5" height="4.48" fill="url(#g11_20)"/>
<rect x="803.75" y="594.34" width="476.5" height="4.48" fill="url(#g11_21)"/>
<rect x="803.75" y="598.33" width="476.5" height="4.48" fill="url(#g11_22)"/>
<rect x="803.75" y="602.31" width="476.5" height="4.48" fill="url(#g11_23)"/>
<rect x="803.75" y="606.29" width="476.5" height="4.48" fill="url(#g11_24)"/>
<rect x="803.75" y="610.27" width="476.5" height="4.48" fill="url(#g11_25)"/>
<rect x="803.75" y="614.26" width="476.5" height="4.48" fill="url(#g11_26)"/>
<rect x="803.75" y="618.24" width="476.5" height="4.48" fill="url(#g11_27)"/>
<rect x="803.75" y="622.22" width="476.5" height="4.48" fill="url(#g11_28)"/>
<rect x="803.75" y="626.21" width="476.5" height="4.48" fill="url(#g11_29)"/>
<rect x="803.75" y="630.19" width="476.5" height="4.48" fill="url(#g11_30)"/>
<rect x="803.75" y="634.17" width="476.5" height="4.48" fill="url(#g11_31)"/>
<rect x="803.75" y="638.16" width="476.5" height="4.48" fill="url(#g11_32)"/>
<rect x="803.75" y="642.14" width="476.5" height="4.48" fill="url(#g11_33)"/>
<rect x="803.75" y="646.12" width="476.5" height="4.48" fill="url(#g11_34)"/>
<rect x="803.75" y="650.1" width="476.5" height="4.48" fill="url(#g11_35)"/>
<rect x="803.75" y="654.09" width="476.5" height="4.48" fill="url(#g11_36)"/>
<rect x="803.75" y="658.07" width="476.5" height="4.48" fill="url(#g11_37)"/>
<rect x="803.75" y="662.05" width="476.5" height="4.48" fill="url(#g11_38)"/>
<rect x="803.75" y="666.04" width="476.5" height="4.48" fill="url(#g11_39)"/>
<rect x="803.75" y="670.02" width="476.5" height="4.48" fill="url(#g11_40)"/>
<rect x="803.75" y="674" width="476.5" height="4.48" fill="url(#g11_41)"/>
<rect x="803.75" y="677.99" width="476.5" height="4.48" fill="url(#g11_42)"/>
<rect x="803.75" y="681.97" width="476.5" height="4.48" fill="url(#g11_43)"/>
<rect x="803.75" y="685.95" width="476.5" height="4.48" fill="url(#g11_44)"/>
<rect x="803.75" y="689.93" width="476.5" height="4.48" fill="url(#g11_45)"/>
<rect x="803.75" y="693.92" width="476.5" height="4.48" fill="url(#g11_46)"/>
<rect x="803.75" y="697.9" width="476.5" height="4.48" fill="url(#g11_47)"/>
<rect x="803.75" y="701.88" width="476.5" height="4.48" fill="url(#g11_48)"/>
<rect x="803.75" y="705.87" width="476.5" height="4.48" fill="url(#g11_49)"/>
<rect x="803.75" y="709.85" width="476.5" height="4.48" fill="url(#g11_50)"/>
<rect x="803.75" y="713.83" width="476.5" height="4.48" fill="url(#g11_51)"/>
<rect x="803.75" y="717.81" width="476.5" height="4.48" fill="url(#g11_52)"/>
<rect x="803.75" y="721.8" width="476.5" height="4.48" fill="url(#g11_53)"/>
<rect x="803.75" y="725.78" width="476.5" height="4.48" fill="url(#g11_54)"/>
<rect x="803.75" y="729.76" width="476.5" height="4.48" fill="url(#g11_55)"/>
<rect x="803.75" y="733.75" width="476.5" height="4.48" fill="url(#g11_56)"/>
<rect x="803.75" y="737.73" width="476.5" height="4.48" fill="url(#g11_57)"/>
<rect x="803.75" y="741.71" width="476.5" height="4.48" fill="url(#g11_58)"/>
<rect x="803.75" y="745.7" width="476.5" height="4.48" fill="url(#g11_59)"/>
<rect x="803.75" y="749.68" width="476.5" height="4.48" fill="url(#g11_60)"/>
<rect x="803.75" y="753.66" width="476.5" height="4.48" fill="url(#g11_61)"/>
<rect x="803.75" y="757.64" width="476.5" height="4.48" fill="url(#g11_62)"/>
<rect x="803.75" y="761.63" width="476.5" height="4.48" fill="url(#g11_63)"/>
<rect x="803.75" y="765.61" width="476.5" height="4.48" fill="url(#g11_64)"/>
<rect x="803.75" y="769.59" width="476.5" height="4.48" fill="url(#g11_65)"/>
<rect x="803.75" y="773.58" width="476.5" height="4.48" fill="url(#g11_66)"/>
<rect x="803.75" y="777.56" width="476.5" height="4.48" fill="url(#g11_67)"/>
<rect x="803.75" y="781.54" width="476.5" height="4.48" fill="url(#g11_68)"/>
<rect x="803.75" y="785.53" width="476.5" height="4.48" fill="url(#g11_69)"/>
<rect x="803.75" y="789.51" width="476.5" height="4.48" fill="url(#g11_70)"/>
<rect x="803.75" y="793.49" width="476.5" height="4.48" fill="url(#g11_71)"/>
<rect x="803.75" y="797.47" width="476.5" height="4.48" fill="url(#g11_72)"/>
<rect x="803.75" y="801.46" width="476.5" height="4.48" fill="url(#g11_73)"/>
<rect x="803.75" y="805.44" width="476.5" height="4.48" fill="url(#g11_74)"/>
<rect x="803.75" y="809.42" width="476.5" height="4.48" fill="url(#g11_75)"/>
<rect x="803.75" y="813.41" width="476.5" height="4.48" fill="url(#g11_76)"/>
<rect x="803.75" y="817.39" width="476.5" height="4.48" fill="url(#g11_77)"/>
<rect x="803.75" y="821.37" width="476.5" height="4.48" fill="url(#g11_78)"/>
<rect x="803.75" y="825.36" width="476.5" height="4.48" fill="url(#g11_79)"/>
<rect x="803.75" y="829.34" width="476.5" height="4.48" fill="url(#g11_80)"/>
<rect x="803.75" y="833.32" width="476.5" height="4.48" fill="url(#g11_81)"/>
<rect x="803.75" y="837.3" width="476.5" height="4.48" fill="url(#g11_82)"/>
<rect x="803.75" y="841.29" width="476.5" height="4.48" fill="url(#g11_83)"/>
<rect x="803.75" y="845.27" width="476.5" height="4.48" fill="url(#g11_84)"/>
<rect x="803.75" y="849.25" width="476.5" height="4.48" fill="url(#g11_85)"/>
<rect x="803.75" y="853.24" width="476.5" height="4.48" fill="url(#g11_86)"/>
<rect x="803.75" y="857.22" width="476.5" height="4.48" fill="url(#g11_87)"/>
<rect x="803.75" y="861.2" width="476.5" height="4.48" fill="url(#g11_88)"/>
<rect x="803.75" y="865.19" width="476.5" height="4.48" fill="url(#g11_89)"/>
<rect x="803.75" y="869.17" width="476.5" height="4.48" fill="url(#g11_90)"/>
<rect x="803.75" y="873.15" width="476.5" height="4.48" fill="url(#g11_91)"/>
<rect x="803.75" y="877.13" width="476.5" height="4.48" fill="url(#g11_92)"/>
<rect x="803.75" y="881.12" width="476.5" height="4.48" fill="url(#g11_93)"/>
</g>
<g shape-rendering="crispEdges">
<rect x="1467.5" y="510.7" width="476.5" height="4.48" fill="url(#g12_0)"/>
<rect x="1467.5" y="514.68" width="476.5" height="4.48" fill="url(#g12_1)"/>
<rect x="1467.5" y="518.67" width="476.5" height="4.48" fill="url(#g12_2)"/>
<rect x="1467.5" y="522.65" width="476.5" height="4.48" fill="url(#g12_3)"/>
<rect x="1467.5" y="526.63" width="476.5" height="4.48" fill="url(#g12_4)"/>
<rect x="1467.5" y="530.61" width="476.5" height="4.48" fill="url(#g12_5)"/>
<rect x="1467.5" y="534.6" width="476.5" height="4.48" fill="url(#g12_6)"/>
<rect x="1467.5" y="538.58" width="476.5" height="4.48" fill="url(#g12_7)"/>
<rect x="1467.5" y="542.56" width="476.5" height="4.48" fill="url(#g12_8)"/>
<rect x="1467.5" y="546.55" width="476.5" height="4.48" fill="url(#g12_9)"/>
<rect x="1467.5" y="550.53" width="476.5" height="4.48" fill="url(#g12_10)"/>
<rect x="1467.5" y="554.51" width="476.5" height="4.48" fill="url(#g12_11)"/>
<rect x="1467.5" y="558.5" width="476.5" height="4.48" fill="url(#g12_12)"/>
<rect x="1467.5" y="562.48" width="476.5" height="4.48" fill="url(#g12_13)"/>
<rect x="1467.5" y="566.46" width="476.5" height="4.48" fill="url(#g12_14)"/>
<rect x="1467.5" y="570.44" width="476.5" height="4.48" fill="url(#g12_15)"/>
<rect x="1467.5" y="574.43" width="476.5" height="4.48" fill="url(#g12_16)"/>
<rect x="1467.5" y="578.41" width="476.5" height="4.48" fill="url(#g12_17)"/>
<rect x="1467.5" y="582.39" width="476.5" height="4.48" fill="url(#g12_18)"/>
<rect x="1467.5" y="586.38" width="476.5" height="4.48" fill="url(#g12_19)"/>
<rect x="1467.5" y="590.36" width="476.5" height="4.48" fill="url(#g12_20)"/>
<rect x="1467.5" y="594.34" width="476.5" height="4.48" fill="url(#g12_21)"/>
<rect x="1467.5" y="598.33" width="476.5" height="4.48" fill="url(#g12_22)"/>
<rect x="1467.5" y="602.31" width="476.5" height="4.48" fill="url(#g12_23)"/>
<rect x="1467.5" y="606.29" width="476.5" height="4.48" fill="url(#g12_24)"/>
<rect x="1467.5" y="610.27" width="476.5" height="4.48" fill="url(#g12_25)"/>
<rect x="1467.5" y="614.26" width="476.5" height="4.48" fill="url(#g12_26)"/>
<rect x="1467.5" y="618.24" width="476.5" height="4.48" fill="url(#g12_27)"/>
<rect x="1467.5" y="622.22" width="476.5" height="4.48" fill="url(#g12_28)"/>
<rect x="1467.5" y="626.21" width="476.5" height="4.48" fill="url(#g12_29)"/>
<rect x="1467.5" y="630.19" width="476.5" height="4.48" fill="url(#g12_30)"/>
<rect x="1467.5" y="634.17" width="476.5" height="4.48" fill="url(#g12_31)"/>
<rect x="1467.5" y="638.16" width="476.5" height="4.48" fill="url(#g12_32)"/>
<rect x="1467.5" y="642.14" width="476.5" height="4.48" fill="url(#g12_33)"/>
<rect x="1467.5" y="646.12" width="476.5" height="4.48" fill="url(#g12_34)"/>
<rect x="1467.5" y="650.1" width="476.5" height="4.48" fill="url(#g12_35)"/>
<rect x="1467.5" y="654.09" width="476.5" height="4.48" fill="url(#g12_36)"/>
<rect x="1467.5" y="658.07" width="476.5" height="4.48" fill="url(#g12_37)"/>
<rect x="1467.5" y="662.05" width="476.5" height="4.48" fill="url(#g12_38)"/>
<rect x="1467.5" y="666.04" width="476.5" height="4.48" fill="url(#g12_39)"/>
<rect x="1467.5" y="670.02" width="476.5" height="4.48" fill="url(#g12_40)"/>
<rect x="1467.5" y="674" width="476.5" height="4.48" fill="url(#g12_41)"/>
<rect x="1467.5" y="677.99" width="476.5" height="4.48" fill="url(#g12_42)"/>
<rect x="1467.5" y="681.97" width="476.5" height="4.48" fill="url(#g12_43)"/>
<rect x="1467.5" y="685.95" width="476.5" height="4.48" fill="url(#g12_44)"/>
<rect x="1467.5" y="689.93" width="476.5" height="4.48" fill="url(#g12_45)"/>
<rect x="1467.5" y="693.92" width="476.5" height="4.48" fill="url(#g12_46)"/>
<rect x="1467.5" y="697.9" width="476.5" height="4.48" fill="url(#g12_47)"/>
<rect x="1467.5" y="701.88" width="476.5" height="4.48" fill="url(#g12_48)"/>
<rect x="1467.5" y="705.87" width="476.5" height="4.48" fill="url(#g12_49)"/>
<rect x="1467.5" y="709.85" width="476.5" height="4.48" fill="url(#g12_50)"/>
<rect x="1467.5" y="713.83" width="476.5" height="4.48" fill="url(#g12_51)"/>
<rect x="1467.5" y="717.81" width="476.5" height="4.48" fill="url(#g12_52)"/>
<rect x="1467.5" y="721.8" width="476.5" height="4.48" fill="url(#g12_53)"/>
<rect x="1467.5" y="725.78" width="476.5" height="4.48" fill="url(#g12_54)"/>
<rect x="1467.5" y="729.76" width="476.5" height="4.48" fill="url(#g12_55)"/>
<rect x="1467.5" y="733.75" width="476.5" height="4.48" fill="url(#g12_56)"/>
<rect x="1467.5" y="737.73" width="476.5" height="4.48" fill="url(#g12_57)"/>
<rect x="1467.5" y="741.71" width="476.5" height="4.48" fill="url(#g12_58)"/>
<rect x="1467.5" y="745.7" width="476.5" height="4.48" fill="url(#g12_59)"/>
<rect x="1467.5" y="749.68" width="476.5" height="4.48" fill="url(#g12_60)"/>
<rect x="1467.5" y="753.66" width="476.5" height="4.48" fill="url(#g12_61)"/>
<rect x="1467.5" y="757.64" width="476.5" height="4.48" fill="url(#g12_62)"/>
<rect x="1467.5" y="761.63" width="476.5" height="4.48" fill="url(#g12_63)"/>
<rect x="1467.5" y="765.61" width="476.5" height="4.48" fill="url(#g12_64)"/>
<rect x="1467.5" y="769.59" width="476.5" height="4.48" fill="url(#g12_65)"/>
<rect x="1467.5" y="773.58" width="476.5" height="4.48" fill="url(#g12_66)"/>
<rect x="1467.5" y="777.56" width="476.5" height="4.48" fill="url(#g12_67)"/>
<rect x="1467.5" y="781.54" width="476.5" height="4.48" fill="url(#g12_68)"/>
<rect x="1467.5" y="785.53" width="476.5" height="4.48" fill="url(#g12_69)"/>
<rect x="1467.5" y="789.51" width="476.5" height="4.48" fill="url(#g12_70)"/>
<rect x="1467.5" y="793.49" width="476.5" height="4.48" fill="url(#g12_71)"/>
<rect x="1467.5" y="797.47" width="476.5" height="4.48" fill="url(#g12_72)"/>
<rect x="1467.5" y="801.46" width="476.5" height="4.48" fill="url(#g12_73)"/>
<rect x="1467.5" y="805.44" width="476.5" height="4.48" fill="url(#g12_74)"/>
<rect x="1467.5" y="809.42" width="476.5" height="4.48" fill="url(#g12_75)"/>
<rect x="1467.5" y="813.41" width="476.5" height="4.48" fill="url(#g12_76)"/>
<rect x="1467.5" y="817.39" width="476.5" height="4.48" fill="url(#g12_77)"/>
<rect x="1467.5" y="821.37" width="476.5" height="4.48" fill="url(#g12_78)"/>
<rect x="1467.5" y="825.36" width="476.5" height="4.48" fill="url(#g12_79)"/>
<rect x="1467.5" y="829.34" width="476.5" height="4.48" fill="url(#g12_80)"/>
<rect x="1467.5" y="833.32" width="476.5" height="4.48" fill="url(#g12_81)"/>
<rect x="1467.5" y="837.3" width="476.5" height="4.48" fill="url(#g12_82)"/>
<rect x="1467.5" y="841.29" width="476.5" height="4.48" fill="url(#g12_83)"/>
<rect x="1467.5" y="845.27" width="476.5" height="4.48" fill="url(#g12_84)"/>
<rect x="1467.5" y="849.25" width="476.5" height="4.48" fill="url(#g12_85)"/>
<rect x="1467.5" y="853.24" width="476.5" height="4.48" fill="url(#g12_86)"/>
<rect x="1467.5" y="857.22" width="476.5" height="4.48" fill="url(#g12_87)"/>
<rect x="1467.5" y="861.2" width="476.5" height="4.48" fill="url(#g12_88)"/>
<rect x="1467.5" y="865.19" width="476.5" height="4.48" fill="url(#g12_89)"/>
<rect x="1467.5" y="869.17" width="476.5" height="4.48" fill="url(#g12_90)"/>
<rect x="1467.5" y="873.15" width="476.5" height="4.48" fill="url(#g12_91)"/>
<rect x="1467.5" y="877.13" width="476.5" height="4.48" fill="url(#g12_92)"/>
<rect x="1467.5" y="881.12" width="476.5" height="4.48" fill="url(#g12_93)"/>
</g>
<g shape-rendering="crispEdges">
<rect x="140" y="953.15" width="476.5" height="4.48" fill="url(#g20_0)"/>
<rect x="140" y="957.13" width="476.5" height="4.48" fill="url(#g20_1)"/>
<rect x="140" y="961.12" width="476.5" height="4.48" fill="url(#g20_2)"/>
<rect x="140" y="965.1" width="476.5" height="4.48" fill="url(#g20_3)"/>
<rect x="140" y="969.08" width="476.5" height="4.48" fill="url(#g20_4)"/>
<rect x="140" y="973.06" width="476.5" height="4.48" fill="url(#g20_5)"/>
<rect x="140" y="977.05" width="476.5" height="4.48" fill="url(#g20_6)"/>
<rect x="140" y="981.03" width="476.5" height="4.48" fill="url(#g20_7)"/>
<rect x="140" y="985.01" width="476.5" height="4.48" fill="url(#g20_8)"/>
<rect x="140" y="989" width="476.5" height="4.48" fill="url(#g20_9)"/>
<rect x="140" y="992.98" width="476.5" height="4.48" fill="url(#g20_10)"/>
<rect x="140" y="996.96" width="476.5" height="4.48" fill="url(#g20_11)"/>
<rect x="140" y="1000.95" width="476.5" height="4.48" fill="url(#g20_12)"/>
<rect x="140" y="1004.93" width="476.5" height="4.48" fill="url(#g20_13)"/>
<rect x="140" y="1008.91" width="476.5" height="4.48" fill="url(#g20_14)"/>
<rect x="140" y="1012.89" width="476.5" height="4.48" fill="url(#g20_15)"/>
<rect x="140" y="1016.88" width="476.5" height="4.48" fill="url(#g20_16)"/>
<rect x="140" y="1020.86" width="476.5" height="4.48" fill="url(#g20_17)"/>
<rect x="140" y="1024.84" width="476.5" height="4.48" fill="url(#g20_18)"/>
<rect x="140" y="1028.83" width="476.5" height="4.48" fill="url(#g20_19)"/>
<rect x="140" y="1032.81" width="476.5" height="4.48" fill="url(#g20_20)"/>
<rect x="140" y="1036.79" width="476.5" height="4.48" fill="url(#g20_21)"/>
<rect x="140" y="1040.78" width="476.5" height="4.48" fill="url(#g20_22)"/>
<rect x="140" y="1044.76" width="476.5" height="4.48" fill="url(#g20_23)"/>
<rect x="140" y="1048.74" width="476.5" height="4.48" fill="url(#g20_24)"/>
<rect x="140" y="1052.72" width="476.5" height="4.48" fill="url(#g20_25)"/>
<rect x="140" y="1056.71" width="476.5" height="4.48" fill="url(#g20_26)"/>
<rect x="140" y="1060.69" width="476.5" height="4.48" fill="url(#g20_27)"/>
<rect x="140" y="1064.67" width="476.5" height="4.48" fill="url(#g20_28)"/>
<rect x="140" y="1068.66" width="476.5" height="4.48" fill="url(#g20_29)"/>
<rect x="140" y="1072.64" width="476.5" height="4.48" fill="url(#g20_30)"/>
<rect x="140" y="1076.62" width="476.5" height="4.48" fill="url(#g20_31)"/>
<rect x="140" y="1080.61" width="476.5" height="4.48" fill="url(#g20_32)"/>
<rect x="140" y="1084.59" width="476.5" height="4.48" fill="url(#g20_33)"/>
<rect x="140" y="1088.57" width="476.5" height="4.48" fill="url(#g20_34)"/>
<rect x="140" y="1092.55" width="476.5" height="4.48" fill="url(#g20_35)"/>
<rect x="140" y="1096.54" width="476.5" height="4.48" fill="url(#g20_36)"/>
<rect x="140" y="1100.52" width="476.5" height="4.48" fill="url(#g20_37)"/>
<rect x="140" y="1104.5" width="476.5" height="4.48" fill="url(#g20_38)"/>
<rect x="140" y="1108.49" width="476.5" height="4.48" fill="url(#g20_39)"/>
<rect x="140" y="1112.47" width="476.5" height="4.48" fill="url(#g20_40)"/>
<rect x="140" y="1116.45" width="476.5" height="4.48" fill="url(#g20_41)"/>
<rect x="140" y="1120.44" width="476.5" height="4.48" fill="url(#g20_42)"/>
<rect x="140" y="1124.42" width="476.5" height="4.48" fill="url(#g20_43)"/>
<rect x="140" y="1128.4" width="476.5" height="4.48" fill="url(#g20_44)"/>
<rect x="140" y="1132.38" width="476.5" height="4.48" fill="url(#g20_45)"/>
<rect x="140" y="1136.37" width="476.5" height="4.48" fill="url(#g20_46)"/>
<rect x="140" y="1140.35" width="476.5" height="4.48" fill="url(#g20_47)"/>
<rect x="140" y="1144.33" width="476.5" height="4.48" fill="url(#g20_48)"/>
<rect x="140" y="1148.32" width="476.5" height="4.48" fill="url(#g20_49)"/>
<rect x="140" y="1152.3" width="476.5" height="4.48" fill="url(#g20_50)"/>
<rect x="140" y="1156.28" width="476.5" height="4.48" fill="url(#g20_51)"/>
<rect x="140" y="1160.26" width="476.5" height="4.48" fill="url(#g20_52)"/>
<rect x="140" y="1164.25" width="476.5" height="4.48" fill="url(#g20_53)"/>
<rect x="140" y="1168.23" width="476.5" height="4.48" fill="url(#g20_54)"/>
<rect x="140" y="1172.21" width="476.5" height="4.48" fill="url(#g20_55)"/>
<rect x="140" y="1176.2" width="476.5" height="4.48" fill="url(#g20_56)"/>
<rect x="140" y="1180.18" width="476.5" height="4.48" fill="url(#g20_57)"/>
<rect x="140" y="1184.16" width="476.5" height="4.48" fill="url(#g20_58)"/>
<rect x="140" y="1188.15" width="476.5" height="4.48" fill="url(#g20_59)"/>
<rect x="140" y="1192.13" width="476.5" height="4.48" fill="url(#g20_60)"/>
<rect x="140" y="1196.11" width="476.5" height="4.48" fill="url(#g20_61)"/>
<rect x="140" y="1200.09" width="476.5" height="4.48" fill="url(#g20_62)"/>
<rect x="140" y="1204.08" width="476.5" height="4.48" fill="url(#g20_63)"/>
<rect x="140" y="1208.06" width="476.5" height="4.48" fill="url(#g20_64)"/>
<rect x="140" y="1212.04" width="476.5" height="4.48" fill="url(#g20_65)"/>
<rect x="140" y="1216.03" width="476.5" height="4.48" fill="url(#g20_66)"/>
<rect x="140" y="1220.01" width="476.5" height="4.48" fill="url(#g20_67)"/>
<rect x="140" y="1223.99" width="476.5" height="4.48" fill="url(#g20_68)"/>
<rect x="140" y="1227.98" width="476.5" height="4.48" fill="url(#g20_69)"/>
<rect x="140" y="1231.96" width="476.5" height="4.48" fill="url(#g20_70)"/>
<rect x="140" y="1235.94" width="476.5" height="4.48" fill="url(#g20_71)"/>
<rect x="140" y="1239.92" width="476.5" height="4.48" fill="url(#g20_72)"/>
<rect x="140" y="1243.91" width="476.5" height="4.48" fill="url(#g20_73)"/>
<rect x="140" y="1247.89" width="476.5" height="4.48" fill="url(#g20_74)"/>
<rect x="140" y="1251.87" width="476.5" height="4.48" fill="url(#g20_75)"/>
<rect x="140" y="1255.86" width="476.5" height="4.48" fill="url(#g20_76)"/>
<rect x="140" y="1259.84" width="476.5" height="4.48" fill="url(#g20_77)"/>
<rect x="140" y="1263.82" width="476.5" height="4.48" fill="url(#g20_78)"/>
<rect x="140" y="1267.81" width="476.5" height="4.48" fill="url(#g20_79)"/>
<rect x="140" y="1271.79" width="476.5" height="4.48" fill="url(#g20_80)"/>
<rect x="140" y="1275.77" width="476.5" height="4.48" fill="url(#g20_81)"/>
<rect x="140" y="1279.75" width="476.5" height="4.48" fill="url(#g20_82)"/>
<rect x="140" y="1283.74" width="476.5" height="4.48" fill="url(#g20_83)"/>
<rect x="140" y="1287.72" width="476.5" height="4.48" fill="url(#g20_84)"/>
<rect x="140" y="1291.7" width="476.5" height="4.48" fill="url(#g20_85)"/>
<rect x="140" y="1295.69" width="476.5" height="4.48" fill="url(#g20_86)"/>
<rect x="140" y="1299.67" width="476.5" height="4.48" fill="url(#g20_87)"/>
<rect x="140" y="1303.65" width="476.5" height="4.48" fill="url(#g20_88)"/>
<rect x="140" y="1307.64" width="476.5" height="4.48" fill="url(#g20_89)"/>
<rect x="140" y="1311.62" width="476.5" height="4.48" fill="url(#g20_90)"/>
<rect x="140" y="1315.6" width="476.5" height="4.48" fill="url(#g20_91)"/>
<rect x="140" y="1319.58" width="476.5" height="4.48" fill="url(#g20_92)"/>
<rect x="140" y="1323.57" width="476.5" height="4.48" fill="url(#g20_93)"/>
</g>
<g shape-rendering="crispEdges">
<rect x="803.75" y="953.15" width="476.5" height="4.48" fill="url(#g21_0)"/>
<rect x="803.75" y="957.13" width="476.5" height="4.48" fill="url(#g21_1)"/>
<rect x="803.75" y="961.12" width="476.5" height="4.48" fill="url(#g21_2)"/>
<rect x="803.75" y="965.1" width="476.5" height="4.48" fill="url(#g21_3)"/>
<rect x="803.75" y="969.08" width="476.5" height="4.48" fill="url(#g21_4)"/>
<rect x="803.75" y="973.06" width="476.5" height="4.48" fill="url(#g21_5)"/>
<rect x="803.75" y="977.05" width="476.5" height="4.48" fill="url(#g21_6)"/>
<rect x="803.75" y="981.03" width="476.5" height="4.48" fill="url(#g21_7)"/>
<rect x="803.75" y="985.01" width="476.5" height="4.48" fill="url(#g21_8)"/>
<rect x="803.75" y="989" width="476.5" height="4.48" fill="url(#g21_9)"/>
<rect x="803.75" y="992.98" width="476.5" height="4.48" fill="url(#g21_10)"/>
<rect x="803.75" y="996.96" width="476.5" height="4.48" fill="url(#g21_11)"/>
<rect x="803.75" y="1000.95" width="476.5" height="4.48" fill="url(#g21_12)"/>
<rect x="803.75" y="1004.93" width="476.5" height="4.48" fill="url(#g21_13)"/>
<rect x="803.75" y="1008.91" width="476.5" height="4.48" fill="url(#g21_14)"/>
<rect x="803.75" y="1012.89" width="476.5" height="4.48" fill="url(#g21_15)"/>
<rect x="803.75" y="1016.88" width="476.5" height="4.48" fill="url(#g21_16)"/>
<rect x="803.75" y="1020.86" width="476.5" height="4.48" fill="url(#g21_17)"/>
<rect x="803.75" y="1024.84" width="476.5" height="4.48" fill="url(#g21_18)"/>
<rect x="803.75" y="1028.83" width="476.5" height="4.48" fill="url(#g21_19)"/>
<rect x="803.75" y="1032.81" width="476.5" height="4.48" fill="url(#g21_20)"/>
<rect x="803.75" y="1036.79" width="476.5" height="4.48" fill="url(#g21_21)"/>
<rect x="803.75" y="1040.78" width="476.5" height="4.48" fill="url(#g21_22)"/>
<rect x="803.75" y="1044.76" width="476.5" height="4.48" fill="url(#g21_23)"/>
<rect x="803.75" y="1048.74" width="476.5" height="4.48" fill="url(#g21_24)"/>
<rect x="803.75" y="1052.72" width="476.5" height="4.48" fill="url(#g21_25)"/>
<rect x="803.75" y="1056.71" width="476.5" height="4.48" fill="url(#g21_26)"/>
<rect x="803.75" y="1060.69" width="476.5" height="4.48" fill="url(#g21_27)"/>
<rect x="803.75" y="1064.67" width="476.5" height="4.48" fill="url(#g21_28)"/>
<rect x="803.75" y="1068.66" width="476.5" height="4.48" fill="url(#g21_29)"/>
<rect x="803.75" y="1072.64" width="476.5" height="4.48" fill="url(#g21_30)"/>
<rect x="803.75" y="1076.62" width="476.5" height="4.48" fill="url(#g21_31)"/>
<rect x="803.75" y="1080.61" width="476.5" height="4.48" fill="url(#g21_32)"/>
<rect x="803.75" y="1084.59" width="476.5" height="4.48" fill="url(#g21_33)"/>
<rect x="803.75" y="1088.57" width="476.5" height="4.48" fill="url(#g21_34)"/>
<rect x="803.75" y="1092.55" width="476.5" height="4.48" fill="url(#g21_35)"/>
<rect x="803.75" y="1096.54" width="476.5" height="4.48" fill="url(#g21_36)"/>
<rect x="803.75" y="1100.52" width="476.5" height="4.48" fill="url(#g21_37)"/>
<rect x="803.75" y="1104.5" width="476.5" height="4.48" fill="url(#g21_38)"/>
<rect x="803.75" y="1108.49" width="476.5" height="4.48" fill="url(#g21_39)"/>
<rect x="803.75" y="1112.47" width="476.5" height="4.48" fill="url(#g21_40)"/>
<rect x="803.75" y="1116.45" width="476.5" height="4.48" fill="url(#g21_41)"/>
<rect x="803.75" y="1120.44" width="476.5" height="4.48" fill="url(#g21_42)"/>
<rect x="803.75" y="1124.42" width="476.5" height="4.48" fill="url(#g21_43)"/>
<rect x="803.75" y="1128.4" width="476.5" height="4.48" fill="url(#g21_44)"/>
<rect x="803.75" y="1132.38" width="476.5" height="4.48" fill="url(#g21_45)"/>
<rect x="803.75" y="1136.37" width="476.5" height="4.48" fill="url(#g21_46)"/>
<rect x="803.75" y="1140.35" width="476.5" height="4.48" fill="url(#g21_47)"/>
<rect x="803.75" y="1144.33" width="476.5" height="4.48" fill="url(#g21_48)"/>
<rect x="803.75" y="1148.32" width="476.5" height="4.48" fill="url(#g21_49)"/>
<rect x="803.75" y="1152.3" width="476.5" height="4.48" fill="url(#g21_50)"/>
<rect x="803.75" y="1156.28" width="476.5" height="4.48" fill="url(#g21_51)"/>
<rect x="803.75" y="1160.26" width="476.5" height="4.48" fill="url(#g21_52)"/>
<rect x="803.75" y="1164.25" width="476.5" height="4.48" fill="url(#g21_53)"/>
<rect x="803.75" y="1168.23" width="476.5" height="4.48" fill="url(#g21_54)"/>
<rect x="803.75" y="1172.21" width="476.5" height="4.48" fill="url(#g21_55)"/>
<rect x="803.75" y="1176.2" width="476.5" height="4.48" fill="url(#g21_56)"/>
<rect x="803.75" y="1180.18" width="476.5" height="4.48" fill="url(#g21_57)"/>
<rect x="803.75" y="1184.16" width="476.5" height="4.48" fill="url(#g21_58)"/>
<rect x="803.75" y="1188.15" width="476.5" height="4.48" fill="url(#g21_59)"/>
<rect x="803.75" y="1192.13" width="476.5" height="4.48" fill="url(#g21_60)"/>
<rect x="803.75" y="1196.11" width="476.5" height="4.48" fill="url(#g21_61)"/>
<rect x="803.75" y="1200.09" width="476.5" height="4.48" fill="url(#g21_62)"/>
<rect x="803.75" y="1204.08" width="476.5" height="4.48" fill="url(#g21_63)"/>
<rect x="803.75" y="1208.06" width="476.5" height="4.48" fill="url(#g21_64)"/>
<rect x="803.75" y="1212.04" width="476.5" height="4.48" fill="url(#g21_65)"/>
<rect x="803.75" y="1216.03" width="476.5" height="4.48" fill="url(#g21_66)"/>
<rect x="803.75" y="1220.01" width="476.5" height="4.48" fill="url(#g21_67)"/>
<rect x="803.75" y="1223.99" width="476.5" height="4.48" fill="url(#g21_68)"/>
<rect x="803.75" y="1227.98" width="476.5" height="4.48" fill="url(#g21_69)"/>
<rect x="803.75" y="1231.96" width="476.5" height="4.48" fill="url(#g21_70)"/>
<rect x="803.75" y="1235.94" width="476.5" height="4.48" fill="url(#g21_71)"/>
<rect x="803.75" y="1239.92" width="476.5" height="4.48" fill="url(#g21_72)"/>
<rect x="803.75" y="1243.91" width="476.5" height="4.48" fill="url(#g21_73)"/>
<rect x="803.75" y="1247.89" width="476.5" height="4.48" fill="url(#g21_74)"/>
<rect x="803.75" y="1251.87" width="476.5" height="4.48" fill="url(#g21_75)"/>
<rect x="803.75" y="1255.86" width="476.5" height="4.48" fill="url(#g21_76)"/>
<rect x="803.75" y="1259.84" width="476.5" height="4.48" fill="url(#g21_77)"/>
<rect x="803.75" y="1263.82" width="476.5" height="4.48" fill="url(#g21_78)"/>
<rect x="803.75" y="1267.81" width="476.5" height="4.48" fill="url(#g21_79)"/>
<rect x="803.75" y="1271.79" width="476.5" height="4.48" fill="url(#g21_80)"/>
<rect x="803.75" y="1275.77" width="476.5" height="4.48" fill="url(#g21_81)"/>
<rect x="803.75" y="1279.75" width="476.5" height="4.48" fill="url(#g21_82)"/>
<rect x="803.75" y="1283.74" width="476.5" height="4.48" fill="url(#g21_83)"/>
<rect x="803.75" y="1287.72" width="476.5" height="4.48" fill="url(#g21_84)"/>
<rect x="803.75" y="1291.7" width="476.5" height="4.48" fill="url(#g21_85)"/>
<rect x="803.75" y="1295.69" width="476.5" height="4.48" fill="url(#g21_86)"/>
<rect x="803.75" y="1299.67" width="476.5" height="4.48" fill="url(#g21_87)"/>
<rect x="803.75" y="1303.65" width="476.5" height="4.48" fill="url(#g21_88)"/>
<rect x="803.75" y="1307.64" width="476.5" height="4.48" fill="url(#g21_89)"/>
<rect x="803.75" y="1311.62" width="476.5" height="4.48" fill="url(#g21_90)"/>
<rect x="803.75" y="1315.6" width="476.5" height="4.48" fill="url(#g21_91)"/>
<rect x="803.75" y="1319.58" width="476.5" height="4.48" fill="url(#g21_92)"/>
<rect x="803.75" y="1323.57" width="476.5" height="4.48" fill="url(#g21_93)"/>
</g>
<g shape-rendering="crispEdges">
<rect x="1467.5" y="953.15" width="476.5" height="4.48" fill="url(#g22_0)"/>
<rect x="1467.5" y="957.13" width="476.5" height="4.48" fill="url(#g22_1)"/>
<rect x="1467.5" y="961.12" width="476.5" height="4.48" fill="url(#g22_2)"/>
<rect x="1467.5" y="965.1" width="476.5" height="4.48" fill="url(#g22_3)"/>
<rect x="1467.5" y="969.08" width="476.5" height="4.48" fill="url(#g22_4)"/>
<rect x="1467.5" y="973.06" width="476.5" height="4.48" fill="url(#g22_5)"/>
<rect x="1467.5" y="977.05" width="476.5" height="4.48" fill="url(#g22_6)"/>
<rect x="1467.5" y="981.03" width="476.5" height="4.48" fill="url(#g22_7)"/>
<rect x="1467.5" y="985.01" width="476.5" height="4.48" fill="url(#g22_8)"/>
<rect x="1467.5" y="989" width="476.5" height="4.48" fill="url(#g22_9)"/>
<rect x="1467.5" y="992.98" width="476.5" height="4.48" fill="url(#g22_10)"/>
<rect x="1467.5" y="996.96" width="476.5" height="4.48" fill="url(#g22_11)"/>
<rect x="1467.5" y="1000.95" width="476.5" height="4.48" fill="url(#g22_12)"/>
<rect x="1467.5" y="1004.93" width="476.5" height="4.48" fill="url(#g22_13)"/>
<rect x="1467.5" y="1008.91" width="476.5" height="4.48" fill="url(#g22_14)"/>
<rect x="1467.5" y="1012.89" width="476.5" height="4.48" fill="url(#g22_15)"/>
<rect x="1467.5" y="1016.88" width="476.5" height="4.48" fill="url(#g22_16)"/>
<rect x="1467.5" y="1020.86" width="476.5" height="4.48" fill="url(#g22_17)"/>
<rect x="1467.5" y="1024.84" width="476.5" height="4.48" fill="url(#g22_18)"/>
<rect x="1467.5" y="1028.83" width="476.5" height="4.48" fill="url(#g22_19)"/>
<rect x="1467.5" y="1032.81" width="476.5" height="4.48" fill="url(#g22_20)"/>
<rect x="1467.5" y="1036.79" width="476.5" height="4.48" fill="url(#g22_21)"/>
<rect x="1467.5" y="1040.78" width="476.5" height="4.48" fill="url(#g22_22)"/>
<rect x="1467.5" y="1044.76" width="476.5" height="4.48" fill="url(#g22_23)"/>
<rect x="1467.5" y="1048.74" width="476.5" height="4.48" fill="url(#g22_24)"/>
<rect x="1467.5" y="1052.72" width="476.5" height="4.48" fill="url(#g22_25)"/>
<rect x="1467.5" y="1056.71" width="476.5" height="4.48" fill="url(#g22_26)"/>
<rect x="1467.5" y="1060.69" width="476.5" height="4.48" fill="url(#g22_27)"/>
<rect x="1467.5" y="1064.67" width="476.5" height="4.48" fill="url(#g22_28)"/>
<rect x="1467.5" y="1068.66" width="476.5" height="4.48" fill="url(#g22_29)"/>
<rect x="1467.5" y="1072.64" width="476.5" height="4.48" fill="url(#g22_30)"/>
<rect x="1467.5" y="1076.62" width="476.5" height="4.48" fill="url(#g22_31)"/>
<rect x="1467.5" y="1080.61" width="476.5" height="4.48" fill="url(#g22_32)"/>
<rect x="1467.5" y="1084.59" width="476.5" height="4.48" fill="url(#g22_33)"/>
<rect x="1467.5" y="1088.57" width="476.5" height="4.48" fill="url(#g22_34)"/>
<rect x="1467.5" y="1092.55" width="476.5" height="4.48" fill="url(#g22_35)"/>
<rect x="1467.5" y="1096.54" width="476.5" height="4.48" fill="url(#g22_36)"/>
<rect x="1467.5" y="1100.52" width="476.5" height="4.48" fill="url(#g22_37)"/>
<rect x="1467.5" y="1104.5" width="476.5" height="4.48" fill="url(#g22_38)"/>
<rect x="1467.5" y="1108.49" width="476.5" height="4.48" fill="url(#g22_39)"/>
<rect x="1467.5" y="1112.47" width="476.5" height="4.48" fill="url(#g22_40)"/>
<rect x="1467.5" y="1116.45" width="476.5" height="4.48" fill="url(#g22_41)"/>
<rect x="1467.5" y="1120.44" width="476.5" height="4.48" fill="url(#g22_42)"/>
<rect x="1467.5" y="1124.42" width="476.5" height="4.48" fill="url(#g22_43)"/>
<rect x="1467.5" y="1128.4" width="476.5" height="4.48" fill="url(#g22_44)"/>
<rect x="1467.5" y="1132.38" width="476.5" height="4.48" fill="url(#g22_45)"/>
<rect x="1467.5" y="1136.37" width="476.5" height="4.48" fill="url(#g22_46)"/>
<rect x="1467.5" y="1140.35" width="476.5" height="4.48" fill="url(#g22_47)"/>
<rect x="1467.5" y="1144.33" width="476.5" height="4.48" fill="url(#g22_48)"/>
<rect x="1467.5" y="1148.32" width="476.5" height="4.48" fill="url(#g22_49)"/>
<rect x="1467.5" y="1152.3" width="476.5" height="4.48" fill="url(#g22_50)"/>
<rect x="1467.5" y="1156.28" width="476.5" height="4.48" fill="url(#g22_51)"/>
<rect x="1467.5" y="1160.26" width="476.5" height="4.48" fill="url(#g22_52)"/>
<rect x="1467.5" y="1164.25" width="476.5" height="4.48" fill="url(#g22_53)"/>
<rect x="1467.5" y="1168.23" width="476.5" height="4.48" fill="url(#g22_54)"/>
<rect x="1467.5" y="1172.21" width="476.5" height="4.48" fill="url(#g22_55)"/>
<rect x="1467.5" y="1176.2" width="476.5" height="4.48" fill="url(#g22_56)"/>
<rect x="1467.5" y="1180.18" width="476.5" height="4.48" fill="url(#g22_57)"/>
<rect x="1467.5" y="1184.16" width="476.5" height="4.48" fill="url(#g22_58)"/>
<rect x="1467.5" y="1188.15" width="476.5" height="4.48" fill="url(#g22_59)"/>
<rect x="1467.5" y="1192.13" width="476.5" height="4.48" fill="url(#g22_60)"/>
<rect x="1467.5" y="1196.11" width="476.5" height="4.48" fill="url(#g22_61)"/>
<rect x="1467.5" y="1200.09" width="476.5" height="4.48" fill="url(#g22_62)"/>
<rect x="1467.5" y="1204.08" width="476.5" height="4.48" fill="url(#g22_63)"/>
<rect x="1467.5" y="1208.06" width="476.5" height="4.48" fill="url(#g22_64)"/>
<rect x="1467.5" y="1212.04" width="476.5" height="4.48" fill="url(#g22_65)"/>
<rect x="1467.5" y="1216.03" width="476.5" height="4.48" fill="url(#g22_66)"/>
<rect x="1467.5" y="1220.01" width="476.5" height="4.48" fill="url(#g22_67)"/>
<rect x="1467.5" y="1223.99" width="476.5" height="4.48" fill="url(#g22_68)"/>
<rect x="1467.5" y="1227.98" width="476.5" height="4.48" fill="url(#g22_69)"/>
<rect x="1467.5" y="1231.96" width="476.5" height="4.48" fill="url(#g22_70)"/>
<rect x="1467.5" y="1235.94" width="476.5" height="4.48" fill="url(#g22_71)"/>
<rect x="1467.5" y="1239.92" width="476.5" height="4.48" fill="url(#g22_72)"/>
<rect x="1467.5" y="1243.91" width="476.5" height="4.48" fill="url(#g22_73)"/>
<rect x="1467.5" y="1247.89" width="476.5" height="4.48" fill="url(#g22_74)"/>
<rect x="1467.5" y="1251.87" width="476.5" height="4.48" fill="url(#g22_75)"/>
<rect x="1467.5" y="1255.86" width="476.5" height="4.48" fill="url(#g22_76)"/>
<rect x="1467.5" y="1259.84" width="476.5" height="4.48" fill="url(#g22_77)"/>
<rect x="1467.5" y="1263.82" width="476.5" height="4.48" fill="url(#g22_78)"/>
<rect x="1467.5" y="1267.81" width="476.5" height="4.48" fill="url(#g22_79)"/>
<rect x="1467.5" y="1271.79" width="476.5" height="4.48" fill="url(#g22_80)"/>
<rect x="1467.5" y="1275.77" width="476.5" height="4.48" fill="url(#g22_81)"/>
<rect x="1467.5" y="1279.75" width="476.5" height="4.48" fill="url(#g22_82)"/>
<rect x="1467.5" y="1283.74" width="476.5" height="4.48" fill="url(#g22_83)"/>
<rect x="1467.5" y="1287.72" width="476.5" height="4.48" fill="url(#g22_84)"/>
<rect x="1467.5" y="1291.7" width="476.5" height="4.48" fill="url(#g22_85)"/>
<rect x="1467.5" y="1295.69" width="476.5" height="4.48" fill="url(#g22_86)"/>
<rect x="1467.5" y="1299.67" width="476.5" height="4.48" fill="url(#g22_87)"/>
<rect x="1467.5" y="1303.65" width="476.5" height="4.48" fill="url(#g22_88)"/>
<rect x="1467.5" y="1307.64" width="476.5" height="4.48" fill="url(#g22_89)"/>
<rect x="1467.5" y="1311.62" width="476.5" height="4.48" fill="url(#g22_90)"/>
<rect x="1467.5" y="1315.6" width="476.5" height="4.48" fill="url(#g22_91)"/>
<rect x="1467.5" y="1319.58" width="476.5" height="4.48" fill="url(#g22_92)"/>
<rect x="1467.5" y="1323.57" width="476.5" height="4.48" fill="url(#g22_93)"/>
</g>
<path d="M140.00 181.00L363.90 206.37M445.40 215.61L616.50 235.00" stroke="#000" stroke-width="5.60" fill="none"/>
<text x="0.00" y="0.00" font-size="36.00" text-anchor="middle" transform="translate(404.65 210.99) rotate(6.47)"><tspan dy="9.72">7.0</tspan></text>
<path d="M803.75 198.80L1027.60 223.79M1109.40 232.93L1280.25 252.00" stroke="#000" stroke-width="5.60" fill="none"/>
<text x="0.00" y="0.00" font-size="36.00" text-anchor="middle" transform="translate(1068.50 228.36) rotate(6.37)"><tspan dy="9.72">6.0</tspan></text>
<path d="M1467.50 341.60L1638.00 360.81M1719.80 370.03L1944.00 395.30" stroke="#000" stroke-width="5.60" fill="none"/>
<text x="0.00" y="0.00" font-size="36.00" text-anchor="middle" transform="translate(1678.90 365.42) rotate(6.43)"><tspan dy="9.72">4.0</tspan></text>
<path d="M140.00 519.30L364.00 544.40M445.30 553.51L616.50 572.70" stroke="#000" stroke-width="5.60" fill="none"/>
<text x="0.00" y="0.00" font-size="36.00" text-anchor="middle" transform="translate(404.65 548.96) rotate(6.39)"><tspan dy="9.72">7.0</tspan></text>
<path d="M803.75 537.10L974.40 556.19M1056.10 565.33L1280.25 590.40" stroke="#000" stroke-width="5.60" fill="none"/>
<text x="0.00" y="0.00" font-size="36.00" text-anchor="middle" transform="translate(1015.25 560.76) rotate(6.38)"><tspan dy="9.72">6.0</tspan></text>
<path d="M1467.50 680.10L1691.40 704.91M1773.00 713.95L1944.00 732.90" stroke="#000" stroke-width="5.60" fill="none"/>
<text x="0.00" y="0.00" font-size="36.00" text-anchor="middle" transform="translate(1732.20 709.43) rotate(6.32)"><tspan dy="9.72">4.0</tspan></text>
<path d="M140.0 1014.2L185.3 1021.0L241.0 1027.3L296.8 1032.0L344.2 1036.5L372.1 1044.9L405.4 1054.7L414.5 1059.4M475.2 1112.0L482.1 1120.8L494.0 1161.2L495.5 1201.6L492.4 1240.8L490.5 1285.3L499.3 1327.8" stroke="#000" stroke-width="5.60" fill="none" stroke-linejoin="miter" clip-path="url(#clip20)"/>
<text x="0.00" y="0.00" font-size="36.00" text-anchor="middle" transform="translate(453.35 1075.83) rotate(40.89)"><tspan dy="9.72">7.0</tspan></text>
<path d="M803.8 1048.9L855.7 1059.9L910.0 1066.3L962.9 1070.6L1016.0 1077.5L1059.2 1096.2M1117.8 1152.0L1123.2 1161.2L1130.2 1201.6L1128.7 1240.6L1126.6 1285.1L1131.1 1327.8" stroke="#000" stroke-width="5.60" fill="none" stroke-linejoin="miter" clip-path="url(#clip21)"/>
<text x="0.00" y="0.00" font-size="36.00" text-anchor="middle" transform="translate(1093.97 1118.33) rotate(43.59)"><tspan dy="9.72">6.0</tspan></text>
<path d="M1467.5 1044.9L1519.7 1052.4L1571.1 1060.9L1624.3 1066.8L1680.0 1070.6L1724.6 1072.8L1763.6 1077.5L1785.8 1085.0L1802.5 1097.0M1862.5 1152.0L1871.3 1161.2L1891.1 1201.6L1894.4 1244.7L1890.4 1289.4L1883.5 1327.8" stroke="#000" stroke-width="5.60" fill="none" stroke-linejoin="miter" clip-path="url(#clip22)"/>
<text x="0.00" y="0.00" font-size="36.00" text-anchor="middle" transform="translate(1837.90 1118.60) rotate(42.51)"><tspan dy="9.72">4.0</tspan></text>
<polygon points="488.4,216.9 500.2,103.5 490.1,102.5 524.5,74.7 552.4,109.0 542.4,107.9 530.6,221.3" fill="#25d3fe"/>
<text x="0.00" y="0.00" font-size="27.40" text-anchor="middle" transform="translate(515.85 158.00) rotate(-84.07)"><tspan dy="8.22">Collapse</tspan></text>
<rect x="646.30" y="68.50" width="37.40" height="374.40" fill="url(#cb)" stroke="#333" stroke-width="1.00"/>
<line x1="683.70" y1="424.90" x2="694.50" y2="424.90" stroke="#000" stroke-width="2.40"/>
<text x="698.70" y="434.94" font-size="24.20" text-anchor="start">4.0</text>
<line x1="683.70" y1="354.61" x2="694.50" y2="354.61" stroke="#000" stroke-width="2.40"/>
<text x="698.70" y="364.64" font-size="24.20" text-anchor="start">5.0</text>
<line x1="683.70" y1="284.31" x2="694.50" y2="284.31" stroke="#000" stroke-width="2.40"/>
<text x="698.70" y="294.34" font-size="24.20" text-anchor="start">6.0</text>
<line x1="683.70" y1="214.01" x2="694.50" y2="214.01" stroke="#000" stroke-width="2.40"/>
<text x="698.70" y="224.05" font-size="24.20" text-anchor="start">7.0</text>
<line x1="683.70" y1="143.72" x2="694.50" y2="143.72" stroke="#000" stroke-width="2.40"/>
<text x="698.70" y="153.75" font-size="24.20" text-anchor="start">8.0</text>
<line x1="683.70" y1="73.42" x2="694.50" y2="73.42" stroke="#000" stroke-width="2.40"/>
<text x="698.70" y="83.45" font-size="24.20" text-anchor="start">9.0</text>
<rect x="140.00" y="68.50" width="476.50" height="374.40" fill="none" stroke="#333" stroke-width="1.00"/>
<line x1="128.80" y1="68.50" x2="140.00" y2="68.50" stroke="#000" stroke-width="2.40"/>
<text x="124.20" y="78.13" font-size="24.20" text-anchor="end">9.0</text>
<line x1="140.00" y1="442.90" x2="140.00" y2="454.10" stroke="#000" stroke-width="2.40"/>
<line x1="128.80" y1="162.10" x2="140.00" y2="162.10" stroke="#000" stroke-width="2.40"/>
<text x="124.20" y="171.73" font-size="24.20" text-anchor="end">8.5</text>
<line x1="259.12" y1="442.90" x2="259.12" y2="454.10" stroke="#000" stroke-width="2.40"/>
<line x1="128.80" y1="255.70" x2="140.00" y2="255.70" stroke="#000" stroke-width="2.40"/>
<text x="124.20" y="265.33" font-size="24.20" text-anchor="end">8.0</text>
<line x1="378.25" y1="442.90" x2="378.25" y2="454.10" stroke="#000" stroke-width="2.40"/>
<line x1="128.80" y1="349.30" x2="140.00" y2="349.30" stroke="#000" stroke-width="2.40"/>
<text x="124.20" y="358.93" font-size="24.20" text-anchor="end">7.5</text>
<line x1="497.38" y1="442.90" x2="497.38" y2="454.10" stroke="#000" stroke-width="2.40"/>
<line x1="128.80" y1="442.90" x2="140.00" y2="442.90" stroke="#000" stroke-width="2.40"/>
<text x="124.20" y="452.53" font-size="24.20" text-anchor="end">7.0</text>
<line x1="616.50" y1="442.90" x2="616.50" y2="454.10" stroke="#000" stroke-width="2.40"/>
<rect x="1310.05" y="68.50" width="37.40" height="374.40" fill="url(#cb)" stroke="#333" stroke-width="1.00"/>
<line x1="1347.45" y1="440.09" x2="1358.25" y2="440.09" stroke="#000" stroke-width="2.40"/>
<text x="1362.45" y="450.12" font-size="24.20" text-anchor="start">3.0</text>
<line x1="1347.45" y1="369.75" x2="1358.25" y2="369.75" stroke="#000" stroke-width="2.40"/>
<text x="1362.45" y="379.78" font-size="24.20" text-anchor="start">4.0</text>
<line x1="1347.45" y1="299.41" x2="1358.25" y2="299.41" stroke="#000" stroke-width="2.40"/>
<text x="1362.45" y="309.45" font-size="24.20" text-anchor="start">5.0</text>
<line x1="1347.45" y1="229.08" x2="1358.25" y2="229.08" stroke="#000" stroke-width="2.40"/>
<text x="1362.45" y="239.11" font-size="24.20" text-anchor="start">6.0</text>
<line x1="1347.45" y1="158.74" x2="1358.25" y2="158.74" stroke="#000" stroke-width="2.40"/>
<text x="1362.45" y="168.77" font-size="24.20" text-anchor="start">7.0</text>
<line x1="1347.45" y1="88.41" x2="1358.25" y2="88.41" stroke="#000" stroke-width="2.40"/>
<text x="1362.45" y="98.44" font-size="24.20" text-anchor="start">8.0</text>
<rect x="803.75" y="68.50" width="476.50" height="374.40" fill="none" stroke="#333" stroke-width="1.00"/>
<line x1="792.55" y1="68.50" x2="803.75" y2="68.50" stroke="#000" stroke-width="2.40"/>
<line x1="803.75" y1="442.90" x2="803.75" y2="454.10" stroke="#000" stroke-width="2.40"/>
<line x1="792.55" y1="162.10" x2="803.75" y2="162.10" stroke="#000" stroke-width="2.40"/>
<line x1="922.88" y1="442.90" x2="922.88" y2="454.10" stroke="#000" stroke-width="2.40"/>
<line x1="792.55" y1="255.70" x2="803.75" y2="255.70" stroke="#000" stroke-width="2.40"/>
<line x1="1042.00" y1="442.90" x2="1042.00" y2="454.10" stroke="#000" stroke-width="2.40"/>
<line x1="792.55" y1="349.30" x2="803.75" y2="349.30" stroke="#000" stroke-width="2.40"/>
<line x1="1161.12" y1="442.90" x2="1161.12" y2="454.10" stroke="#000" stroke-width="2.40"/>
<line x1="792.55" y1="442.90" x2="803.75" y2="442.90" stroke="#000" stroke-width="2.40"/>
<line x1="1280.25" y1="442.90" x2="1280.25" y2="454.10" stroke="#000" stroke-width="2.40"/>
<rect x="1973.80" y="68.50" width="37.40" height="374.40" fill="url(#cb)" stroke="#333" stroke-width="1.00"/>
<line x1="2011.20" y1="424.28" x2="2022.00" y2="424.28" stroke="#000" stroke-width="2.40"/>
<text x="2026.20" y="434.31" font-size="24.20" text-anchor="start">3.0</text>
<line x1="2011.20" y1="354.01" x2="2022.00" y2="354.01" stroke="#000" stroke-width="2.40"/>
<text x="2026.20" y="364.04" font-size="24.20" text-anchor="start">4.0</text>
<line x1="2011.20" y1="283.74" x2="2022.00" y2="283.74" stroke="#000" stroke-width="2.40"/>
<text x="2026.20" y="293.77" font-size="24.20" text-anchor="start">5.0</text>
<line x1="2011.20" y1="213.47" x2="2022.00" y2="213.47" stroke="#000" stroke-width="2.40"/>
<text x="2026.20" y="223.50" font-size="24.20" text-anchor="start">6.0</text>
<line x1="2011.20" y1="143.20" x2="2022.00" y2="143.20" stroke="#000" stroke-width="2.40"/>
<text x="2026.20" y="153.23" font-size="24.20" text-anchor="start">7.0</text>
<line x1="2011.20" y1="72.93" x2="2022.00" y2="72.93" stroke="#000" stroke-width="2.40"/>
<text x="2026.20" y="82.96" font-size="24.20" text-anchor="start">8.0</text>
<rect x="1467.50" y="68.50" width="476.50" height="374.40" fill="none" stroke="#333" stroke-width="1.00"/>
<line x1="1456.30" y1="68.50" x2="1467.50" y2="68.50" stroke="#000" stroke-width="2.40"/>
<line x1="1467.50" y1="442.90" x2="1467.50" y2="454.10" stroke="#000" stroke-width="2.40"/>
<line x1="1456.30" y1="162.10" x2="1467.50" y2="162.10" stroke="#000" stroke-width="2.40"/>
<line x1="1586.62" y1="442.90" x2="1586.62" y2="454.10" stroke="#000" stroke-width="2.40"/>
<line x1="1456.30" y1="255.70" x2="1467.50" y2="255.70" stroke="#000" stroke-width="2.40"/>
<line x1="1705.75" y1="442.90" x2="1705.75" y2="454.10" stroke="#000" stroke-width="2.40"/>
<line x1="1456.30" y1="349.30" x2="1467.50" y2="349.30" stroke="#000" stroke-width="2.40"/>
<line x1="1824.88" y1="442.90" x2="1824.88" y2="454.10" stroke="#000" stroke-width="2.40"/>
<line x1="1456.30" y1="442.90" x2="1467.50" y2="442.90" stroke="#000" stroke-width="2.40"/>
<line x1="1944.00" y1="442.90" x2="1944.00" y2="454.10" stroke="#000" stroke-width="2.40"/>
<rect x="646.30" y="510.95" width="37.40" height="374.40" fill="url(#cb)" stroke="#333" stroke-width="1.00"/>
<line x1="683.70" y1="877.13" x2="694.50" y2="877.13" stroke="#000" stroke-width="2.40"/>
<text x="698.70" y="887.16" font-size="24.20" text-anchor="start">3.0</text>
<line x1="683.70" y1="800.28" x2="694.50" y2="800.28" stroke="#000" stroke-width="2.40"/>
<text x="698.70" y="810.31" font-size="24.20" text-anchor="start">4.0</text>
<line x1="683.70" y1="723.43" x2="694.50" y2="723.43" stroke="#000" stroke-width="2.40"/>
<text x="698.70" y="733.47" font-size="24.20" text-anchor="start">5.0</text>
<line x1="683.70" y1="646.59" x2="694.50" y2="646.59" stroke="#000" stroke-width="2.40"/>
<text x="698.70" y="656.62" font-size="24.20" text-anchor="start">6.0</text>
<line x1="683.70" y1="569.74" x2="694.50" y2="569.74" stroke="#000" stroke-width="2.40"/>
<text x="698.70" y="579.77" font-size="24.20" text-anchor="start">7.0</text>
<rect x="140.00" y="510.95" width="476.50" height="374.40" fill="none" stroke="#333" stroke-width="1.00"/>
<line x1="128.80" y1="510.95" x2="140.00" y2="510.95" stroke="#000" stroke-width="2.40"/>
<text x="124.20" y="520.58" font-size="24.20" text-anchor="end">9.0</text>
<line x1="140.00" y1="885.35" x2="140.00" y2="896.55" stroke="#000" stroke-width="2.40"/>
<line x1="128.80" y1="604.55" x2="140.00" y2="604.55" stroke="#000" stroke-width="2.40"/>
<text x="124.20" y="614.18" font-size="24.20" text-anchor="end">8.5</text>
<line x1="259.12" y1="885.35" x2="259.12" y2="896.55" stroke="#000" stroke-width="2.40"/>
<line x1="128.80" y1="698.15" x2="140.00" y2="698.15" stroke="#000" stroke-width="2.40"/>
<text x="124.20" y="707.78" font-size="24.20" text-anchor="end">8.0</text>
<line x1="378.25" y1="885.35" x2="378.25" y2="896.55" stroke="#000" stroke-width="2.40"/>
<line x1="128.80" y1="791.75" x2="140.00" y2="791.75" stroke="#000" stroke-width="2.40"/>
<text x="124.20" y="801.38" font-size="24.20" text-anchor="end">7.5</text>
<line x1="497.38" y1="885.35" x2="497.38" y2="896.55" stroke="#000" stroke-width="2.40"/>
<line x1="128.80" y1="885.35" x2="140.00" y2="885.35" stroke="#000" stroke-width="2.40"/>
<text x="124.20" y="894.98" font-size="24.20" text-anchor="end">7.0</text>
<line x1="616.50" y1="885.35" x2="616.50" y2="896.55" stroke="#000" stroke-width="2.40"/>
<rect x="1310.05" y="510.95" width="37.40" height="374.40" fill="url(#cb)" stroke="#333" stroke-width="1.00"/>
<line x1="1347.45" y1="816.79" x2="1358.25" y2="816.79" stroke="#000" stroke-width="2.40"/>
<text x="1362.45" y="826.82" font-size="24.20" text-anchor="start">3.0</text>
<line x1="1347.45" y1="740.10" x2="1358.25" y2="740.10" stroke="#000" stroke-width="2.40"/>
<text x="1362.45" y="750.13" font-size="24.20" text-anchor="start">4.0</text>
<line x1="1347.45" y1="663.41" x2="1358.25" y2="663.41" stroke="#000" stroke-width="2.40"/>
<text x="1362.45" y="673.44" font-size="24.20" text-anchor="start">5.0</text>
<line x1="1347.45" y1="586.72" x2="1358.25" y2="586.72" stroke="#000" stroke-width="2.40"/>
<text x="1362.45" y="596.75" font-size="24.20" text-anchor="start">6.0</text>
<rect x="803.75" y="510.95" width="476.50" height="374.40" fill="none" stroke="#333" stroke-width="1.00"/>
<line x1="792.55" y1="510.95" x2="803.75" y2="510.95" stroke="#000" stroke-width="2.40"/>
<line x1="803.75" y1="885.35" x2="803.75" y2="896.55" stroke="#000" stroke-width="2.40"/>
<line x1="792.55" y1="604.55" x2="803.75" y2="604.55" stroke="#000" stroke-width="2.40"/>
<line x1="922.88" y1="885.35" x2="922.88" y2="896.55" stroke="#000" stroke-width="2.40"/>
<line x1="792.55" y1="698.15" x2="803.75" y2="698.15" stroke="#000" stroke-width="2.40"/>
<line x1="1042.00" y1="885.35" x2="1042.00" y2="896.55" stroke="#000" stroke-width="2.40"/>
<line x1="792.55" y1="791.75" x2="803.75" y2="791.75" stroke="#000" stroke-width="2.40"/>
<line x1="1161.12" y1="885.35" x2="1161.12" y2="896.55" stroke="#000" stroke-width="2.40"/>
<line x1="792.55" y1="885.35" x2="803.75" y2="885.35" stroke="#000" stroke-width="2.40"/>
<line x1="1280.25" y1="885.35" x2="1280.25" y2="896.55" stroke="#000" stroke-width="2.40"/>
<rect x="1973.80" y="510.95" width="37.40" height="374.40" fill="url(#cb)" stroke="#333" stroke-width="1.00"/>
<line x1="2011.20" y1="877.13" x2="2022.00" y2="877.13" stroke="#000" stroke-width="2.40"/>
<text x="2026.20" y="887.16" font-size="24.20" text-anchor="start">2.0</text>
<line x1="2011.20" y1="800.28" x2="2022.00" y2="800.28" stroke="#000" stroke-width="2.40"/>
<text x="2026.20" y="810.31" font-size="24.20" text-anchor="start">3.0</text>
<line x1="2011.20" y1="723.43" x2="2022.00" y2="723.43" stroke="#000" stroke-width="2.40"/>
<text x="2026.20" y="733.47" font-size="24.20" text-anchor="start">4.0</text>
<line x1="2011.20" y1="646.59" x2="2022.00" y2="646.59" stroke="#000" stroke-width="2.40"/>
<text x="2026.20" y="656.62" font-size="24.20" text-anchor="start">5.0</text>
<line x1="2011.20" y1="569.74" x2="2022.00" y2="569.74" stroke="#000" stroke-width="2.40"/>
<text x="2026.20" y="579.77" font-size="24.20" text-anchor="start">6.0</text>
<rect x="1467.50" y="510.95" width="476.50" height="374.40" fill="none" stroke="#333" stroke-width="1.00"/>
<line x1="1456.30" y1="510.95" x2="1467.50" y2="510.95" stroke="#000" stroke-width="2.40"/>
<line x1="1467.50" y1="885.35" x2="1467.50" y2="896.55" stroke="#000" stroke-width="2.40"/>
<line x1="1456.30" y1="604.55" x2="1467.50" y2="604.55" stroke="#000" stroke-width="2.40"/>
<line x1="1586.62" y1="885.35" x2="1586.62" y2="896.55" stroke="#000" stroke-width="2.40"/>
<line x1="1456.30" y1="698.15" x2="1467.50" y2="698.15" stroke="#000" stroke-width="2.40"/>
<line x1="1705.75" y1="885.35" x2="1705.75" y2="896.55" stroke="#000" stroke-width="2.40"/>
<line x1="1456.30" y1="791.75" x2="1467.50" y2="791.75" stroke="#000" stroke-width="2.40"/>
<line x1="1824.88" y1="885.35" x2="1824.88" y2="896.55" stroke="#000" stroke-width="2.40"/>
<line x1="1456.30" y1="885.35" x2="1467.50" y2="885.35" stroke="#000" stroke-width="2.40"/>
<line x1="1944.00" y1="885.35" x2="1944.00" y2="896.55" stroke="#000" stroke-width="2.40"/>
<rect x="646.30" y="953.40" width="37.40" height="374.40" fill="url(#cb)" stroke="#333" stroke-width="1.00"/>
<line x1="683.70" y1="1303.35" x2="694.50" y2="1303.35" stroke="#000" stroke-width="2.40"/>
<text x="698.70" y="1313.38" font-size="24.20" text-anchor="start">6.0</text>
<line x1="683.70" y1="1166.76" x2="694.50" y2="1166.76" stroke="#000" stroke-width="2.40"/>
<text x="698.70" y="1176.79" font-size="24.20" text-anchor="start">7.0</text>
<line x1="683.70" y1="1030.16" x2="694.50" y2="1030.16" stroke="#000" stroke-width="2.40"/>
<text x="698.70" y="1040.20" font-size="24.20" text-anchor="start">8.0</text>
<rect x="140.00" y="953.40" width="476.50" height="374.40" fill="none" stroke="#333" stroke-width="1.00"/>
<line x1="128.80" y1="953.40" x2="140.00" y2="953.40" stroke="#000" stroke-width="2.40"/>
<text x="124.20" y="963.03" font-size="24.20" text-anchor="end">9.0</text>
<line x1="140.00" y1="1327.80" x2="140.00" y2="1339.00" stroke="#000" stroke-width="2.40"/>
<text x="140.00" y="1362.00" font-size="24.20" text-anchor="middle">−2.0</text>
<line x1="128.80" y1="1047.00" x2="140.00" y2="1047.00" stroke="#000" stroke-width="2.40"/>
<text x="124.20" y="1056.63" font-size="24.20" text-anchor="end">8.5</text>
<line x1="259.12" y1="1327.80" x2="259.12" y2="1339.00" stroke="#000" stroke-width="2.40"/>
<text x="259.12" y="1362.00" font-size="24.20" text-anchor="middle">−1.5</text>
<line x1="128.80" y1="1140.60" x2="140.00" y2="1140.60" stroke="#000" stroke-width="2.40"/>
<text x="124.20" y="1150.23" font-size="24.20" text-anchor="end">8.0</text>
<line x1="378.25" y1="1327.80" x2="378.25" y2="1339.00" stroke="#000" stroke-width="2.40"/>
<text x="378.25" y="1362.00" font-size="24.20" text-anchor="middle">−1.0</text>
<line x1="128.80" y1="1234.20" x2="140.00" y2="1234.20" stroke="#000" stroke-width="2.40"/>
<text x="124.20" y="1243.83" font-size="24.20" text-anchor="end">7.5</text>
<line x1="497.38" y1="1327.80" x2="497.38" y2="1339.00" stroke="#000" stroke-width="2.40"/>
<text x="497.38" y="1362.00" font-size="24.20" text-anchor="middle">−0.5</text>
<line x1="128.80" y1="1327.80" x2="140.00" y2="1327.80" stroke="#000" stroke-width="2.40"/>
<text x="124.20" y="1337.43" font-size="24.20" text-anchor="end">7.0</text>
<line x1="616.50" y1="1327.80" x2="616.50" y2="1339.00" stroke="#000" stroke-width="2.40"/>
<text x="616.50" y="1362.00" font-size="24.20" text-anchor="middle">0.0</text>
<rect x="1310.05" y="953.40" width="37.40" height="374.40" fill="url(#cb)" stroke="#333" stroke-width="1.00"/>
<line x1="1347.45" y1="1320.42" x2="1358.25" y2="1320.42" stroke="#000" stroke-width="2.40"/>
<text x="1362.45" y="1330.46" font-size="24.20" text-anchor="start">5.1</text>
<line x1="1347.45" y1="1183.83" x2="1358.25" y2="1183.83" stroke="#000" stroke-width="2.40"/>
<text x="1362.45" y="1193.86" font-size="24.20" text-anchor="start">6.1</text>
<line x1="1347.45" y1="1047.24" x2="1358.25" y2="1047.24" stroke="#000" stroke-width="2.40"/>
<text x="1362.45" y="1057.27" font-size="24.20" text-anchor="start">7.1</text>
<rect x="803.75" y="953.40" width="476.50" height="374.40" fill="none" stroke="#333" stroke-width="1.00"/>
<line x1="792.55" y1="953.40" x2="803.75" y2="953.40" stroke="#000" stroke-width="2.40"/>
<line x1="803.75" y1="1327.80" x2="803.75" y2="1339.00" stroke="#000" stroke-width="2.40"/>
<text x="803.75" y="1362.00" font-size="24.20" text-anchor="middle">−2.0</text>
<line x1="792.55" y1="1047.00" x2="803.75" y2="1047.00" stroke="#000" stroke-width="2.40"/>
<line x1="922.88" y1="1327.80" x2="922.88" y2="1339.00" stroke="#000" stroke-width="2.40"/>
<text x="922.88" y="1362.00" font-size="24.20" text-anchor="middle">−1.5</text>
<line x1="792.55" y1="1140.60" x2="803.75" y2="1140.60" stroke="#000" stroke-width="2.40"/>
<line x1="1042.00" y1="1327.80" x2="1042.00" y2="1339.00" stroke="#000" stroke-width="2.40"/>
<text x="1042.00" y="1362.00" font-size="24.20" text-anchor="middle">−1.0</text>
<line x1="792.55" y1="1234.20" x2="803.75" y2="1234.20" stroke="#000" stroke-width="2.40"/>
<line x1="1161.12" y1="1327.80" x2="1161.12" y2="1339.00" stroke="#000" stroke-width="2.40"/>
<text x="1161.12" y="1362.00" font-size="24.20" text-anchor="middle">−0.5</text>
<line x1="792.55" y1="1327.80" x2="803.75" y2="1327.80" stroke="#000" stroke-width="2.40"/>
<line x1="1280.25" y1="1327.80" x2="1280.25" y2="1339.00" stroke="#000" stroke-width="2.40"/>
<text x="1280.25" y="1362.00" font-size="24.20" text-anchor="middle">0.0</text>
<rect x="1973.80" y="953.40" width="37.40" height="374.40" fill="url(#cb)" stroke="#333" stroke-width="1.00"/>
<line x1="2011.20" y1="1322.72" x2="2022.00" y2="1322.72" stroke="#000" stroke-width="2.40"/>
<text x="2026.20" y="1332.75" font-size="24.20" text-anchor="start">3.0</text>
<line x1="2011.20" y1="1188.91" x2="2022.00" y2="1188.91" stroke="#000" stroke-width="2.40"/>
<text x="2026.20" y="1198.94" font-size="24.20" text-anchor="start">4.0</text>
<line x1="2011.20" y1="1055.10" x2="2022.00" y2="1055.10" stroke="#000" stroke-width="2.40"/>
<text x="2026.20" y="1065.13" font-size="24.20" text-anchor="start">5.0</text>
<rect x="1467.50" y="953.40" width="476.50" height="374.40" fill="none" stroke="#333" stroke-width="1.00"/>
<line x1="1456.30" y1="953.40" x2="1467.50" y2="953.40" stroke="#000" stroke-width="2.40"/>
<line x1="1467.50" y1="1327.80" x2="1467.50" y2="1339.00" stroke="#000" stroke-width="2.40"/>
<text x="1467.50" y="1362.00" font-size="24.20" text-anchor="middle">−2.0</text>
<line x1="1456.30" y1="1047.00" x2="1467.50" y2="1047.00" stroke="#000" stroke-width="2.40"/>
<line x1="1586.62" y1="1327.80" x2="1586.62" y2="1339.00" stroke="#000" stroke-width="2.40"/>
<text x="1586.62" y="1362.00" font-size="24.20" text-anchor="middle">−1.5</text>
<line x1="1456.30" y1="1140.60" x2="1467.50" y2="1140.60" stroke="#000" stroke-width="2.40"/>
<line x1="1705.75" y1="1327.80" x2="1705.75" y2="1339.00" stroke="#000" stroke-width="2.40"/>
<text x="1705.75" y="1362.00" font-size="24.20" text-anchor="middle">−1.0</text>
<line x1="1456.30" y1="1234.20" x2="1467.50" y2="1234.20" stroke="#000" stroke-width="2.40"/>
<line x1="1824.88" y1="1327.80" x2="1824.88" y2="1339.00" stroke="#000" stroke-width="2.40"/>
<text x="1824.88" y="1362.00" font-size="24.20" text-anchor="middle">−0.5</text>
<line x1="1456.30" y1="1327.80" x2="1467.50" y2="1327.80" stroke="#000" stroke-width="2.40"/>
<line x1="1944.00" y1="1327.80" x2="1944.00" y2="1339.00" stroke="#000" stroke-width="2.40"/>
<text x="1944.00" y="1362.00" font-size="24.20" text-anchor="middle">0.0</text>
<text x="378.25" y="25.60" font-size="33.00" text-anchor="middle"><tspan font-style="italic">m</tspan><tspan dy="5.28" font-size="23.10">⋆</tspan><tspan dy="-5.28" dx="-1.91"> =</tspan><tspan dx="-3.23"> 10</tspan><tspan dx="1.06" font-style="italic"> M</tspan><tspan dy="5.28" font-size="23.10">⊙</tspan></text>
<text x="1042.00" y="25.60" font-size="33.00" text-anchor="middle"><tspan font-style="italic">m</tspan><tspan dy="5.28" font-size="23.10">⋆</tspan><tspan dy="-5.28" dx="-1.91"> =</tspan><tspan dx="-3.23"> 60</tspan><tspan dx="1.06" font-style="italic"> M</tspan><tspan dy="5.28" font-size="23.10">⊙</tspan></text>
<text x="1705.75" y="25.60" font-size="33.00" text-anchor="middle"><tspan font-style="italic">m</tspan><tspan dy="5.28" font-size="23.10">⋆</tspan><tspan dy="-5.28" dx="-1.91"> =</tspan><tspan dx="-3.23"> 100</tspan><tspan dx="1.06" font-style="italic"> M</tspan><tspan dy="5.28" font-size="23.10">⊙</tspan></text>
<text x="378.25" y="61.60" font-size="25.80" text-anchor="middle"><tspan font-style="italic">R</tspan><tspan dy="4.13" font-size="18.06">m</tspan><tspan dy="-4.13" dx="-2.79"> =</tspan><tspan dx="-2.79"> 5</tspan><tspan dx="-4.33"> ×</tspan><tspan dx="-3.69"> 10</tspan><tspan dy="-9.29" font-size="18.06">−5</tspan></text>
<text x="1042.00" y="61.60" font-size="25.80" text-anchor="middle"><tspan font-style="italic">R</tspan><tspan dy="4.13" font-size="18.06">m</tspan><tspan dy="-4.13" dx="-2.79"> =</tspan><tspan dx="-2.79"> 5</tspan><tspan dx="-4.33"> ×</tspan><tspan dx="-3.69"> 10</tspan><tspan dy="-9.29" font-size="18.06">−5</tspan></text>
<text x="1705.75" y="61.60" font-size="25.80" text-anchor="middle"><tspan font-style="italic">R</tspan><tspan dy="4.13" font-size="18.06">m</tspan><tspan dy="-4.13" dx="-2.79"> =</tspan><tspan dx="-2.79"> 5</tspan><tspan dx="-4.33"> ×</tspan><tspan dx="-3.69"> 10</tspan><tspan dy="-9.29" font-size="18.06">−5</tspan></text>
<text x="378.25" y="504.05" font-size="25.80" text-anchor="middle"><tspan font-style="italic">R</tspan><tspan dy="4.13" font-size="18.06">m</tspan><tspan dy="-4.13" dx="-2.79"> =</tspan><tspan dx="-2.79"> 0.001</tspan></text>
<text x="1042.00" y="504.05" font-size="25.80" text-anchor="middle"><tspan font-style="italic">R</tspan><tspan dy="4.13" font-size="18.06">m</tspan><tspan dy="-4.13" dx="-2.79"> =</tspan><tspan dx="-2.79"> 0.001</tspan></text>
<text x="1705.75" y="504.05" font-size="25.80" text-anchor="middle"><tspan font-style="italic">R</tspan><tspan dy="4.13" font-size="18.06">m</tspan><tspan dy="-4.13" dx="-2.79"> =</tspan><tspan dx="-2.79"> 0.001</tspan></text>
<text x="378.25" y="946.50" font-size="25.80" text-anchor="middle"><tspan font-style="italic">R</tspan><tspan dy="4.13" font-size="18.06">m</tspan><tspan dy="-4.13" dx="-2.79"> =</tspan><tspan dx="-2.79"> 0.5</tspan></text>
<text x="1042.00" y="946.50" font-size="25.80" text-anchor="middle"><tspan font-style="italic">R</tspan><tspan dy="4.13" font-size="18.06">m</tspan><tspan dy="-4.13" dx="-2.79"> =</tspan><tspan dx="-2.79"> 0.5</tspan></text>
<text x="1705.75" y="946.50" font-size="25.80" text-anchor="middle"><tspan font-style="italic">R</tspan><tspan dy="4.13" font-size="18.06">m</tspan><tspan dy="-4.13" dx="-2.79"> =</tspan><tspan dx="-2.79"> 0.01</tspan></text>
<text x="0.00" y="0.00" font-size="33.00" text-anchor="middle" transform="translate(32.00 254.70) rotate(-90.00)"><tspan font-style="italic">R</tspan><tspan dy="5.28" font-size="23.10">out</tspan><tspan dy="-5.28" dx="-1.91"> =</tspan><tspan dx="-1.91"> 2</tspan><tspan dx="-3.56"> ×</tspan><tspan dx="-3.89"> 10</tspan><tspan dy="-11.88" font-size="23.10">5</tspan><tspan dy="11.88" dx="0.40" font-style="italic"> R</tspan><tspan dy="5.28" font-size="23.10">g</tspan></text>
<text x="0.00" y="0.00" font-size="33.00" text-anchor="middle" transform="translate(32.00 697.15) rotate(-90.00)"><tspan font-style="italic">R</tspan><tspan dy="5.28" font-size="23.10">out</tspan><tspan dy="-5.28" dx="-1.91"> =</tspan><tspan dx="-1.91"> 10</tspan><tspan dy="-11.88" font-size="23.10">4</tspan><tspan dy="11.88" dx="0.40" font-style="italic"> R</tspan><tspan dy="5.28" font-size="23.10">g</tspan></text>
<text x="0.00" y="0.00" font-size="33.00" text-anchor="middle" transform="translate(32.00 1139.60) rotate(-90.00)"><tspan font-style="italic">R</tspan><tspan dy="5.28" font-size="23.10">out</tspan><tspan dy="-5.28" dx="-1.91"> =</tspan><tspan dx="-1.91"> 10</tspan><tspan dy="-11.88" font-size="23.10">3</tspan><tspan dy="11.88" dx="0.40" font-style="italic"> R</tspan><tspan dy="5.28" font-size="23.10">g</tspan></text>
<text x="0.00" y="0.00" font-size="28.50" text-anchor="middle" transform="translate(75.00 255.90) rotate(-90.00)">log(<tspan font-style="italic">M/M</tspan><tspan dy="4.56" font-size="19.95">⊙</tspan><tspan dy="-4.56">)</tspan></text>
<text x="0.00" y="0.00" font-size="28.50" text-anchor="middle" transform="translate(75.00 698.35) rotate(-90.00)">log(<tspan font-style="italic">M/M</tspan><tspan dy="4.56" font-size="19.95">⊙</tspan><tspan dy="-4.56">)</tspan></text>
<text x="0.00" y="0.00" font-size="28.50" text-anchor="middle" transform="translate(75.00 1140.80) rotate(-90.00)">log(<tspan font-style="italic">M/M</tspan><tspan dy="4.56" font-size="19.95">⊙</tspan><tspan dy="-4.56">)</tspan></text>
<text x="378.25" y="1392.90" font-size="28.50" text-anchor="middle">log(<tspan font-style="italic">l</tspan><tspan dy="4.56" font-size="19.95">E</tspan><tspan dy="-4.56">)</tspan></text>
<text x="1042.00" y="1392.90" font-size="28.50" text-anchor="middle">log(<tspan font-style="italic">l</tspan><tspan dy="4.56" font-size="19.95">E</tspan><tspan dy="-4.56">)</tspan></text>
<text x="1705.75" y="1392.90" font-size="28.50" text-anchor="middle">log(<tspan font-style="italic">l</tspan><tspan dy="4.56" font-size="19.95">E</tspan><tspan dy="-4.56">)</tspan></text>
<text x="0.00" y="0.00" font-size="28.50" text-anchor="middle" transform="translate(2092.50 255.70) rotate(-90.00)">log(<tspan font-style="italic">t</tspan><tspan dy="4.56" font-size="19.95">mig</tspan><tspan dy="-4.56" font-style="italic">/yr</tspan>)</text>
<text x="0.00" y="0.00" font-size="28.50" text-anchor="middle" transform="translate(2092.50 698.15) rotate(-90.00)">log(<tspan font-style="italic">t</tspan><tspan dy="4.56" font-size="19.95">mig</tspan><tspan dy="-4.56" font-style="italic">/yr</tspan>)</text>
<text x="0.00" y="0.00" font-size="28.50" text-anchor="middle" transform="translate(2092.50 1140.60) rotate(-90.00)">log(<tspan font-style="italic">t</tspan><tspan dy="4.56" font-size="19.95">mig</tspan><tspan dy="-4.56" font-style="italic">/yr</tspan>)</text>
</svg></body></html>
